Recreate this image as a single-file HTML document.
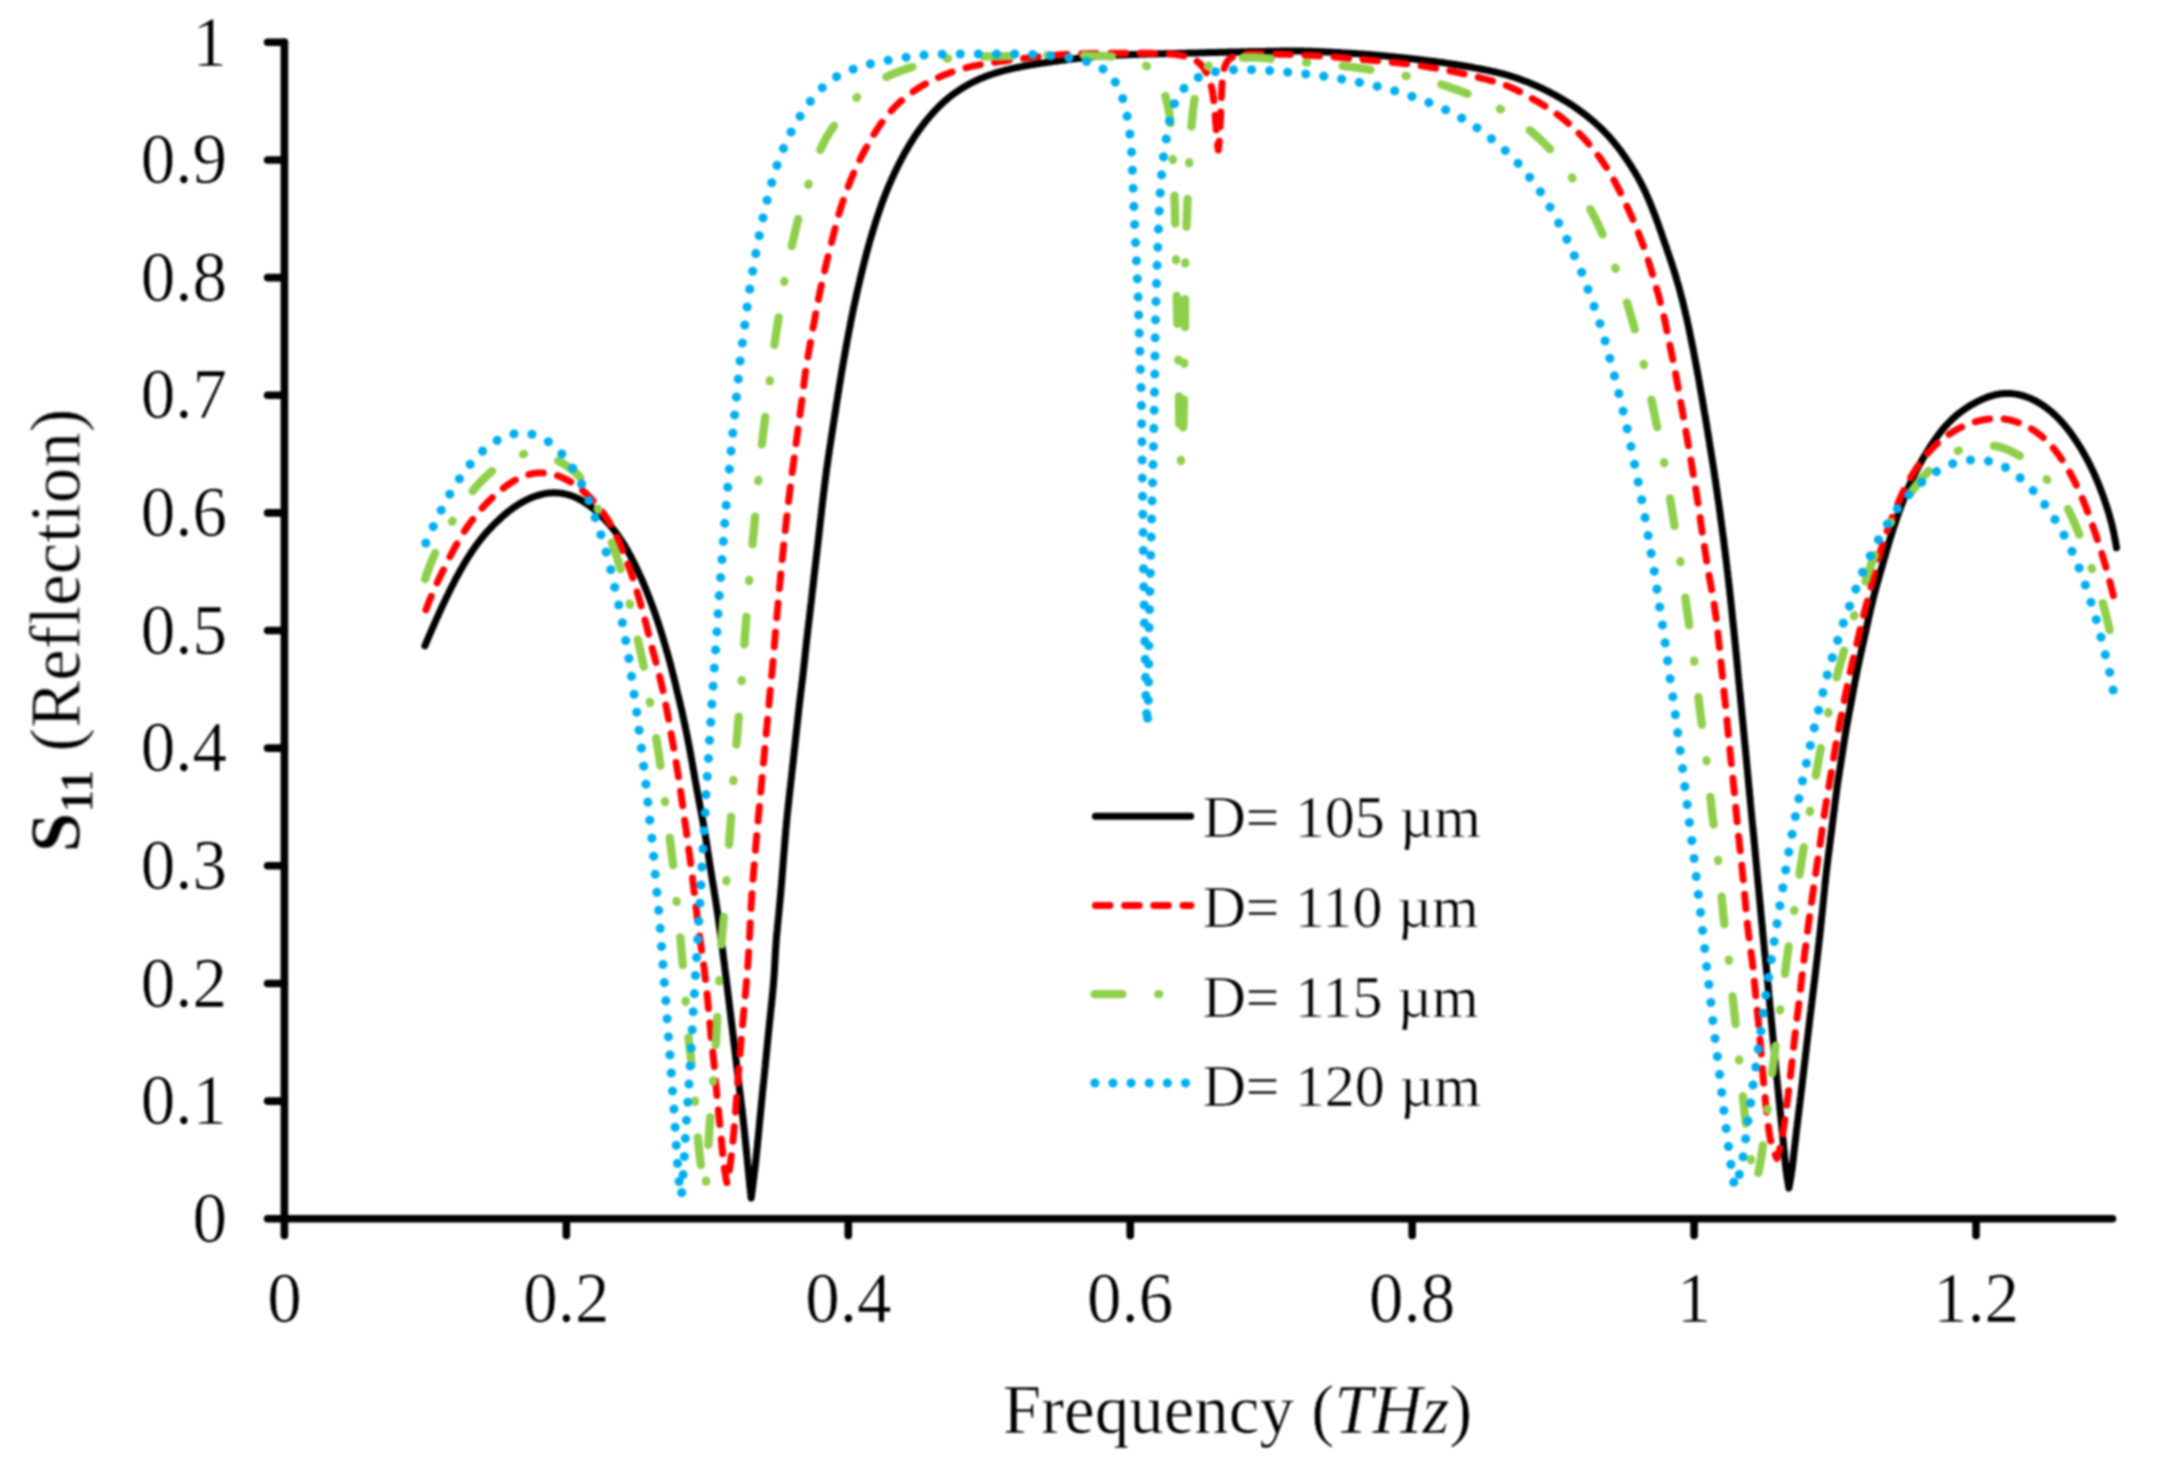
<!DOCTYPE html>
<html><head><meta charset="utf-8"><title>S11 Reflection vs Frequency</title>
<style>
html,body{margin:0;padding:0;background:#fff;}
svg{display:block}
text{font-family:"Liberation Serif","Times New Roman",serif;fill:#000;stroke:#fff;stroke-width:0.6px}
.t{font-size:69px}
.l{font-size:60px}
</style></head><body>
<svg width="2171" height="1477" viewBox="0 0 2171 1477">
<defs><filter id="soft" filterUnits="userSpaceOnUse" x="0" y="0" width="2171" height="1477"><feGaussianBlur stdDeviation="1.3" color-interpolation-filters="sRGB"/></filter></defs>
<rect width="2171" height="1477" fill="#fff"/>
<g filter="url(#soft)">

<g fill="none" stroke-linecap="round" stroke-linejoin="round">
<path d="M424.9,645.8 L425.5,644.4 L426.1,643.0 L426.7,641.6 L427.2,640.3 L427.8,638.9 L428.4,637.5 L429.0,636.1 L429.6,634.7 L430.2,633.4 L430.8,632.0 L431.4,630.6 L432.0,629.2 L432.6,627.8 L433.2,626.5 L433.8,625.1 L434.4,623.7 L435.0,622.3 L435.6,621.0 L436.2,619.6 L436.8,618.2 L437.5,616.8 L438.1,615.5 L438.7,614.1 L439.3,612.7 L439.9,611.4 L440.6,610.0 L441.2,608.6 L441.8,607.3 L442.4,605.9 L443.1,604.5 L443.7,603.2 L444.4,601.8 L445.0,600.5 L445.6,599.1 L446.3,597.8 L446.9,596.4 L447.6,595.1 L448.3,593.7 L448.9,592.4 L449.6,591.0 L450.3,589.7 L450.9,588.3 L451.6,587.0 L452.3,585.6 L453.0,584.3 L453.7,583.0 L454.3,581.6 L455.0,580.3 L455.7,579.0 L456.4,577.6 L457.1,576.3 L457.9,575.0 L458.6,573.7 L459.3,572.3 L460.0,571.0 L460.8,569.7 L461.5,568.4 L462.2,567.1 L463.0,565.8 L463.7,564.5 L464.5,563.2 L465.3,561.9 L466.1,560.6 L466.8,559.3 L467.6,558.1 L468.4,556.8 L469.2,555.5 L470.1,554.3 L470.9,553.0 L471.7,551.8 L472.5,550.5 L473.4,549.3 L474.3,548.0 L475.1,546.8 L476.0,545.6 L476.9,544.4 L477.8,543.2 L478.7,542.0 L479.6,540.8 L480.5,539.6 L481.5,538.4 L482.4,537.3 L483.4,536.1 L484.3,535.0 L485.3,533.8 L486.3,532.7 L487.3,531.6 L488.3,530.5 L489.3,529.4 L490.4,528.3 L491.4,527.2 L492.4,526.1 L493.5,525.0 L494.5,524.0 L495.6,522.9 L496.7,521.9 L497.8,520.8 L498.9,519.8 L500.0,518.8 L501.1,517.7 L502.2,516.7 L503.3,515.8 L504.5,514.8 L505.6,513.8 L506.8,512.8 L507.9,511.9 L509.1,511.0 L510.3,510.1 L511.5,509.2 L512.7,508.3 L513.9,507.4 L515.2,506.6 L516.4,505.7 L517.7,504.9 L519.0,504.1 L520.2,503.4 L521.5,502.6 L522.8,501.9 L524.2,501.2 L525.5,500.5 L526.8,499.8 L528.2,499.2 L529.5,498.5 L530.9,497.9 L532.3,497.4 L533.7,496.8 L535.1,496.3 L536.5,495.8 L537.9,495.4 L539.4,495.0 L540.8,494.6 L542.2,494.2 L543.7,493.9 L545.2,493.6 L546.6,493.3 L548.1,493.1 L549.5,493.0 L551.0,492.9 L552.5,492.8 L554.0,492.8 L555.4,492.8 L556.9,492.9 L558.4,493.0 L559.9,493.1 L561.3,493.3 L562.8,493.5 L564.2,493.8 L565.7,494.1 L567.1,494.5 L568.5,494.9 L570.0,495.3 L571.4,495.8 L572.7,496.3 L574.1,496.8 L575.5,497.4 L576.8,498.0 L578.2,498.7 L579.5,499.4 L580.8,500.1 L582.1,500.8 L583.4,501.6 L584.6,502.4 L585.9,503.2 L587.1,504.1 L588.3,504.9 L589.6,505.8 L590.8,506.7 L591.9,507.7 L593.1,508.6 L594.3,509.6 L595.4,510.5 L596.5,511.5 L597.6,512.5 L598.8,513.5 L599.9,514.6 L600.9,515.6 L602.0,516.7 L603.1,517.7 L604.1,518.8 L605.2,519.9 L606.2,521.0 L607.2,522.1 L608.2,523.2 L609.2,524.3 L610.2,525.5 L611.1,526.6 L612.1,527.8 L613.0,528.9 L614.0,530.1 L614.9,531.3 L615.8,532.5 L616.7,533.7 L617.6,534.9 L618.4,536.1 L619.3,537.4 L620.1,538.6 L621.0,539.9 L621.8,541.1 L622.6,542.4 L623.4,543.6 L624.2,544.9 L625.0,546.2 L625.7,547.5 L626.5,548.8 L627.2,550.1 L628.0,551.4 L628.7,552.7 L629.4,554.0 L630.2,555.3 L630.9,556.7 L631.6,558.0 L632.3,559.3 L632.9,560.7 L633.6,562.0 L634.3,563.3 L635.0,564.7 L635.6,566.0 L636.3,567.4 L636.9,568.8 L637.6,570.1 L638.2,571.5 L638.8,572.8 L639.4,574.2 L640.1,575.6 L640.7,577.0 L641.3,578.3 L641.9,579.7 L642.5,581.1 L643.1,582.5 L643.7,583.8 L644.2,585.2 L644.8,586.6 L645.4,588.0 L645.9,589.4 L646.5,590.8 L647.1,592.2 L647.6,593.6 L648.2,595.0 L648.7,596.4 L649.3,597.8 L649.8,599.2 L650.3,600.6 L650.9,602.0 L651.4,603.4 L651.9,604.8 L652.4,606.2 L652.9,607.6 L653.5,609.1 L654.0,610.5 L654.5,611.9 L655.0,613.3 L655.5,614.7 L655.9,616.1 L656.4,617.6 L656.9,619.0 L657.4,620.4 L657.9,621.8 L658.3,623.3 L658.8,624.7 L659.3,626.1 L659.7,627.6 L660.2,629.0 L660.6,630.4 L661.1,631.9 L661.5,633.3 L662.0,634.7 L662.4,636.2 L662.8,637.6 L663.3,639.0 L663.7,640.5 L664.1,641.9 L664.5,643.4 L665.0,644.8 L665.4,646.2 L665.8,647.7 L666.2,649.1 L666.6,650.6 L667.1,652.0 L667.5,653.5 L667.9,654.9 L668.3,656.4 L668.7,657.8 L669.1,659.3 L669.5,660.7 L669.9,662.2 L670.3,663.6 L670.6,665.1 L671.0,666.5 L671.4,668.0 L671.8,669.4 L672.2,670.9 L672.5,672.3 L672.9,673.8 L673.3,675.2 L673.6,676.7 L674.0,678.2 L674.4,679.6 L674.7,681.1 L675.1,682.5 L675.4,684.0 L675.8,685.5 L676.1,686.9 L676.5,688.4 L676.8,689.8 L677.2,691.3 L677.5,692.8 L677.9,694.2 L678.2,695.7 L678.6,697.1 L678.9,698.6 L679.3,700.1 L679.6,701.5 L680.0,703.0 L680.3,704.5 L680.6,705.9 L681.0,707.4 L681.3,708.9 L681.7,710.3 L682.0,711.8 L682.3,713.3 L682.6,714.7 L683.0,716.2 L683.3,717.7 L683.6,719.1 L683.9,720.6 L684.2,722.1 L684.6,723.5 L684.9,725.0 L685.2,726.5 L685.5,727.9 L685.8,729.4 L686.1,730.9 L686.4,732.4 L686.7,733.8 L687.0,735.3 L687.3,736.8 L687.6,738.2 L687.9,739.7 L688.2,741.2 L688.4,742.7 L688.7,744.1 L689.0,745.6 L689.3,747.1 L689.6,748.6 L689.8,750.1 L690.1,751.5 L690.4,753.0 L690.7,754.5 L690.9,756.0 L691.2,757.4 L691.5,758.9 L691.7,760.4 L692.0,761.9 L692.3,763.4 L692.5,764.8 L692.8,766.3 L693.0,767.8 L693.3,769.3 L693.6,770.8 L693.8,772.2 L694.1,773.7 L694.4,775.2 L694.6,776.7 L694.9,778.2 L695.1,779.6 L695.4,781.1 L695.7,782.6 L695.9,784.1 L696.2,785.6 L696.5,787.0 L696.7,788.5 L697.0,790.0 L697.3,791.5 L697.5,792.9 L697.8,794.4 L698.1,795.9 L698.3,797.4 L698.6,798.9 L698.9,800.3 L699.2,801.8 L699.5,803.3 L699.7,804.8 L700.0,806.2 L700.3,807.7 L700.6,809.2 L700.9,810.7 L701.1,812.1 L701.4,813.6 L701.7,815.1 L702.0,816.6 L702.2,818.1 L702.5,819.5 L702.8,821.0 L703.1,822.5 L703.3,824.0 L703.6,825.4 L703.8,826.9 L704.1,828.4 L704.4,829.9 L704.6,831.4 L704.9,832.8 L705.1,834.3 L705.4,835.8 L705.6,837.3 L705.9,838.8 L706.1,840.3 L706.3,841.7 L706.6,843.2 L706.8,844.7 L707.0,846.2 L707.3,847.7 L707.5,849.2 L707.7,850.6 L708.0,852.1 L708.2,853.6 L708.4,855.1 L708.6,856.6 L708.9,858.1 L709.1,859.6 L709.3,861.0 L709.5,862.5 L709.8,864.0 L710.0,865.5 L710.2,867.0 L710.5,868.5 L710.7,870.0 L710.9,871.4 L711.2,872.9 L711.4,874.4 L711.7,875.9 L711.9,877.4 L712.2,878.9 L712.4,880.3 L712.6,881.8 L712.9,883.3 L713.1,884.8 L713.4,886.3 L713.6,887.8 L713.9,889.2 L714.1,890.7 L714.3,892.2 L714.6,893.7 L714.8,895.2 L715.1,896.7 L715.3,898.1 L715.5,899.6 L715.8,901.1 L716.0,902.6 L716.2,904.1 L716.4,905.6 L716.7,907.0 L716.9,908.5 L717.1,910.0 L717.3,911.5 L717.6,913.0 L717.8,914.5 L718.0,916.0 L718.2,917.5 L718.4,918.9 L718.6,920.4 L718.8,921.9 L719.0,923.4 L719.2,924.9 L719.4,926.4 L719.6,927.9 L719.8,929.4 L720.0,930.8 L720.2,932.3 L720.4,933.8 L720.6,935.3 L720.8,936.8 L721.0,938.3 L721.2,939.8 L721.4,941.3 L721.6,942.8 L721.8,944.3 L722.0,945.7 L722.2,947.2 L722.4,948.7 L722.6,950.2 L722.8,951.7 L723.0,953.2 L723.1,954.7 L723.3,956.2 L723.5,957.7 L723.7,959.2 L723.9,960.7 L724.1,962.1 L724.3,963.6 L724.5,965.1 L724.7,966.6 L724.8,968.1 L725.0,969.6 L725.2,971.1 L725.4,972.6 L725.6,974.1 L725.8,975.6 L726.0,977.1 L726.2,978.5 L726.3,980.0 L726.5,981.5 L726.7,983.0 L726.9,984.5 L727.1,986.0 L727.3,987.5 L727.5,989.0 L727.6,990.5 L727.8,992.0 L728.0,993.5 L728.2,994.9 L728.4,996.4 L728.6,997.9 L728.7,999.4 L728.9,1000.9 L729.1,1002.4 L729.3,1003.9 L729.5,1005.4 L729.6,1006.9 L729.8,1008.4 L730.0,1009.9 L730.2,1011.4 L730.4,1012.8 L730.6,1014.3 L730.7,1015.8 L730.9,1017.3 L731.1,1018.8 L731.3,1020.3 L731.5,1021.8 L731.6,1023.3 L731.8,1024.8 L732.0,1026.3 L732.2,1027.8 L732.4,1029.3 L732.5,1030.7 L732.7,1032.2 L732.9,1033.7 L733.1,1035.2 L733.3,1036.7 L733.4,1038.2 L733.6,1039.7 L733.8,1041.2 L734.0,1042.7 L734.1,1044.2 L734.3,1045.7 L734.5,1047.2 L734.7,1048.7 L734.9,1050.1 L735.0,1051.6 L735.2,1053.1 L735.4,1054.6 L735.6,1056.1 L735.7,1057.6 L735.9,1059.1 L736.1,1060.6 L736.3,1062.1 L736.5,1063.6 L736.6,1065.1 L736.8,1066.6 L737.0,1068.1 L737.2,1069.5 L737.3,1071.0 L737.5,1072.5 L737.7,1074.0 L737.9,1075.5 L738.1,1077.0 L738.2,1078.5 L738.4,1080.0 L738.6,1081.5 L738.8,1083.0 L739.0,1084.5 L739.1,1086.0 L739.3,1087.4 L739.5,1088.9 L739.7,1090.4 L739.9,1091.9 L740.1,1093.4 L740.2,1094.9 L740.4,1096.4 L740.6,1097.9 L740.8,1099.4 L741.0,1100.9 L741.1,1102.4 L741.3,1103.9 L741.5,1105.3 L741.7,1106.8 L741.9,1108.3 L742.0,1109.8 L742.2,1111.3 L742.4,1112.8 L742.6,1114.3 L742.7,1115.8 L742.9,1117.3 L743.1,1118.8 L743.2,1120.3 L743.4,1121.8 L743.6,1123.3 L743.7,1124.8 L743.9,1126.2 L744.0,1127.7 L744.2,1129.2 L744.4,1130.7 L744.5,1132.2 L744.7,1133.7 L744.8,1135.2 L745.0,1136.7 L745.1,1138.2 L745.3,1139.7 L745.4,1141.2 L745.6,1142.7 L745.7,1144.2 L745.9,1145.7 L746.0,1147.2 L746.2,1148.7 L746.3,1150.2 L746.5,1151.7 L746.6,1153.2 L746.8,1154.6 L746.9,1156.1 L747.1,1157.6 L747.2,1159.1 L747.4,1160.6 L747.5,1162.1 L747.6,1163.6 L747.8,1165.1 L747.9,1166.6 L748.1,1168.1 L748.2,1169.6 L748.4,1171.1 L748.5,1172.6 L748.7,1174.1 L748.8,1175.6 L749.0,1177.1 L749.1,1178.6 L749.2,1180.1 L749.4,1181.6 L749.6,1183.1 L749.7,1184.6 L749.9,1186.1 L750.0,1187.5 L750.2,1189.0 L750.4,1190.5 L750.5,1192.0 L750.7,1193.5 L750.9,1195.0 L751.0,1196.5 L751.2,1198.0 L751.4,1196.5 L751.6,1195.0 L751.8,1193.5 L752.0,1192.0 L752.2,1190.6 L752.4,1189.1 L752.6,1187.6 L752.8,1186.1 L753.0,1184.6 L753.1,1183.1 L753.3,1181.6 L753.5,1180.1 L753.7,1178.6 L753.9,1177.2 L754.1,1175.7 L754.2,1174.2 L754.4,1172.7 L754.6,1171.2 L754.8,1169.7 L755.0,1168.2 L755.1,1166.7 L755.3,1165.2 L755.5,1163.7 L755.6,1162.2 L755.8,1160.8 L756.0,1159.3 L756.1,1157.8 L756.3,1156.3 L756.4,1154.8 L756.6,1153.3 L756.7,1151.8 L756.9,1150.3 L757.1,1148.8 L757.2,1147.3 L757.4,1145.8 L757.5,1144.3 L757.6,1142.8 L757.8,1141.3 L757.9,1139.8 L758.1,1138.4 L758.2,1136.9 L758.4,1135.4 L758.5,1133.9 L758.7,1132.4 L758.8,1130.9 L758.9,1129.4 L759.1,1127.9 L759.2,1126.4 L759.4,1124.9 L759.5,1123.4 L759.6,1121.9 L759.8,1120.4 L759.9,1118.9 L760.1,1117.4 L760.2,1115.9 L760.4,1114.4 L760.5,1112.9 L760.7,1111.5 L760.8,1110.0 L761.0,1108.5 L761.1,1107.0 L761.2,1105.5 L761.4,1104.0 L761.5,1102.5 L761.7,1101.0 L761.8,1099.5 L762.0,1098.0 L762.1,1096.5 L762.3,1095.0 L762.4,1093.5 L762.6,1092.0 L762.7,1090.5 L762.9,1089.0 L763.0,1087.5 L763.2,1086.1 L763.3,1084.6 L763.5,1083.1 L763.6,1081.6 L763.8,1080.1 L763.9,1078.6 L764.1,1077.1 L764.2,1075.6 L764.4,1074.1 L764.5,1072.6 L764.7,1071.1 L764.8,1069.6 L765.0,1068.1 L765.1,1066.6 L765.3,1065.1 L765.4,1063.6 L765.6,1062.2 L765.7,1060.7 L765.9,1059.2 L766.0,1057.7 L766.2,1056.2 L766.3,1054.7 L766.5,1053.2 L766.6,1051.7 L766.8,1050.2 L766.9,1048.7 L767.1,1047.2 L767.2,1045.7 L767.4,1044.2 L767.5,1042.7 L767.7,1041.2 L767.8,1039.7 L768.0,1038.3 L768.1,1036.8 L768.3,1035.3 L768.4,1033.8 L768.6,1032.3 L768.7,1030.8 L768.9,1029.3 L769.0,1027.8 L769.2,1026.3 L769.3,1024.8 L769.5,1023.3 L769.6,1021.8 L769.8,1020.3 L769.9,1018.8 L770.1,1017.3 L770.3,1015.8 L770.4,1014.4 L770.6,1012.9 L770.7,1011.4 L770.9,1009.9 L771.0,1008.4 L771.2,1006.9 L771.4,1005.4 L771.5,1003.9 L771.7,1002.4 L771.8,1000.9 L772.0,999.4 L772.1,997.9 L772.3,996.4 L772.4,994.9 L772.6,993.4 L772.7,992.0 L772.9,990.5 L773.0,989.0 L773.1,987.5 L773.3,986.0 L773.4,984.5 L773.5,983.0 L773.6,981.5 L773.8,980.0 L773.9,978.5 L774.0,977.0 L774.1,975.5 L774.2,974.0 L774.3,972.5 L774.4,971.0 L774.5,969.5 L774.6,968.0 L774.7,966.5 L774.7,965.0 L774.8,963.5 L774.9,962.0 L775.0,960.5 L775.1,959.0 L775.1,957.5 L775.2,956.0 L775.3,954.5 L775.4,953.0 L775.5,951.5 L775.6,950.0 L775.7,948.5 L775.8,947.0 L775.9,945.5 L776.0,944.0 L776.1,942.5 L776.2,941.0 L776.3,939.5 L776.4,938.0 L776.6,936.6 L776.7,935.1 L776.8,933.6 L777.0,932.1 L777.1,930.6 L777.3,929.1 L777.4,927.6 L777.5,926.1 L777.7,924.6 L777.8,923.1 L778.0,921.6 L778.1,920.1 L778.3,918.6 L778.4,917.1 L778.6,915.6 L778.7,914.1 L778.9,912.6 L779.0,911.2 L779.2,909.7 L779.3,908.2 L779.4,906.7 L779.6,905.2 L779.7,903.7 L779.9,902.2 L780.0,900.7 L780.1,899.2 L780.3,897.7 L780.4,896.2 L780.6,894.7 L780.7,893.2 L780.8,891.7 L780.9,890.2 L781.1,888.7 L781.2,887.2 L781.3,885.7 L781.5,884.2 L781.6,882.7 L781.7,881.2 L781.8,879.8 L782.0,878.3 L782.1,876.8 L782.2,875.3 L782.3,873.8 L782.4,872.3 L782.6,870.8 L782.7,869.3 L782.8,867.8 L782.9,866.3 L783.0,864.8 L783.2,863.3 L783.3,861.8 L783.4,860.3 L783.5,858.8 L783.6,857.3 L783.7,855.8 L783.9,854.3 L784.0,852.8 L784.1,851.3 L784.2,849.8 L784.3,848.3 L784.5,846.8 L784.6,845.3 L784.7,843.8 L784.8,842.3 L784.9,840.8 L785.1,839.3 L785.2,837.8 L785.3,836.4 L785.4,834.9 L785.6,833.4 L785.7,831.9 L785.8,830.4 L785.9,828.9 L786.1,827.4 L786.2,825.9 L786.4,824.4 L786.5,822.9 L786.6,821.4 L786.8,819.9 L786.9,818.4 L787.1,816.9 L787.2,815.4 L787.4,813.9 L787.5,812.4 L787.7,810.9 L787.9,809.5 L788.0,808.0 L788.2,806.5 L788.3,805.0 L788.5,803.5 L788.7,802.0 L788.8,800.5 L789.0,799.0 L789.2,797.5 L789.3,796.0 L789.5,794.5 L789.6,793.0 L789.8,791.5 L790.0,790.1 L790.1,788.6 L790.3,787.1 L790.5,785.6 L790.6,784.1 L790.8,782.6 L791.0,781.1 L791.1,779.6 L791.3,778.1 L791.5,776.6 L791.6,775.1 L791.8,773.6 L792.0,772.1 L792.1,770.7 L792.3,769.2 L792.5,767.7 L792.6,766.2 L792.8,764.7 L793.0,763.2 L793.1,761.7 L793.3,760.2 L793.5,758.7 L793.6,757.2 L793.8,755.7 L793.9,754.2 L794.1,752.7 L794.3,751.3 L794.4,749.8 L794.6,748.3 L794.8,746.8 L794.9,745.3 L795.1,743.8 L795.3,742.3 L795.4,740.8 L795.6,739.3 L795.7,737.8 L795.9,736.3 L796.1,734.8 L796.2,733.3 L796.4,731.9 L796.5,730.4 L796.7,728.9 L796.9,727.4 L797.0,725.9 L797.2,724.4 L797.4,722.9 L797.5,721.4 L797.7,719.9 L797.9,718.4 L798.0,716.9 L798.2,715.4 L798.3,713.9 L798.5,712.5 L798.7,711.0 L798.8,709.5 L799.0,708.0 L799.2,706.5 L799.3,705.0 L799.5,703.5 L799.7,702.0 L799.9,700.5 L800.0,699.0 L800.2,697.5 L800.4,696.0 L800.6,694.6 L800.7,693.1 L800.9,691.6 L801.1,690.1 L801.3,688.6 L801.5,687.1 L801.6,685.6 L801.8,684.1 L802.0,682.6 L802.2,681.1 L802.4,679.7 L802.6,678.2 L802.7,676.7 L802.9,675.2 L803.1,673.7 L803.3,672.2 L803.4,670.7 L803.6,669.2 L803.8,667.7 L803.9,666.2 L804.1,664.7 L804.2,663.2 L804.4,661.8 L804.6,660.3 L804.7,658.8 L804.9,657.3 L805.0,655.8 L805.2,654.3 L805.3,652.8 L805.5,651.3 L805.7,649.8 L805.8,648.3 L806.0,646.8 L806.1,645.3 L806.3,643.8 L806.5,642.4 L806.6,640.9 L806.8,639.4 L807.0,637.9 L807.2,636.4 L807.3,634.9 L807.5,633.4 L807.7,631.9 L807.8,630.4 L808.0,628.9 L808.2,627.4 L808.4,625.9 L808.6,624.5 L808.7,623.0 L808.9,621.5 L809.1,620.0 L809.3,618.5 L809.4,617.0 L809.6,615.5 L809.8,614.0 L810.0,612.5 L810.1,611.0 L810.3,609.5 L810.5,608.1 L810.6,606.6 L810.8,605.1 L811.0,603.6 L811.2,602.1 L811.3,600.6 L811.5,599.1 L811.7,597.6 L811.8,596.1 L812.0,594.6 L812.2,593.1 L812.3,591.6 L812.5,590.2 L812.7,588.7 L812.9,587.2 L813.0,585.7 L813.2,584.2 L813.4,582.7 L813.5,581.2 L813.7,579.7 L813.9,578.2 L814.0,576.7 L814.2,575.2 L814.4,573.7 L814.6,572.3 L814.7,570.8 L814.9,569.3 L815.1,567.8 L815.3,566.3 L815.4,564.8 L815.6,563.3 L815.8,561.8 L816.0,560.3 L816.1,558.8 L816.3,557.3 L816.5,555.9 L816.7,554.4 L816.8,552.9 L817.0,551.4 L817.2,549.9 L817.3,548.4 L817.5,546.9 L817.7,545.4 L817.9,543.9 L818.0,542.4 L818.2,540.9 L818.4,539.5 L818.5,538.0 L818.7,536.5 L818.9,535.0 L819.0,533.5 L819.2,532.0 L819.4,530.5 L819.5,529.0 L819.7,527.5 L819.9,526.0 L820.0,524.5 L820.2,523.0 L820.4,521.5 L820.5,520.1 L820.7,518.6 L820.9,517.1 L821.0,515.6 L821.2,514.1 L821.4,512.6 L821.5,511.1 L821.7,509.6 L821.9,508.1 L822.0,506.6 L822.2,505.1 L822.4,503.6 L822.6,502.2 L822.7,500.7 L822.9,499.2 L823.1,497.7 L823.3,496.2 L823.4,494.7 L823.6,493.2 L823.8,491.7 L824.0,490.2 L824.2,488.7 L824.3,487.2 L824.5,485.8 L824.7,484.3 L824.9,482.8 L825.1,481.3 L825.3,479.8 L825.5,478.3 L825.7,476.8 L825.9,475.3 L826.1,473.8 L826.2,472.4 L826.4,470.9 L826.6,469.4 L826.8,467.9 L827.1,466.4 L827.3,464.9 L827.5,463.4 L827.7,461.9 L827.9,460.5 L828.1,459.0 L828.3,457.5 L828.5,456.0 L828.8,454.5 L829.0,453.0 L829.2,451.5 L829.4,450.1 L829.6,448.6 L829.9,447.1 L830.1,445.6 L830.3,444.1 L830.6,442.6 L830.8,441.2 L831.0,439.7 L831.2,438.2 L831.5,436.7 L831.7,435.2 L831.9,433.7 L832.2,432.3 L832.4,430.8 L832.6,429.3 L832.8,427.8 L833.1,426.3 L833.3,424.8 L833.5,423.4 L833.8,421.9 L834.0,420.4 L834.2,418.9 L834.4,417.4 L834.7,415.9 L834.9,414.5 L835.1,413.0 L835.4,411.5 L835.6,410.0 L835.8,408.5 L836.0,407.0 L836.3,405.5 L836.5,404.1 L836.7,402.6 L837.0,401.1 L837.2,399.6 L837.4,398.1 L837.7,396.7 L837.9,395.2 L838.1,393.7 L838.4,392.2 L838.6,390.7 L838.9,389.2 L839.1,387.8 L839.3,386.3 L839.6,384.8 L839.8,383.3 L840.1,381.8 L840.3,380.3 L840.5,378.9 L840.8,377.4 L841.0,375.9 L841.3,374.4 L841.5,372.9 L841.8,371.5 L842.0,370.0 L842.3,368.5 L842.5,367.0 L842.8,365.5 L843.0,364.1 L843.3,362.6 L843.5,361.1 L843.8,359.6 L844.1,358.1 L844.3,356.7 L844.6,355.2 L844.8,353.7 L845.1,352.2 L845.4,350.8 L845.6,349.3 L845.9,347.8 L846.2,346.3 L846.4,344.8 L846.7,343.4 L847.0,341.9 L847.2,340.4 L847.5,338.9 L847.8,337.5 L848.1,336.0 L848.3,334.5 L848.6,333.0 L848.9,331.6 L849.2,330.1 L849.5,328.6 L849.8,327.1 L850.1,325.7 L850.3,324.2 L850.6,322.7 L850.9,321.2 L851.2,319.8 L851.5,318.3 L851.8,316.8 L852.1,315.4 L852.4,313.9 L852.7,312.4 L853.0,311.0 L853.3,309.5 L853.6,308.0 L853.9,306.5 L854.3,305.1 L854.6,303.6 L854.9,302.1 L855.2,300.7 L855.5,299.2 L855.8,297.7 L856.2,296.3 L856.5,294.8 L856.8,293.3 L857.2,291.9 L857.5,290.4 L857.8,288.9 L858.2,287.5 L858.5,286.0 L858.8,284.6 L859.2,283.1 L859.5,281.6 L859.9,280.2 L860.2,278.7 L860.5,277.3 L860.9,275.8 L861.2,274.3 L861.6,272.9 L862.0,271.4 L862.3,270.0 L862.7,268.5 L863.0,267.0 L863.4,265.6 L863.8,264.1 L864.1,262.7 L864.5,261.2 L864.9,259.8 L865.2,258.3 L865.6,256.9 L866.0,255.4 L866.4,254.0 L866.7,252.5 L867.1,251.0 L867.5,249.6 L867.9,248.2 L868.3,246.7 L868.7,245.3 L869.1,243.8 L869.5,242.4 L869.9,240.9 L870.3,239.5 L870.8,238.0 L871.2,236.6 L871.6,235.2 L872.0,233.7 L872.5,232.3 L872.9,230.8 L873.3,229.4 L873.8,228.0 L874.2,226.5 L874.7,225.1 L875.1,223.7 L875.6,222.2 L876.0,220.8 L876.5,219.4 L876.9,218.0 L877.4,216.5 L877.9,215.1 L878.4,213.7 L878.8,212.3 L879.3,210.8 L879.8,209.4 L880.3,208.0 L880.8,206.6 L881.3,205.2 L881.8,203.7 L882.3,202.3 L882.8,200.9 L883.3,199.5 L883.9,198.1 L884.4,196.7 L885.0,195.3 L885.5,193.9 L886.1,192.5 L886.6,191.1 L887.2,189.7 L887.7,188.4 L888.3,187.0 L888.9,185.6 L889.5,184.2 L890.1,182.8 L890.7,181.5 L891.3,180.1 L891.9,178.7 L892.5,177.3 L893.2,176.0 L893.8,174.6 L894.4,173.3 L895.1,171.9 L895.7,170.5 L896.4,169.2 L897.0,167.8 L897.7,166.5 L898.3,165.1 L899.0,163.8 L899.7,162.5 L900.4,161.1 L901.1,159.8 L901.8,158.5 L902.5,157.2 L903.2,155.8 L903.9,154.5 L904.6,153.2 L905.4,151.9 L906.1,150.6 L906.9,149.3 L907.6,148.0 L908.4,146.7 L909.1,145.4 L909.9,144.1 L910.7,142.8 L911.5,141.5 L912.3,140.3 L913.1,139.0 L913.9,137.7 L914.7,136.5 L915.5,135.2 L916.4,134.0 L917.2,132.8 L918.1,131.5 L918.9,130.3 L919.8,129.1 L920.7,127.9 L921.6,126.7 L922.5,125.5 L923.4,124.3 L924.3,123.1 L925.2,121.9 L926.2,120.7 L927.1,119.6 L928.1,118.4 L929.1,117.3 L930.0,116.1 L931.0,115.0 L932.0,113.9 L933.0,112.8 L934.0,111.7 L935.0,110.6 L936.1,109.5 L937.1,108.4 L938.2,107.3 L939.2,106.3 L940.3,105.2 L941.4,104.2 L942.5,103.2 L943.6,102.2 L944.7,101.2 L945.8,100.2 L947.0,99.2 L948.1,98.2 L949.3,97.3 L950.4,96.4 L951.6,95.4 L952.8,94.5 L954.0,93.7 L955.2,92.8 L956.5,91.9 L957.7,91.1 L958.9,90.2 L960.2,89.4 L961.5,88.6 L962.7,87.8 L964.0,87.0 L965.3,86.3 L966.6,85.5 L967.9,84.8 L969.2,84.1 L970.5,83.4 L971.9,82.7 L973.2,82.0 L974.5,81.3 L975.9,80.7 L977.3,80.1 L978.6,79.4 L980.0,78.8 L981.4,78.2 L982.7,77.7 L984.1,77.1 L985.5,76.6 L986.9,76.0 L988.3,75.5 L989.7,75.0 L991.2,74.5 L992.6,74.0 L994.0,73.5 L995.4,73.1 L996.9,72.6 L998.3,72.2 L999.7,71.8 L1001.2,71.4 L1002.6,71.0 L1004.1,70.6 L1005.5,70.2 L1007.0,69.8 L1008.4,69.5 L1009.9,69.1 L1011.4,68.8 L1012.8,68.4 L1014.3,68.1 L1015.7,67.8 L1017.2,67.5 L1018.7,67.2 L1020.2,66.9 L1021.6,66.6 L1023.1,66.3 L1024.6,66.0 L1026.0,65.7 L1027.5,65.5 L1029.0,65.2 L1030.5,64.9 L1032.0,64.7 L1033.4,64.5 L1034.9,64.2 L1036.4,64.0 L1037.9,63.8 L1039.4,63.5 L1040.9,63.3 L1042.3,63.1 L1043.8,62.9 L1045.3,62.7 L1046.8,62.4 L1048.3,62.2 L1049.8,62.0 L1051.3,61.8 L1052.8,61.6 L1054.2,61.4 L1055.7,61.2 L1057.2,61.0 L1058.7,60.8 L1060.2,60.6 L1061.7,60.4 L1063.2,60.2 L1064.7,60.0 L1066.1,59.8 L1067.6,59.6 L1069.1,59.4 L1070.6,59.2 L1072.1,59.1 L1073.6,58.9 L1075.1,58.7 L1076.6,58.5 L1078.1,58.3 L1079.6,58.2 L1081.0,58.0 L1082.5,57.8 L1084.0,57.7 L1085.5,57.5 L1087.0,57.4 L1088.5,57.2 L1090.0,57.1 L1091.5,56.9 L1093.0,56.8 L1094.5,56.7 L1096.0,56.5 L1097.5,56.4 L1099.0,56.3 L1100.5,56.2 L1102.0,56.1 L1103.5,56.0 L1105.0,55.9 L1106.5,55.8 L1108.0,55.7 L1109.5,55.6 L1111.0,55.5 L1112.5,55.4 L1114.0,55.3 L1115.5,55.3 L1117.0,55.2 L1118.5,55.1 L1120.0,55.1 L1121.5,55.0 L1123.0,54.9 L1124.5,54.9 L1126.0,54.8 L1127.5,54.7 L1129.0,54.7 L1130.5,54.6 L1132.0,54.6 L1133.5,54.5 L1135.0,54.5 L1136.5,54.4 L1138.0,54.4 L1139.5,54.3 L1141.0,54.3 L1142.5,54.2 L1144.0,54.2 L1145.5,54.2 L1147.0,54.1 L1148.5,54.1 L1150.0,54.0 L1151.5,54.0 L1153.0,54.0 L1154.5,53.9 L1156.0,53.9 L1157.5,53.8 L1159.0,53.8 L1160.5,53.8 L1162.0,53.7 L1163.5,53.7 L1165.0,53.7 L1166.5,53.6 L1168.0,53.6 L1169.5,53.6 L1171.0,53.5 L1172.5,53.5 L1174.0,53.5 L1175.5,53.4 L1177.0,53.4 L1178.5,53.3 L1180.0,53.3 L1181.5,53.3 L1183.0,53.2 L1184.5,53.2 L1186.0,53.2 L1187.5,53.1 L1189.0,53.1 L1190.5,53.1 L1192.0,53.0 L1193.5,53.0 L1195.0,52.9 L1196.5,52.9 L1198.0,52.9 L1199.5,52.8 L1201.0,52.8 L1202.5,52.8 L1204.0,52.7 L1205.5,52.7 L1207.0,52.6 L1208.5,52.6 L1210.0,52.6 L1211.5,52.5 L1213.0,52.5 L1214.5,52.5 L1216.0,52.4 L1217.5,52.4 L1219.0,52.3 L1220.5,52.3 L1222.0,52.3 L1223.5,52.2 L1225.0,52.2 L1226.5,52.2 L1228.0,52.1 L1229.5,52.1 L1231.0,52.0 L1232.5,52.0 L1234.0,52.0 L1235.5,51.9 L1237.0,51.9 L1238.5,51.9 L1240.0,51.8 L1241.5,51.8 L1243.0,51.8 L1244.5,51.7 L1246.0,51.7 L1247.5,51.7 L1249.0,51.6 L1250.5,51.6 L1252.0,51.6 L1253.5,51.6 L1255.0,51.5 L1256.5,51.5 L1258.0,51.5 L1259.5,51.4 L1261.0,51.4 L1262.5,51.4 L1264.0,51.4 L1265.5,51.4 L1267.0,51.3 L1268.5,51.3 L1270.0,51.3 L1271.5,51.3 L1273.0,51.2 L1274.5,51.2 L1276.0,51.2 L1277.5,51.2 L1279.0,51.2 L1280.5,51.1 L1282.0,51.1 L1283.5,51.1 L1285.0,51.1 L1286.5,51.1 L1288.0,51.1 L1289.5,51.1 L1291.0,51.1 L1292.5,51.1 L1294.0,51.1 L1295.6,51.1 L1297.1,51.1 L1298.6,51.1 L1300.1,51.1 L1301.6,51.1 L1303.1,51.1 L1304.6,51.2 L1306.1,51.2 L1307.6,51.2 L1309.1,51.3 L1310.6,51.3 L1312.1,51.3 L1313.6,51.4 L1315.1,51.5 L1316.6,51.5 L1318.1,51.6 L1319.6,51.6 L1321.1,51.7 L1322.6,51.8 L1324.1,51.8 L1325.6,51.9 L1327.1,52.0 L1328.6,52.1 L1330.1,52.1 L1331.6,52.2 L1333.1,52.3 L1334.6,52.4 L1336.1,52.5 L1337.6,52.6 L1339.1,52.6 L1340.6,52.7 L1342.0,52.8 L1343.5,52.9 L1345.0,53.0 L1346.5,53.1 L1348.0,53.2 L1349.5,53.2 L1351.0,53.3 L1352.5,53.4 L1354.0,53.5 L1355.5,53.6 L1357.0,53.7 L1358.5,53.8 L1360.0,53.9 L1361.5,54.0 L1363.0,54.1 L1364.5,54.2 L1366.0,54.4 L1367.5,54.5 L1369.0,54.6 L1370.5,54.7 L1372.0,54.8 L1373.5,54.9 L1375.0,55.1 L1376.5,55.2 L1378.0,55.3 L1379.5,55.4 L1381.0,55.6 L1382.5,55.7 L1384.0,55.9 L1385.5,56.0 L1387.0,56.1 L1388.5,56.3 L1389.9,56.4 L1391.4,56.6 L1392.9,56.7 L1394.4,56.9 L1395.9,57.0 L1397.4,57.2 L1398.9,57.4 L1400.4,57.5 L1401.9,57.7 L1403.4,57.8 L1404.9,58.0 L1406.4,58.2 L1407.9,58.3 L1409.4,58.5 L1410.8,58.7 L1412.3,58.8 L1413.8,59.0 L1415.3,59.2 L1416.8,59.3 L1418.3,59.5 L1419.8,59.7 L1421.3,59.9 L1422.8,60.0 L1424.3,60.2 L1425.8,60.4 L1427.3,60.6 L1428.7,60.8 L1430.2,60.9 L1431.7,61.1 L1433.2,61.3 L1434.7,61.5 L1436.2,61.7 L1437.7,61.9 L1439.2,62.1 L1440.7,62.3 L1442.1,62.5 L1443.6,62.7 L1445.1,62.9 L1446.6,63.2 L1448.1,63.4 L1449.6,63.6 L1451.0,63.8 L1452.5,64.1 L1454.0,64.3 L1455.5,64.5 L1457.0,64.8 L1458.5,65.0 L1459.9,65.2 L1461.4,65.5 L1462.9,65.7 L1464.4,66.0 L1465.9,66.3 L1467.3,66.5 L1468.8,66.8 L1470.3,67.0 L1471.8,67.3 L1473.3,67.6 L1474.7,67.9 L1476.2,68.1 L1477.7,68.4 L1479.2,68.7 L1480.6,69.0 L1482.1,69.3 L1483.6,69.5 L1485.0,69.8 L1486.5,70.1 L1488.0,70.4 L1489.5,70.7 L1490.9,71.1 L1492.4,71.4 L1493.9,71.7 L1495.3,72.0 L1496.8,72.4 L1498.2,72.7 L1499.7,73.1 L1501.2,73.4 L1502.6,73.8 L1504.1,74.2 L1505.5,74.6 L1506.9,75.0 L1508.4,75.4 L1509.8,75.9 L1511.3,76.3 L1512.7,76.7 L1514.1,77.2 L1515.5,77.7 L1517.0,78.2 L1518.4,78.6 L1519.8,79.1 L1521.2,79.7 L1522.6,80.2 L1524.0,80.7 L1525.4,81.2 L1526.8,81.8 L1528.2,82.3 L1529.6,82.9 L1531.0,83.5 L1532.4,84.1 L1533.7,84.7 L1535.1,85.3 L1536.5,85.9 L1537.9,86.5 L1539.2,87.1 L1540.6,87.7 L1541.9,88.4 L1543.3,89.0 L1544.6,89.7 L1546.0,90.4 L1547.3,91.0 L1548.7,91.7 L1550.0,92.4 L1551.3,93.1 L1552.7,93.8 L1554.0,94.5 L1555.3,95.2 L1556.6,95.9 L1557.9,96.7 L1559.2,97.4 L1560.5,98.2 L1561.8,98.9 L1563.1,99.7 L1564.4,100.5 L1565.7,101.2 L1567.0,102.0 L1568.2,102.8 L1569.5,103.6 L1570.8,104.4 L1572.0,105.3 L1573.3,106.1 L1574.5,106.9 L1575.7,107.8 L1577.0,108.6 L1578.2,109.5 L1579.4,110.4 L1580.6,111.3 L1581.8,112.1 L1583.0,113.0 L1584.2,113.9 L1585.4,114.9 L1586.6,115.8 L1587.8,116.7 L1588.9,117.7 L1590.1,118.6 L1591.3,119.6 L1592.4,120.5 L1593.5,121.5 L1594.7,122.5 L1595.8,123.5 L1596.9,124.5 L1598.0,125.5 L1599.1,126.5 L1600.2,127.6 L1601.3,128.6 L1602.3,129.7 L1603.4,130.7 L1604.5,131.8 L1605.5,132.9 L1606.5,134.0 L1607.6,135.1 L1608.6,136.2 L1609.6,137.3 L1610.6,138.4 L1611.6,139.5 L1612.5,140.7 L1613.5,141.8 L1614.5,143.0 L1615.4,144.1 L1616.3,145.3 L1617.3,146.5 L1618.2,147.6 L1619.1,148.8 L1620.0,150.0 L1620.9,151.2 L1621.8,152.4 L1622.7,153.7 L1623.5,154.9 L1624.4,156.1 L1625.3,157.3 L1626.1,158.6 L1627.0,159.8 L1627.8,161.1 L1628.6,162.3 L1629.4,163.6 L1630.2,164.8 L1631.1,166.1 L1631.9,167.4 L1632.6,168.7 L1633.4,169.9 L1634.2,171.2 L1635.0,172.5 L1635.8,173.8 L1636.5,175.1 L1637.3,176.4 L1638.0,177.7 L1638.7,179.0 L1639.5,180.3 L1640.2,181.6 L1640.9,183.0 L1641.6,184.3 L1642.2,185.6 L1642.9,187.0 L1643.6,188.3 L1644.2,189.7 L1644.9,191.0 L1645.5,192.4 L1646.1,193.7 L1646.7,195.1 L1647.3,196.5 L1647.9,197.9 L1648.5,199.2 L1649.1,200.6 L1649.7,202.0 L1650.3,203.4 L1650.8,204.8 L1651.4,206.2 L1651.9,207.6 L1652.5,209.0 L1653.0,210.4 L1653.6,211.8 L1654.1,213.2 L1654.7,214.6 L1655.2,216.0 L1655.7,217.4 L1656.2,218.8 L1656.7,220.2 L1657.3,221.6 L1657.8,223.0 L1658.3,224.4 L1658.8,225.8 L1659.3,227.3 L1659.8,228.7 L1660.3,230.1 L1660.8,231.5 L1661.3,232.9 L1661.8,234.3 L1662.3,235.8 L1662.7,237.2 L1663.2,238.6 L1663.7,240.0 L1664.2,241.4 L1664.7,242.9 L1665.2,244.3 L1665.7,245.7 L1666.2,247.1 L1666.7,248.5 L1667.1,250.0 L1667.6,251.4 L1668.1,252.8 L1668.6,254.2 L1669.1,255.6 L1669.6,257.1 L1670.0,258.5 L1670.5,259.9 L1671.0,261.3 L1671.5,262.8 L1671.9,264.2 L1672.4,265.6 L1672.9,267.0 L1673.3,268.5 L1673.8,269.9 L1674.2,271.3 L1674.6,272.8 L1675.1,274.2 L1675.5,275.6 L1676.0,277.1 L1676.4,278.5 L1676.8,280.0 L1677.2,281.4 L1677.6,282.8 L1678.0,284.3 L1678.5,285.7 L1678.9,287.2 L1679.3,288.6 L1679.7,290.1 L1680.1,291.5 L1680.4,293.0 L1680.8,294.4 L1681.2,295.9 L1681.6,297.3 L1682.0,298.8 L1682.3,300.2 L1682.7,301.7 L1683.1,303.1 L1683.4,304.6 L1683.8,306.1 L1684.2,307.5 L1684.5,309.0 L1684.9,310.4 L1685.2,311.9 L1685.5,313.4 L1685.9,314.8 L1686.2,316.3 L1686.6,317.7 L1686.9,319.2 L1687.2,320.7 L1687.5,322.1 L1687.9,323.6 L1688.2,325.1 L1688.5,326.5 L1688.8,328.0 L1689.1,329.5 L1689.4,330.9 L1689.7,332.4 L1690.0,333.9 L1690.3,335.4 L1690.6,336.8 L1690.9,338.3 L1691.2,339.8 L1691.5,341.2 L1691.8,342.7 L1692.1,344.2 L1692.4,345.7 L1692.7,347.1 L1693.0,348.6 L1693.3,350.1 L1693.6,351.6 L1693.8,353.0 L1694.1,354.5 L1694.4,356.0 L1694.7,357.4 L1695.0,358.9 L1695.3,360.4 L1695.5,361.9 L1695.8,363.3 L1696.1,364.8 L1696.4,366.3 L1696.6,367.8 L1696.9,369.3 L1697.2,370.7 L1697.5,372.2 L1697.7,373.7 L1698.0,375.2 L1698.3,376.6 L1698.5,378.1 L1698.8,379.6 L1699.1,381.1 L1699.3,382.5 L1699.6,384.0 L1699.8,385.5 L1700.1,387.0 L1700.4,388.5 L1700.6,389.9 L1700.9,391.4 L1701.1,392.9 L1701.4,394.4 L1701.7,395.9 L1701.9,397.3 L1702.2,398.8 L1702.4,400.3 L1702.7,401.8 L1702.9,403.3 L1703.2,404.7 L1703.4,406.2 L1703.7,407.7 L1703.9,409.2 L1704.2,410.7 L1704.4,412.1 L1704.7,413.6 L1704.9,415.1 L1705.2,416.6 L1705.4,418.1 L1705.7,419.5 L1705.9,421.0 L1706.2,422.5 L1706.4,424.0 L1706.7,425.5 L1706.9,426.9 L1707.1,428.4 L1707.4,429.9 L1707.6,431.4 L1707.9,432.9 L1708.1,434.3 L1708.4,435.8 L1708.6,437.3 L1708.8,438.8 L1709.1,440.3 L1709.3,441.8 L1709.6,443.2 L1709.8,444.7 L1710.0,446.2 L1710.3,447.7 L1710.5,449.2 L1710.8,450.6 L1711.0,452.1 L1711.2,453.6 L1711.5,455.1 L1711.7,456.6 L1711.9,458.1 L1712.2,459.5 L1712.4,461.0 L1712.6,462.5 L1712.9,464.0 L1713.1,465.5 L1713.3,467.0 L1713.6,468.4 L1713.8,469.9 L1714.0,471.4 L1714.2,472.9 L1714.5,474.4 L1714.7,475.9 L1714.9,477.3 L1715.1,478.8 L1715.4,480.3 L1715.6,481.8 L1715.8,483.3 L1716.0,484.8 L1716.2,486.3 L1716.4,487.7 L1716.7,489.2 L1716.9,490.7 L1717.1,492.2 L1717.3,493.7 L1717.5,495.2 L1717.7,496.7 L1717.9,498.1 L1718.1,499.6 L1718.4,501.1 L1718.6,502.6 L1718.8,504.1 L1719.0,505.6 L1719.2,507.1 L1719.4,508.6 L1719.6,510.0 L1719.8,511.5 L1720.0,513.0 L1720.2,514.5 L1720.4,516.0 L1720.6,517.5 L1720.8,519.0 L1721.0,520.5 L1721.2,521.9 L1721.4,523.4 L1721.6,524.9 L1721.8,526.4 L1722.0,527.9 L1722.2,529.4 L1722.4,530.9 L1722.6,532.4 L1722.8,533.8 L1723.0,535.3 L1723.2,536.8 L1723.4,538.3 L1723.6,539.8 L1723.8,541.3 L1723.9,542.8 L1724.1,544.3 L1724.3,545.8 L1724.5,547.3 L1724.7,548.7 L1724.9,550.2 L1725.1,551.7 L1725.3,553.2 L1725.4,554.7 L1725.6,556.2 L1725.8,557.7 L1726.0,559.2 L1726.2,560.7 L1726.3,562.2 L1726.5,563.6 L1726.7,565.1 L1726.9,566.6 L1727.1,568.1 L1727.2,569.6 L1727.4,571.1 L1727.6,572.6 L1727.8,574.1 L1727.9,575.6 L1728.1,577.1 L1728.3,578.6 L1728.4,580.0 L1728.6,581.5 L1728.8,583.0 L1729.0,584.5 L1729.1,586.0 L1729.3,587.5 L1729.5,589.0 L1729.6,590.5 L1729.8,592.0 L1729.9,593.5 L1730.1,595.0 L1730.3,596.5 L1730.4,597.9 L1730.6,599.4 L1730.8,600.9 L1730.9,602.4 L1731.1,603.9 L1731.2,605.4 L1731.4,606.9 L1731.5,608.4 L1731.7,609.9 L1731.9,611.4 L1732.0,612.9 L1732.2,614.4 L1732.3,615.9 L1732.5,617.4 L1732.6,618.9 L1732.8,620.3 L1732.9,621.8 L1733.1,623.3 L1733.2,624.8 L1733.4,626.3 L1733.6,627.8 L1733.7,629.3 L1733.9,630.8 L1734.0,632.3 L1734.2,633.8 L1734.3,635.3 L1734.5,636.8 L1734.6,638.3 L1734.8,639.8 L1734.9,641.3 L1735.1,642.7 L1735.2,644.2 L1735.4,645.7 L1735.5,647.2 L1735.7,648.7 L1735.8,650.2 L1736.0,651.7 L1736.1,653.2 L1736.3,654.7 L1736.4,656.2 L1736.6,657.7 L1736.7,659.2 L1736.9,660.7 L1737.0,662.2 L1737.1,663.7 L1737.3,665.2 L1737.4,666.7 L1737.6,668.1 L1737.7,669.6 L1737.9,671.1 L1738.0,672.6 L1738.2,674.1 L1738.3,675.6 L1738.4,677.1 L1738.6,678.6 L1738.7,680.1 L1738.9,681.6 L1739.0,683.1 L1739.2,684.6 L1739.3,686.1 L1739.4,687.6 L1739.6,689.1 L1739.7,690.6 L1739.9,692.1 L1740.0,693.5 L1740.2,695.0 L1740.3,696.5 L1740.5,698.0 L1740.6,699.5 L1740.7,701.0 L1740.9,702.5 L1741.0,704.0 L1741.2,705.5 L1741.3,707.0 L1741.5,708.5 L1741.6,710.0 L1741.8,711.5 L1741.9,713.0 L1742.0,714.5 L1742.2,716.0 L1742.3,717.5 L1742.5,719.0 L1742.6,720.4 L1742.8,721.9 L1742.9,723.4 L1743.1,724.9 L1743.2,726.4 L1743.3,727.9 L1743.5,729.4 L1743.6,730.9 L1743.8,732.4 L1743.9,733.9 L1744.1,735.4 L1744.2,736.9 L1744.4,738.4 L1744.5,739.9 L1744.6,741.4 L1744.8,742.9 L1744.9,744.4 L1745.1,745.8 L1745.2,747.3 L1745.4,748.8 L1745.5,750.3 L1745.6,751.8 L1745.8,753.3 L1745.9,754.8 L1746.1,756.3 L1746.2,757.8 L1746.3,759.3 L1746.5,760.8 L1746.6,762.3 L1746.8,763.8 L1746.9,765.3 L1747.0,766.8 L1747.2,768.3 L1747.3,769.8 L1747.5,771.3 L1747.6,772.8 L1747.7,774.2 L1747.9,775.7 L1748.0,777.2 L1748.2,778.7 L1748.3,780.2 L1748.4,781.7 L1748.6,783.2 L1748.7,784.7 L1748.9,786.2 L1749.0,787.7 L1749.2,789.2 L1749.3,790.7 L1749.4,792.2 L1749.6,793.7 L1749.7,795.2 L1749.9,796.7 L1750.0,798.2 L1750.2,799.7 L1750.3,801.1 L1750.4,802.6 L1750.6,804.1 L1750.7,805.6 L1750.9,807.1 L1751.0,808.6 L1751.2,810.1 L1751.3,811.6 L1751.5,813.1 L1751.6,814.6 L1751.7,816.1 L1751.9,817.6 L1752.0,819.1 L1752.2,820.6 L1752.3,822.1 L1752.5,823.6 L1752.6,825.1 L1752.8,826.6 L1752.9,828.0 L1753.0,829.5 L1753.2,831.0 L1753.3,832.5 L1753.5,834.0 L1753.6,835.5 L1753.8,837.0 L1753.9,838.5 L1754.0,840.0 L1754.2,841.5 L1754.3,843.0 L1754.5,844.5 L1754.6,846.0 L1754.8,847.5 L1754.9,849.0 L1755.0,850.5 L1755.2,852.0 L1755.3,853.5 L1755.4,854.9 L1755.6,856.4 L1755.7,857.9 L1755.9,859.4 L1756.0,860.9 L1756.1,862.4 L1756.3,863.9 L1756.4,865.4 L1756.6,866.9 L1756.7,868.4 L1756.8,869.9 L1757.0,871.4 L1757.1,872.9 L1757.3,874.4 L1757.4,875.9 L1757.5,877.4 L1757.7,878.9 L1757.8,880.4 L1758.0,881.9 L1758.1,883.3 L1758.2,884.8 L1758.4,886.3 L1758.5,887.8 L1758.7,889.3 L1758.8,890.8 L1758.9,892.3 L1759.1,893.8 L1759.2,895.3 L1759.4,896.8 L1759.5,898.3 L1759.6,899.8 L1759.8,901.3 L1759.9,902.8 L1760.1,904.3 L1760.2,905.8 L1760.4,907.3 L1760.5,908.8 L1760.6,910.3 L1760.8,911.7 L1760.9,913.2 L1761.1,914.7 L1761.2,916.2 L1761.3,917.7 L1761.5,919.2 L1761.6,920.7 L1761.8,922.2 L1761.9,923.7 L1762.1,925.2 L1762.2,926.7 L1762.4,928.2 L1762.5,929.7 L1762.6,931.2 L1762.8,932.7 L1762.9,934.2 L1763.1,935.7 L1763.2,937.1 L1763.4,938.6 L1763.5,940.1 L1763.7,941.6 L1763.8,943.1 L1764.0,944.6 L1764.1,946.1 L1764.3,947.6 L1764.4,949.1 L1764.6,950.6 L1764.7,952.1 L1764.9,953.6 L1765.0,955.1 L1765.2,956.6 L1765.3,958.1 L1765.5,959.6 L1765.6,961.1 L1765.8,962.5 L1765.9,964.0 L1766.1,965.5 L1766.2,967.0 L1766.4,968.5 L1766.5,970.0 L1766.7,971.5 L1766.8,973.0 L1767.0,974.5 L1767.1,976.0 L1767.3,977.5 L1767.4,979.0 L1767.5,980.5 L1767.7,982.0 L1767.8,983.5 L1768.0,985.0 L1768.1,986.4 L1768.3,987.9 L1768.4,989.4 L1768.6,990.9 L1768.7,992.4 L1768.8,993.9 L1769.0,995.4 L1769.1,996.9 L1769.3,998.4 L1769.4,999.9 L1769.6,1001.4 L1769.7,1002.9 L1769.8,1004.4 L1770.0,1005.9 L1770.1,1007.4 L1770.3,1008.9 L1770.4,1010.4 L1770.6,1011.9 L1770.7,1013.3 L1770.8,1014.8 L1771.0,1016.3 L1771.1,1017.8 L1771.3,1019.3 L1771.4,1020.8 L1771.5,1022.3 L1771.7,1023.8 L1771.8,1025.3 L1772.0,1026.8 L1772.1,1028.3 L1772.3,1029.8 L1772.4,1031.3 L1772.5,1032.8 L1772.7,1034.3 L1772.8,1035.8 L1773.0,1037.3 L1773.1,1038.8 L1773.2,1040.3 L1773.4,1041.7 L1773.5,1043.2 L1773.7,1044.7 L1773.8,1046.2 L1774.0,1047.7 L1774.1,1049.2 L1774.2,1050.7 L1774.4,1052.2 L1774.5,1053.7 L1774.7,1055.2 L1774.8,1056.7 L1775.0,1058.2 L1775.1,1059.7 L1775.2,1061.2 L1775.4,1062.7 L1775.5,1064.2 L1775.7,1065.7 L1775.8,1067.1 L1776.0,1068.6 L1776.1,1070.1 L1776.3,1071.6 L1776.4,1073.1 L1776.6,1074.6 L1776.7,1076.1 L1776.9,1077.6 L1777.0,1079.1 L1777.2,1080.6 L1777.3,1082.1 L1777.5,1083.6 L1777.6,1085.1 L1777.8,1086.6 L1777.9,1088.1 L1778.1,1089.6 L1778.2,1091.1 L1778.3,1092.5 L1778.5,1094.0 L1778.6,1095.5 L1778.8,1097.0 L1778.9,1098.5 L1779.1,1100.0 L1779.2,1101.5 L1779.4,1103.0 L1779.5,1104.5 L1779.7,1106.0 L1779.8,1107.5 L1780.0,1109.0 L1780.1,1110.5 L1780.3,1112.0 L1780.4,1113.5 L1780.6,1115.0 L1780.7,1116.4 L1780.9,1117.9 L1781.0,1119.4 L1781.2,1120.9 L1781.3,1122.4 L1781.5,1123.9 L1781.6,1125.4 L1781.8,1126.9 L1781.9,1128.4 L1782.0,1129.9 L1782.2,1131.4 L1782.3,1132.9 L1782.5,1134.4 L1782.6,1135.9 L1782.8,1137.4 L1782.9,1138.9 L1783.1,1140.4 L1783.2,1141.8 L1783.4,1143.3 L1783.5,1144.8 L1783.6,1146.3 L1783.8,1147.8 L1783.9,1149.3 L1784.1,1150.8 L1784.2,1152.3 L1784.4,1153.8 L1784.5,1155.3 L1784.7,1156.8 L1784.8,1158.3 L1785.0,1159.8 L1785.1,1161.3 L1785.3,1162.8 L1785.4,1164.3 L1785.6,1165.8 L1785.8,1167.2 L1785.9,1168.7 L1786.1,1170.2 L1786.3,1171.7 L1786.5,1173.2 L1786.7,1174.7 L1786.9,1176.2 L1787.2,1177.7 L1787.4,1179.1 L1787.6,1180.6 L1787.9,1182.1 L1788.1,1183.6 L1788.4,1185.0 L1788.6,1186.5 L1788.9,1188.0 L1789.2,1186.5 L1789.4,1185.0 L1789.7,1183.6 L1790.0,1182.1 L1790.2,1180.6 L1790.5,1179.1 L1790.7,1177.7 L1791.0,1176.2 L1791.2,1174.7 L1791.4,1173.2 L1791.6,1171.7 L1791.9,1170.2 L1792.1,1168.7 L1792.3,1167.3 L1792.5,1165.8 L1792.6,1164.3 L1792.8,1162.8 L1793.0,1161.3 L1793.2,1159.8 L1793.4,1158.3 L1793.5,1156.8 L1793.7,1155.3 L1793.9,1153.8 L1794.0,1152.3 L1794.2,1150.8 L1794.4,1149.3 L1794.5,1147.9 L1794.7,1146.4 L1794.9,1144.9 L1795.1,1143.4 L1795.2,1141.9 L1795.4,1140.4 L1795.6,1138.9 L1795.7,1137.4 L1795.9,1135.9 L1796.1,1134.4 L1796.3,1132.9 L1796.4,1131.4 L1796.6,1129.9 L1796.8,1128.4 L1797.0,1127.0 L1797.2,1125.5 L1797.3,1124.0 L1797.5,1122.5 L1797.7,1121.0 L1797.9,1119.5 L1798.1,1118.0 L1798.2,1116.5 L1798.4,1115.0 L1798.6,1113.5 L1798.8,1112.0 L1799.0,1110.5 L1799.1,1109.1 L1799.3,1107.6 L1799.5,1106.1 L1799.7,1104.6 L1799.9,1103.1 L1800.0,1101.6 L1800.2,1100.1 L1800.4,1098.6 L1800.6,1097.1 L1800.8,1095.6 L1800.9,1094.1 L1801.1,1092.6 L1801.3,1091.2 L1801.5,1089.7 L1801.7,1088.2 L1801.8,1086.7 L1802.0,1085.2 L1802.2,1083.7 L1802.4,1082.2 L1802.5,1080.7 L1802.7,1079.2 L1802.9,1077.7 L1803.1,1076.2 L1803.2,1074.7 L1803.4,1073.2 L1803.6,1071.8 L1803.8,1070.3 L1803.9,1068.8 L1804.1,1067.3 L1804.3,1065.8 L1804.5,1064.3 L1804.7,1062.8 L1804.8,1061.3 L1805.0,1059.8 L1805.2,1058.3 L1805.4,1056.8 L1805.5,1055.3 L1805.7,1053.8 L1805.9,1052.4 L1806.1,1050.9 L1806.2,1049.4 L1806.4,1047.9 L1806.6,1046.4 L1806.8,1044.9 L1806.9,1043.4 L1807.1,1041.9 L1807.3,1040.4 L1807.5,1038.9 L1807.6,1037.4 L1807.8,1035.9 L1808.0,1034.4 L1808.2,1033.0 L1808.4,1031.5 L1808.5,1030.0 L1808.7,1028.5 L1808.9,1027.0 L1809.1,1025.5 L1809.2,1024.0 L1809.4,1022.5 L1809.6,1021.0 L1809.8,1019.5 L1810.0,1018.0 L1810.1,1016.5 L1810.3,1015.1 L1810.5,1013.6 L1810.7,1012.1 L1810.9,1010.6 L1811.0,1009.1 L1811.2,1007.6 L1811.4,1006.1 L1811.6,1004.6 L1811.8,1003.1 L1811.9,1001.6 L1812.1,1000.1 L1812.3,998.6 L1812.5,997.2 L1812.7,995.7 L1812.8,994.2 L1813.0,992.7 L1813.2,991.2 L1813.4,989.7 L1813.6,988.2 L1813.8,986.7 L1813.9,985.2 L1814.1,983.7 L1814.3,982.2 L1814.5,980.7 L1814.7,979.3 L1814.8,977.8 L1815.0,976.3 L1815.2,974.8 L1815.4,973.3 L1815.5,971.8 L1815.7,970.3 L1815.9,968.8 L1816.1,967.3 L1816.3,965.8 L1816.4,964.3 L1816.6,962.8 L1816.8,961.4 L1817.0,959.9 L1817.2,958.4 L1817.3,956.9 L1817.5,955.4 L1817.7,953.9 L1817.9,952.4 L1818.0,950.9 L1818.2,949.4 L1818.4,947.9 L1818.5,946.4 L1818.7,944.9 L1818.9,943.4 L1819.1,941.9 L1819.2,940.5 L1819.4,939.0 L1819.6,937.5 L1819.7,936.0 L1819.9,934.5 L1820.0,933.0 L1820.2,931.5 L1820.4,930.0 L1820.5,928.5 L1820.7,927.0 L1820.8,925.5 L1821.0,924.0 L1821.1,922.5 L1821.3,921.0 L1821.4,919.5 L1821.6,918.0 L1821.8,916.5 L1821.9,915.1 L1822.1,913.6 L1822.2,912.1 L1822.4,910.6 L1822.5,909.1 L1822.7,907.6 L1822.8,906.1 L1823.0,904.6 L1823.1,903.1 L1823.3,901.6 L1823.4,900.1 L1823.6,898.6 L1823.7,897.1 L1823.9,895.6 L1824.0,894.1 L1824.2,892.6 L1824.3,891.1 L1824.5,889.6 L1824.6,888.1 L1824.8,886.6 L1824.9,885.2 L1825.1,883.7 L1825.3,882.2 L1825.4,880.7 L1825.6,879.2 L1825.7,877.7 L1825.9,876.2 L1826.1,874.7 L1826.2,873.2 L1826.4,871.7 L1826.6,870.2 L1826.8,868.7 L1826.9,867.2 L1827.1,865.7 L1827.3,864.3 L1827.5,862.8 L1827.7,861.3 L1827.8,859.8 L1828.0,858.3 L1828.2,856.8 L1828.4,855.3 L1828.6,853.8 L1828.8,852.3 L1829.0,850.8 L1829.2,849.3 L1829.4,847.9 L1829.6,846.4 L1829.8,844.9 L1830.0,843.4 L1830.2,841.9 L1830.3,840.4 L1830.5,838.9 L1830.7,837.4 L1830.9,835.9 L1831.1,834.4 L1831.3,833.0 L1831.5,831.5 L1831.7,830.0 L1831.9,828.5 L1832.0,827.0 L1832.2,825.5 L1832.4,824.0 L1832.6,822.5 L1832.8,821.0 L1833.0,819.5 L1833.1,818.0 L1833.3,816.6 L1833.5,815.1 L1833.7,813.6 L1833.9,812.1 L1834.1,810.6 L1834.3,809.1 L1834.4,807.6 L1834.6,806.1 L1834.8,804.6 L1835.0,803.1 L1835.2,801.6 L1835.4,800.1 L1835.6,798.7 L1835.8,797.2 L1836.0,795.7 L1836.2,794.2 L1836.4,792.7 L1836.6,791.2 L1836.8,789.7 L1837.0,788.2 L1837.2,786.8 L1837.4,785.3 L1837.6,783.8 L1837.8,782.3 L1838.1,780.8 L1838.3,779.3 L1838.5,777.8 L1838.7,776.3 L1839.0,774.9 L1839.2,773.4 L1839.4,771.9 L1839.7,770.4 L1839.9,768.9 L1840.1,767.4 L1840.4,766.0 L1840.6,764.5 L1840.8,763.0 L1841.1,761.5 L1841.3,760.0 L1841.5,758.5 L1841.8,757.0 L1842.0,755.6 L1842.2,754.1 L1842.5,752.6 L1842.7,751.1 L1842.9,749.6 L1843.1,748.1 L1843.4,746.7 L1843.6,745.2 L1843.8,743.7 L1844.1,742.2 L1844.3,740.7 L1844.5,739.2 L1844.8,737.8 L1845.0,736.3 L1845.3,734.8 L1845.5,733.3 L1845.8,731.8 L1846.0,730.3 L1846.3,728.9 L1846.5,727.4 L1846.8,725.9 L1847.1,724.4 L1847.3,722.9 L1847.6,721.5 L1847.9,720.0 L1848.1,718.5 L1848.4,717.0 L1848.7,715.6 L1848.9,714.1 L1849.2,712.6 L1849.5,711.1 L1849.8,709.6 L1850.1,708.2 L1850.3,706.7 L1850.6,705.2 L1850.9,703.7 L1851.2,702.3 L1851.4,700.8 L1851.7,699.3 L1852.0,697.8 L1852.3,696.4 L1852.5,694.9 L1852.8,693.4 L1853.1,691.9 L1853.4,690.4 L1853.6,689.0 L1853.9,687.5 L1854.2,686.0 L1854.5,684.5 L1854.7,683.1 L1855.0,681.6 L1855.3,680.1 L1855.6,678.6 L1855.9,677.2 L1856.2,675.7 L1856.5,674.2 L1856.8,672.7 L1857.0,671.3 L1857.3,669.8 L1857.7,668.3 L1858.0,666.8 L1858.3,665.4 L1858.6,663.9 L1858.9,662.4 L1859.2,661.0 L1859.5,659.5 L1859.8,658.0 L1860.2,656.6 L1860.5,655.1 L1860.8,653.6 L1861.1,652.2 L1861.5,650.7 L1861.8,649.2 L1862.1,647.8 L1862.4,646.3 L1862.8,644.8 L1863.1,643.4 L1863.4,641.9 L1863.7,640.4 L1864.1,639.0 L1864.4,637.5 L1864.7,636.0 L1865.0,634.6 L1865.4,633.1 L1865.7,631.6 L1866.0,630.2 L1866.3,628.7 L1866.6,627.2 L1867.0,625.8 L1867.3,624.3 L1867.6,622.8 L1867.9,621.4 L1868.3,619.9 L1868.6,618.4 L1868.9,617.0 L1869.3,615.5 L1869.6,614.0 L1869.9,612.6 L1870.3,611.1 L1870.6,609.6 L1870.9,608.2 L1871.3,606.7 L1871.6,605.2 L1872.0,603.8 L1872.3,602.3 L1872.7,600.9 L1873.0,599.4 L1873.4,597.9 L1873.8,596.5 L1874.1,595.0 L1874.5,593.6 L1874.9,592.1 L1875.3,590.7 L1875.7,589.2 L1876.0,587.8 L1876.4,586.3 L1876.8,584.9 L1877.2,583.4 L1877.6,582.0 L1878.1,580.5 L1878.5,579.1 L1878.9,577.6 L1879.3,576.2 L1879.7,574.7 L1880.1,573.3 L1880.5,571.9 L1881.0,570.4 L1881.4,569.0 L1881.8,567.5 L1882.2,566.1 L1882.6,564.6 L1883.0,563.2 L1883.4,561.7 L1883.8,560.3 L1884.2,558.9 L1884.7,557.4 L1885.1,556.0 L1885.5,554.5 L1885.9,553.1 L1886.3,551.6 L1886.7,550.2 L1887.1,548.7 L1887.6,547.3 L1888.0,545.9 L1888.4,544.4 L1888.8,543.0 L1889.3,541.5 L1889.7,540.1 L1890.1,538.7 L1890.6,537.2 L1891.0,535.8 L1891.5,534.4 L1891.9,532.9 L1892.4,531.5 L1892.8,530.1 L1893.3,528.6 L1893.8,527.2 L1894.2,525.8 L1894.7,524.3 L1895.2,522.9 L1895.7,521.5 L1896.2,520.1 L1896.6,518.7 L1897.1,517.2 L1897.6,515.8 L1898.1,514.4 L1898.6,513.0 L1899.1,511.6 L1899.7,510.2 L1900.2,508.7 L1900.7,507.3 L1901.2,505.9 L1901.7,504.5 L1902.3,503.1 L1902.8,501.7 L1903.3,500.3 L1903.9,498.9 L1904.4,497.5 L1905.0,496.1 L1905.5,494.7 L1906.1,493.3 L1906.7,491.9 L1907.3,490.5 L1907.8,489.2 L1908.4,487.8 L1909.0,486.4 L1909.6,485.0 L1910.2,483.6 L1910.8,482.3 L1911.5,480.9 L1912.1,479.5 L1912.7,478.2 L1913.4,476.8 L1914.0,475.5 L1914.7,474.1 L1915.3,472.8 L1916.0,471.4 L1916.7,470.1 L1917.4,468.8 L1918.1,467.4 L1918.8,466.1 L1919.5,464.8 L1920.2,463.5 L1920.9,462.1 L1921.7,460.8 L1922.4,459.5 L1923.2,458.2 L1923.9,456.9 L1924.7,455.6 L1925.5,454.4 L1926.2,453.1 L1927.0,451.8 L1927.8,450.5 L1928.6,449.2 L1929.4,448.0 L1930.2,446.7 L1931.0,445.4 L1931.9,444.2 L1932.7,442.9 L1933.5,441.7 L1934.4,440.4 L1935.2,439.2 L1936.1,438.0 L1937.0,436.8 L1937.9,435.5 L1938.8,434.3 L1939.7,433.1 L1940.6,432.0 L1941.5,430.8 L1942.5,429.6 L1943.4,428.5 L1944.4,427.3 L1945.4,426.2 L1946.4,425.1 L1947.4,424.0 L1948.5,422.9 L1949.5,421.9 L1950.6,420.8 L1951.6,419.8 L1952.7,418.7 L1953.8,417.7 L1955.0,416.7 L1956.1,415.7 L1957.2,414.8 L1958.4,413.8 L1959.6,412.9 L1960.8,412.0 L1961.9,411.1 L1963.2,410.2 L1964.4,409.3 L1965.6,408.5 L1966.9,407.7 L1968.1,406.9 L1969.4,406.1 L1970.7,405.3 L1972.0,404.5 L1973.3,403.8 L1974.6,403.1 L1975.9,402.4 L1977.3,401.7 L1978.6,401.0 L1979.9,400.4 L1981.3,399.7 L1982.7,399.1 L1984.0,398.6 L1985.4,398.0 L1986.8,397.4 L1988.2,396.9 L1989.6,396.4 L1991.1,396.0 L1992.5,395.6 L1993.9,395.2 L1995.3,394.8 L1996.8,394.5 L1998.2,394.2 L1999.7,394.0 L2001.2,393.8 L2002.6,393.6 L2004.1,393.5 L2005.6,393.4 L2007.1,393.4 L2008.5,393.4 L2010.0,393.5 L2011.5,393.6 L2013.0,393.7 L2014.4,393.9 L2015.9,394.1 L2017.3,394.4 L2018.8,394.7 L2020.2,395.0 L2021.7,395.4 L2023.1,395.8 L2024.5,396.2 L2025.9,396.7 L2027.3,397.2 L2028.7,397.8 L2030.1,398.3 L2031.5,398.9 L2032.8,399.6 L2034.2,400.2 L2035.5,400.9 L2036.8,401.6 L2038.1,402.4 L2039.4,403.1 L2040.7,403.9 L2041.9,404.7 L2043.2,405.5 L2044.4,406.4 L2045.6,407.3 L2046.8,408.2 L2048.0,409.1 L2049.2,410.0 L2050.3,410.9 L2051.5,411.9 L2052.6,412.9 L2053.7,413.9 L2054.8,414.9 L2055.9,415.9 L2057.0,417.0 L2058.1,418.0 L2059.1,419.1 L2060.1,420.2 L2061.1,421.3 L2062.1,422.4 L2063.1,423.5 L2064.1,424.7 L2065.1,425.8 L2066.0,427.0 L2067.0,428.2 L2067.9,429.3 L2068.8,430.5 L2069.7,431.7 L2070.6,432.9 L2071.5,434.1 L2072.4,435.4 L2073.2,436.6 L2074.1,437.8 L2074.9,439.1 L2075.8,440.3 L2076.6,441.6 L2077.4,442.8 L2078.2,444.1 L2079.0,445.4 L2079.8,446.6 L2080.6,447.9 L2081.4,449.2 L2082.1,450.5 L2082.9,451.8 L2083.6,453.1 L2084.4,454.4 L2085.1,455.7 L2085.8,457.0 L2086.6,458.4 L2087.3,459.7 L2088.0,461.0 L2088.7,462.4 L2089.3,463.7 L2090.0,465.0 L2090.7,466.4 L2091.3,467.7 L2092.0,469.1 L2092.6,470.4 L2093.3,471.8 L2093.9,473.2 L2094.5,474.5 L2095.1,475.9 L2095.7,477.3 L2096.3,478.7 L2096.9,480.0 L2097.5,481.4 L2098.0,482.8 L2098.6,484.2 L2099.2,485.6 L2099.7,487.0 L2100.2,488.4 L2100.8,489.8 L2101.3,491.2 L2101.8,492.6 L2102.4,494.0 L2102.9,495.5 L2103.4,496.9 L2103.9,498.3 L2104.4,499.7 L2104.9,501.1 L2105.3,502.6 L2105.8,504.0 L2106.3,505.4 L2106.8,506.8 L2107.2,508.3 L2107.7,509.7 L2108.1,511.1 L2108.6,512.6 L2109.0,514.0 L2109.4,515.4 L2109.8,516.9 L2110.2,518.3 L2110.6,519.8 L2111.0,521.2 L2111.4,522.7 L2111.8,524.1 L2112.1,525.6 L2112.5,527.1 L2112.8,528.5 L2113.1,530.0 L2113.4,531.4 L2113.8,532.9 L2114.1,534.4 L2114.3,535.9 L2114.6,537.3 L2114.9,538.8 L2115.2,540.3 L2115.5,541.8 L2115.7,543.3 L2116.0,544.7 L2116.2,546.2 L2116.5,547.7" stroke="#000" stroke-width="7.0"/>
<path d="M425.8,609.9 L426.4,608.5 L426.9,607.1 L427.5,605.7 L428.0,604.3 L428.6,602.9 L429.1,601.5 L429.7,600.1 L430.3,598.7 L430.8,597.3 L431.4,595.9 L432.0,594.5 L432.6,593.2 L433.2,591.8 L433.8,590.4 L434.4,589.0 L435.0,587.6 L435.6,586.3 L436.2,584.9 L436.8,583.5 L437.4,582.2 L438.1,580.8 L438.7,579.4 L439.3,578.1 L440.0,576.7 L440.6,575.4 L441.3,574.0 L442.0,572.7 L442.6,571.3 L443.3,570.0 L444.0,568.6 L444.7,567.3 L445.3,565.9 L446.0,564.6 L446.7,563.2 L447.4,561.9 L448.1,560.6 L448.8,559.2 L449.4,557.9 L450.1,556.5 L450.8,555.2 L451.5,553.9 L452.2,552.5 L452.9,551.2 L453.6,549.9 L454.3,548.5 L455.0,547.2 L455.7,545.9 L456.5,544.6 L457.2,543.2 L457.9,541.9 L458.7,540.6 L459.4,539.3 L460.2,538.0 L460.9,536.7 L461.7,535.4 L462.5,534.2 L463.3,532.9 L464.1,531.6 L464.9,530.4 L465.7,529.1 L466.6,527.9 L467.4,526.6 L468.3,525.4 L469.2,524.2 L470.1,523.0 L471.0,521.8 L471.9,520.6 L472.8,519.4 L473.7,518.2 L474.6,517.0 L475.6,515.8 L476.5,514.7 L477.5,513.5 L478.4,512.3 L479.4,511.2 L480.4,510.1 L481.4,508.9 L482.4,507.8 L483.4,506.7 L484.4,505.6 L485.5,504.5 L486.5,503.4 L487.6,502.3 L488.6,501.3 L489.7,500.2 L490.8,499.2 L491.8,498.1 L492.9,497.1 L494.0,496.1 L495.1,495.0 L496.3,494.0 L497.4,493.0 L498.5,492.1 L499.7,491.1 L500.8,490.1 L502.0,489.2 L503.2,488.3 L504.4,487.3 L505.6,486.4 L506.8,485.6 L508.0,484.7 L509.3,483.8 L510.5,483.0 L511.8,482.2 L513.0,481.4 L514.3,480.6 L515.6,479.9 L516.9,479.2 L518.3,478.5 L519.6,477.8 L521.0,477.2 L522.3,476.6 L523.7,476.1 L525.1,475.6 L526.5,475.1 L527.9,474.7 L529.3,474.3 L530.8,474.0 L532.2,473.7 L533.7,473.4 L535.1,473.2 L536.6,473.1 L538.1,473.0 L539.5,472.9 L541.0,472.9 L542.5,472.9 L544.0,473.0 L545.4,473.1 L546.9,473.3 L548.4,473.5 L549.8,473.7 L551.3,474.0 L552.7,474.4 L554.2,474.7 L555.6,475.1 L557.0,475.6 L558.4,476.1 L559.8,476.6 L561.2,477.2 L562.5,477.7 L563.9,478.4 L565.2,479.0 L566.6,479.7 L567.9,480.4 L569.2,481.1 L570.5,481.9 L571.8,482.7 L573.0,483.5 L574.3,484.3 L575.5,485.1 L576.8,486.0 L578.0,486.9 L579.2,487.8 L580.3,488.7 L581.5,489.6 L582.7,490.6 L583.8,491.6 L584.9,492.6 L586.0,493.6 L587.1,494.6 L588.2,495.7 L589.2,496.7 L590.3,497.8 L591.3,498.9 L592.3,500.0 L593.4,501.1 L594.4,502.2 L595.3,503.4 L596.3,504.5 L597.3,505.6 L598.3,506.8 L599.2,508.0 L600.1,509.1 L601.1,510.3 L602.0,511.5 L602.9,512.7 L603.8,513.9 L604.6,515.2 L605.5,516.4 L606.3,517.6 L607.1,518.9 L607.9,520.1 L608.7,521.4 L609.5,522.7 L610.3,524.0 L611.0,525.3 L611.8,526.6 L612.5,527.9 L613.2,529.3 L613.9,530.6 L614.5,531.9 L615.2,533.3 L615.9,534.6 L616.5,536.0 L617.1,537.3 L617.8,538.7 L618.4,540.1 L619.0,541.5 L619.6,542.8 L620.2,544.2 L620.7,545.6 L621.3,547.0 L621.9,548.4 L622.4,549.8 L623.0,551.2 L623.6,552.6 L624.1,554.0 L624.7,555.4 L625.2,556.8 L625.7,558.2 L626.3,559.6 L626.8,561.0 L627.3,562.4 L627.8,563.8 L628.4,565.3 L628.9,566.7 L629.4,568.1 L629.9,569.5 L630.4,570.9 L630.9,572.3 L631.4,573.8 L631.9,575.2 L632.3,576.6 L632.8,578.0 L633.3,579.5 L633.7,580.9 L634.2,582.3 L634.6,583.8 L635.1,585.2 L635.5,586.6 L636.0,588.1 L636.4,589.5 L636.9,591.0 L637.3,592.4 L637.7,593.9 L638.1,595.3 L638.6,596.7 L639.0,598.2 L639.4,599.6 L639.8,601.1 L640.2,602.5 L640.6,604.0 L641.0,605.4 L641.4,606.9 L641.8,608.3 L642.2,609.8 L642.6,611.2 L643.0,612.7 L643.4,614.1 L643.8,615.6 L644.2,617.0 L644.6,618.5 L645.0,619.9 L645.3,621.4 L645.7,622.9 L646.1,624.3 L646.5,625.8 L646.8,627.2 L647.2,628.7 L647.6,630.1 L648.0,631.6 L648.3,633.1 L648.7,634.5 L649.1,636.0 L649.4,637.4 L649.8,638.9 L650.2,640.4 L650.5,641.8 L650.9,643.3 L651.3,644.7 L651.7,646.2 L652.1,647.6 L652.4,649.1 L652.8,650.5 L653.2,652.0 L653.6,653.5 L654.0,654.9 L654.4,656.4 L654.8,657.8 L655.1,659.3 L655.5,660.7 L655.9,662.2 L656.3,663.6 L656.7,665.1 L657.1,666.5 L657.4,668.0 L657.8,669.5 L658.2,670.9 L658.6,672.4 L658.9,673.8 L659.3,675.3 L659.7,676.7 L660.0,678.2 L660.4,679.7 L660.7,681.1 L661.1,682.6 L661.4,684.1 L661.8,685.5 L662.1,687.0 L662.4,688.5 L662.8,689.9 L663.1,691.4 L663.4,692.9 L663.7,694.3 L664.0,695.8 L664.3,697.3 L664.6,698.8 L664.9,700.2 L665.2,701.7 L665.5,703.2 L665.8,704.7 L666.1,706.1 L666.4,707.6 L666.7,709.1 L666.9,710.6 L667.2,712.0 L667.5,713.5 L667.8,715.0 L668.0,716.5 L668.3,718.0 L668.6,719.4 L668.8,720.9 L669.1,722.4 L669.4,723.9 L669.6,725.4 L669.9,726.9 L670.2,728.3 L670.4,729.8 L670.7,731.3 L670.9,732.8 L671.2,734.3 L671.5,735.7 L671.7,737.2 L672.0,738.7 L672.3,740.2 L672.5,741.7 L672.8,743.1 L673.1,744.6 L673.3,746.1 L673.6,747.6 L673.8,749.1 L674.1,750.6 L674.4,752.0 L674.6,753.5 L674.9,755.0 L675.1,756.5 L675.4,758.0 L675.6,759.5 L675.9,760.9 L676.1,762.4 L676.4,763.9 L676.6,765.4 L676.9,766.9 L677.1,768.4 L677.3,769.8 L677.6,771.3 L677.8,772.8 L678.0,774.3 L678.3,775.8 L678.5,777.3 L678.7,778.8 L679.0,780.2 L679.2,781.7 L679.4,783.2 L679.6,784.7 L679.9,786.2 L680.1,787.7 L680.3,789.2 L680.5,790.7 L680.7,792.2 L681.0,793.6 L681.2,795.1 L681.4,796.6 L681.6,798.1 L681.8,799.6 L682.0,801.1 L682.2,802.6 L682.5,804.1 L682.7,805.6 L682.9,807.0 L683.1,808.5 L683.3,810.0 L683.5,811.5 L683.7,813.0 L683.9,814.5 L684.1,816.0 L684.3,817.5 L684.5,819.0 L684.7,820.5 L684.9,821.9 L685.2,823.4 L685.4,824.9 L685.6,826.4 L685.8,827.9 L686.0,829.4 L686.2,830.9 L686.4,832.4 L686.6,833.9 L686.8,835.4 L687.0,836.9 L687.2,838.3 L687.4,839.8 L687.6,841.3 L687.8,842.8 L688.0,844.3 L688.2,845.8 L688.4,847.3 L688.6,848.8 L688.8,850.3 L689.0,851.8 L689.3,853.2 L689.5,854.7 L689.7,856.2 L689.9,857.7 L690.1,859.2 L690.3,860.7 L690.5,862.2 L690.6,863.7 L690.8,865.2 L691.0,866.7 L691.2,868.2 L691.4,869.7 L691.6,871.1 L691.8,872.6 L692.0,874.1 L692.2,875.6 L692.4,877.1 L692.6,878.6 L692.7,880.1 L692.9,881.6 L693.1,883.1 L693.3,884.6 L693.5,886.1 L693.7,887.6 L693.8,889.1 L694.0,890.6 L694.2,892.1 L694.4,893.5 L694.5,895.0 L694.7,896.5 L694.9,898.0 L695.1,899.5 L695.2,901.0 L695.4,902.5 L695.6,904.0 L695.8,905.5 L696.0,907.0 L696.1,908.5 L696.3,910.0 L696.5,911.5 L696.7,913.0 L696.9,914.5 L697.1,916.0 L697.2,917.4 L697.4,918.9 L697.6,920.4 L697.8,921.9 L698.0,923.4 L698.2,924.9 L698.4,926.4 L698.6,927.9 L698.8,929.4 L699.0,930.9 L699.2,932.4 L699.4,933.9 L699.6,935.4 L699.8,936.8 L700.0,938.3 L700.2,939.8 L700.4,941.3 L700.6,942.8 L700.8,944.3 L701.0,945.8 L701.2,947.3 L701.4,948.8 L701.6,950.3 L701.9,951.7 L702.1,953.2 L702.3,954.7 L702.5,956.2 L702.7,957.7 L702.9,959.2 L703.1,960.7 L703.3,962.2 L703.5,963.7 L703.7,965.2 L703.9,966.6 L704.1,968.1 L704.3,969.6 L704.5,971.1 L704.7,972.6 L704.8,974.1 L705.0,975.6 L705.2,977.1 L705.4,978.6 L705.6,980.1 L705.7,981.6 L705.9,983.1 L706.1,984.6 L706.2,986.1 L706.4,987.6 L706.5,989.1 L706.7,990.6 L706.9,992.0 L707.0,993.5 L707.2,995.0 L707.3,996.5 L707.5,998.0 L707.6,999.5 L707.8,1001.0 L707.9,1002.5 L708.1,1004.0 L708.2,1005.5 L708.3,1007.0 L708.5,1008.5 L708.6,1010.0 L708.8,1011.5 L708.9,1013.0 L709.0,1014.5 L709.2,1016.0 L709.3,1017.5 L709.4,1019.0 L709.6,1020.5 L709.7,1022.0 L709.8,1023.5 L710.0,1025.0 L710.1,1026.5 L710.3,1028.0 L710.4,1029.5 L710.6,1031.0 L710.7,1032.5 L710.8,1034.0 L711.0,1035.5 L711.2,1037.0 L711.3,1038.5 L711.5,1040.0 L711.6,1041.5 L711.8,1043.0 L711.9,1044.5 L712.1,1046.0 L712.3,1047.5 L712.4,1048.9 L712.6,1050.4 L712.8,1051.9 L712.9,1053.4 L713.1,1054.9 L713.2,1056.4 L713.4,1057.9 L713.5,1059.4 L713.7,1060.9 L713.9,1062.4 L714.0,1063.9 L714.2,1065.4 L714.3,1066.9 L714.4,1068.4 L714.6,1069.9 L714.7,1071.4 L714.9,1072.9 L715.0,1074.4 L715.1,1075.9 L715.3,1077.4 L715.4,1078.9 L715.6,1080.4 L715.7,1081.9 L715.8,1083.4 L716.0,1084.9 L716.1,1086.4 L716.2,1087.9 L716.4,1089.4 L716.5,1090.9 L716.6,1092.4 L716.8,1093.9 L716.9,1095.4 L717.1,1096.9 L717.2,1098.4 L717.4,1099.9 L717.5,1101.4 L717.6,1102.9 L717.8,1104.4 L717.9,1105.9 L718.1,1107.3 L718.2,1108.8 L718.4,1110.3 L718.5,1111.8 L718.7,1113.3 L718.8,1114.8 L719.0,1116.3 L719.1,1117.8 L719.3,1119.3 L719.4,1120.8 L719.6,1122.3 L719.7,1123.8 L719.9,1125.3 L720.0,1126.8 L720.2,1128.3 L720.3,1129.8 L720.5,1131.3 L720.6,1132.8 L720.8,1134.3 L720.9,1135.8 L721.1,1137.3 L721.2,1138.8 L721.4,1140.3 L721.5,1141.8 L721.7,1143.3 L721.8,1144.8 L721.9,1146.3 L722.1,1147.8 L722.2,1149.3 L722.4,1150.8 L722.5,1152.3 L722.7,1153.8 L722.8,1155.3 L723.0,1156.8 L723.1,1158.3 L723.3,1159.8 L723.5,1161.2 L723.6,1162.7 L723.8,1164.2 L724.0,1165.7 L724.2,1167.2 L724.4,1168.7 L724.6,1170.2 L724.9,1171.7 L725.1,1173.2 L725.4,1174.6 L725.6,1176.1 L725.9,1177.6 L726.1,1179.1 L726.4,1180.5 L726.7,1182.0 L727.0,1183.5 L727.3,1182.0 L727.6,1180.6 L727.9,1179.1 L728.1,1177.6 L728.4,1176.1 L728.7,1174.7 L728.9,1173.2 L729.2,1171.7 L729.4,1170.2 L729.6,1168.7 L729.9,1167.2 L730.1,1165.8 L730.3,1164.3 L730.5,1162.8 L730.7,1161.3 L730.8,1159.8 L731.0,1158.3 L731.2,1156.8 L731.4,1155.3 L731.5,1153.8 L731.7,1152.3 L731.9,1150.9 L732.0,1149.4 L732.2,1147.9 L732.4,1146.4 L732.5,1144.9 L732.7,1143.4 L732.8,1141.9 L733.0,1140.4 L733.1,1138.9 L733.3,1137.4 L733.4,1135.9 L733.6,1134.4 L733.7,1132.9 L733.8,1131.4 L734.0,1129.9 L734.1,1128.4 L734.2,1126.9 L734.4,1125.4 L734.5,1123.9 L734.6,1122.4 L734.7,1121.0 L734.9,1119.5 L735.0,1118.0 L735.1,1116.5 L735.2,1115.0 L735.4,1113.5 L735.5,1112.0 L735.6,1110.5 L735.7,1109.0 L735.8,1107.5 L735.9,1106.0 L736.0,1104.5 L736.2,1103.0 L736.3,1101.5 L736.4,1100.0 L736.5,1098.5 L736.6,1097.0 L736.7,1095.5 L736.8,1094.0 L736.9,1092.5 L737.0,1091.0 L737.2,1089.5 L737.3,1088.0 L737.4,1086.5 L737.5,1085.0 L737.6,1083.5 L737.7,1082.0 L737.8,1080.5 L738.0,1079.0 L738.1,1077.5 L738.2,1076.0 L738.3,1074.5 L738.4,1073.0 L738.6,1071.5 L738.7,1070.0 L738.8,1068.5 L738.9,1067.0 L739.0,1065.5 L739.2,1064.0 L739.3,1062.5 L739.4,1061.0 L739.5,1059.6 L739.7,1058.1 L739.8,1056.6 L739.9,1055.1 L740.0,1053.6 L740.2,1052.1 L740.3,1050.6 L740.4,1049.1 L740.5,1047.6 L740.7,1046.1 L740.8,1044.6 L740.9,1043.1 L741.1,1041.6 L741.2,1040.1 L741.3,1038.6 L741.5,1037.1 L741.6,1035.6 L741.7,1034.1 L741.9,1032.6 L742.0,1031.1 L742.1,1029.6 L742.3,1028.1 L742.4,1026.6 L742.5,1025.1 L742.7,1023.6 L742.8,1022.1 L742.9,1020.6 L743.1,1019.2 L743.2,1017.7 L743.4,1016.2 L743.5,1014.7 L743.6,1013.2 L743.8,1011.7 L743.9,1010.2 L744.0,1008.7 L744.2,1007.2 L744.3,1005.7 L744.5,1004.2 L744.6,1002.7 L744.7,1001.2 L744.9,999.7 L745.0,998.2 L745.1,996.7 L745.3,995.2 L745.4,993.7 L745.6,992.2 L745.7,990.7 L745.8,989.2 L746.0,987.7 L746.1,986.2 L746.2,984.7 L746.4,983.3 L746.5,981.8 L746.6,980.3 L746.7,978.8 L746.9,977.3 L747.0,975.8 L747.1,974.3 L747.2,972.8 L747.3,971.3 L747.5,969.8 L747.6,968.3 L747.7,966.8 L747.8,965.3 L747.9,963.8 L748.0,962.3 L748.1,960.8 L748.2,959.3 L748.3,957.8 L748.4,956.3 L748.5,954.8 L748.6,953.3 L748.7,951.8 L748.8,950.3 L748.9,948.8 L749.0,947.3 L749.0,945.8 L749.1,944.3 L749.2,942.8 L749.3,941.3 L749.4,939.8 L749.5,938.3 L749.5,936.8 L749.6,935.3 L749.7,933.8 L749.8,932.3 L749.8,930.8 L749.9,929.3 L750.0,927.8 L750.1,926.3 L750.1,924.8 L750.2,923.3 L750.3,921.8 L750.4,920.3 L750.4,918.8 L750.5,917.3 L750.6,915.8 L750.7,914.3 L750.8,912.8 L750.8,911.3 L750.9,909.8 L751.0,908.3 L751.1,906.8 L751.2,905.3 L751.3,903.8 L751.4,902.3 L751.5,900.8 L751.6,899.3 L751.7,897.8 L751.7,896.3 L751.8,894.8 L752.0,893.3 L752.1,891.8 L752.2,890.3 L752.3,888.8 L752.4,887.3 L752.5,885.8 L752.6,884.3 L752.7,882.8 L752.8,881.3 L752.9,879.8 L753.1,878.3 L753.2,876.8 L753.3,875.3 L753.4,873.8 L753.6,872.3 L753.7,870.8 L753.8,869.3 L753.9,867.8 L754.1,866.4 L754.2,864.9 L754.3,863.4 L754.4,861.9 L754.6,860.4 L754.7,858.9 L754.8,857.4 L755.0,855.9 L755.1,854.4 L755.2,852.9 L755.3,851.4 L755.5,849.9 L755.6,848.4 L755.7,846.9 L755.9,845.4 L756.0,843.9 L756.1,842.4 L756.2,840.9 L756.4,839.4 L756.5,837.9 L756.6,836.4 L756.8,834.9 L756.9,833.4 L757.0,831.9 L757.2,830.4 L757.3,828.9 L757.4,827.4 L757.6,825.9 L757.7,824.5 L757.8,823.0 L758.0,821.5 L758.1,820.0 L758.3,818.5 L758.4,817.0 L758.5,815.5 L758.7,814.0 L758.8,812.5 L759.0,811.0 L759.1,809.5 L759.2,808.0 L759.4,806.5 L759.5,805.0 L759.7,803.5 L759.8,802.0 L759.9,800.5 L760.1,799.0 L760.2,797.5 L760.3,796.0 L760.5,794.5 L760.6,793.0 L760.8,791.5 L760.9,790.1 L761.0,788.6 L761.2,787.1 L761.3,785.6 L761.4,784.1 L761.6,782.6 L761.7,781.1 L761.9,779.6 L762.0,778.1 L762.1,776.6 L762.3,775.1 L762.4,773.6 L762.6,772.1 L762.7,770.6 L762.8,769.1 L763.0,767.6 L763.1,766.1 L763.3,764.6 L763.4,763.1 L763.5,761.6 L763.7,760.1 L763.8,758.6 L764.0,757.1 L764.1,755.7 L764.3,754.2 L764.4,752.7 L764.5,751.2 L764.7,749.7 L764.8,748.2 L765.0,746.7 L765.1,745.2 L765.3,743.7 L765.4,742.2 L765.5,740.7 L765.7,739.2 L765.8,737.7 L766.0,736.2 L766.1,734.7 L766.2,733.2 L766.4,731.7 L766.5,730.2 L766.7,728.7 L766.8,727.2 L767.0,725.7 L767.1,724.3 L767.2,722.8 L767.4,721.3 L767.5,719.8 L767.7,718.3 L767.8,716.8 L767.9,715.3 L768.1,713.8 L768.2,712.3 L768.3,710.8 L768.5,709.3 L768.6,707.8 L768.8,706.3 L768.9,704.8 L769.0,703.3 L769.2,701.8 L769.3,700.3 L769.4,698.8 L769.6,697.3 L769.7,695.8 L769.9,694.3 L770.0,692.8 L770.2,691.3 L770.3,689.9 L770.4,688.4 L770.6,686.9 L770.7,685.4 L770.9,683.9 L771.0,682.4 L771.2,680.9 L771.3,679.4 L771.5,677.9 L771.6,676.4 L771.8,674.9 L771.9,673.4 L772.0,671.9 L772.2,670.4 L772.3,668.9 L772.5,667.4 L772.6,665.9 L772.7,664.4 L772.8,662.9 L773.0,661.4 L773.1,659.9 L773.2,658.4 L773.3,656.9 L773.5,655.5 L773.6,654.0 L773.7,652.5 L773.8,651.0 L774.0,649.5 L774.1,648.0 L774.2,646.5 L774.3,645.0 L774.5,643.5 L774.6,642.0 L774.7,640.5 L774.9,639.0 L775.0,637.5 L775.1,636.0 L775.2,634.5 L775.4,633.0 L775.5,631.5 L775.6,630.0 L775.8,628.5 L775.9,627.0 L776.1,625.5 L776.2,624.0 L776.3,622.5 L776.5,621.0 L776.6,619.5 L776.7,618.0 L776.9,616.5 L777.0,615.0 L777.1,613.6 L777.3,612.1 L777.4,610.6 L777.5,609.1 L777.7,607.6 L777.8,606.1 L778.0,604.6 L778.1,603.1 L778.2,601.6 L778.4,600.1 L778.5,598.6 L778.6,597.1 L778.8,595.6 L778.9,594.1 L779.1,592.6 L779.2,591.1 L779.3,589.6 L779.5,588.1 L779.6,586.6 L779.7,585.1 L779.9,583.6 L780.0,582.1 L780.2,580.6 L780.3,579.2 L780.5,577.7 L780.6,576.2 L780.7,574.7 L780.9,573.2 L781.0,571.7 L781.2,570.2 L781.3,568.7 L781.5,567.2 L781.6,565.7 L781.8,564.2 L781.9,562.7 L782.0,561.2 L782.2,559.7 L782.4,558.2 L782.5,556.7 L782.7,555.2 L782.8,553.7 L783.0,552.2 L783.1,550.8 L783.3,549.3 L783.4,547.8 L783.6,546.3 L783.7,544.8 L783.9,543.3 L784.1,541.8 L784.2,540.3 L784.4,538.8 L784.5,537.3 L784.7,535.8 L784.9,534.3 L785.0,532.8 L785.2,531.3 L785.3,529.8 L785.5,528.3 L785.7,526.9 L785.8,525.4 L786.0,523.9 L786.2,522.4 L786.3,520.9 L786.5,519.4 L786.7,517.9 L786.8,516.4 L787.0,514.9 L787.2,513.4 L787.3,511.9 L787.5,510.4 L787.7,508.9 L787.8,507.4 L788.0,506.0 L788.2,504.5 L788.4,503.0 L788.5,501.5 L788.7,500.0 L788.9,498.5 L789.1,497.0 L789.3,495.5 L789.5,494.0 L789.6,492.5 L789.8,491.0 L790.0,489.6 L790.2,488.1 L790.4,486.6 L790.6,485.1 L790.8,483.6 L791.0,482.1 L791.1,480.6 L791.3,479.1 L791.5,477.6 L791.7,476.1 L791.9,474.7 L792.1,473.2 L792.3,471.7 L792.5,470.2 L792.7,468.7 L792.9,467.2 L793.1,465.7 L793.3,464.2 L793.5,462.7 L793.7,461.3 L793.9,459.8 L794.1,458.3 L794.3,456.8 L794.5,455.3 L794.7,453.8 L794.9,452.3 L795.1,450.8 L795.3,449.3 L795.5,447.9 L795.7,446.4 L795.9,444.9 L796.1,443.4 L796.3,441.9 L796.5,440.4 L796.7,438.9 L796.9,437.4 L797.1,435.9 L797.3,434.5 L797.5,433.0 L797.7,431.5 L797.9,430.0 L798.1,428.5 L798.3,427.0 L798.5,425.5 L798.7,424.0 L798.9,422.5 L799.1,421.1 L799.3,419.6 L799.5,418.1 L799.7,416.6 L799.9,415.1 L800.1,413.6 L800.3,412.1 L800.5,410.6 L800.7,409.1 L800.9,407.7 L801.1,406.2 L801.3,404.7 L801.5,403.2 L801.7,401.7 L801.9,400.2 L802.1,398.7 L802.3,397.2 L802.5,395.7 L802.6,394.3 L802.8,392.8 L803.0,391.3 L803.2,389.8 L803.4,388.3 L803.6,386.8 L803.7,385.3 L803.9,383.8 L804.1,382.3 L804.3,380.8 L804.5,379.4 L804.7,377.9 L804.9,376.4 L805.1,374.9 L805.3,373.4 L805.5,371.9 L805.7,370.4 L806.0,368.9 L806.2,367.5 L806.4,366.0 L806.7,364.5 L806.9,363.0 L807.2,361.5 L807.4,360.0 L807.6,358.6 L807.9,357.1 L808.1,355.6 L808.4,354.1 L808.6,352.6 L808.9,351.2 L809.2,349.7 L809.4,348.2 L809.7,346.7 L809.9,345.2 L810.2,343.8 L810.4,342.3 L810.7,340.8 L811.0,339.3 L811.2,337.8 L811.5,336.4 L811.8,334.9 L812.0,333.4 L812.3,331.9 L812.6,330.5 L812.8,329.0 L813.1,327.5 L813.4,326.0 L813.7,324.5 L813.9,323.1 L814.2,321.6 L814.5,320.1 L814.7,318.6 L815.0,317.2 L815.3,315.7 L815.6,314.2 L815.9,312.7 L816.1,311.3 L816.4,309.8 L816.7,308.3 L817.0,306.8 L817.3,305.4 L817.5,303.9 L817.8,302.4 L818.1,300.9 L818.4,299.5 L818.7,298.0 L819.0,296.5 L819.3,295.0 L819.6,293.6 L819.9,292.1 L820.2,290.6 L820.5,289.2 L820.9,287.7 L821.2,286.2 L821.5,284.8 L821.8,283.3 L822.1,281.8 L822.5,280.4 L822.8,278.9 L823.1,277.4 L823.4,276.0 L823.8,274.5 L824.1,273.0 L824.4,271.6 L824.8,270.1 L825.1,268.6 L825.5,267.2 L825.8,265.7 L826.1,264.3 L826.5,262.8 L826.8,261.3 L827.2,259.9 L827.6,258.4 L827.9,257.0 L828.3,255.5 L828.6,254.0 L829.0,252.6 L829.4,251.1 L829.7,249.7 L830.1,248.2 L830.5,246.8 L830.8,245.3 L831.2,243.8 L831.6,242.4 L831.9,240.9 L832.3,239.5 L832.7,238.0 L833.0,236.6 L833.4,235.1 L833.8,233.6 L834.1,232.2 L834.5,230.7 L834.9,229.3 L835.2,227.8 L835.6,226.4 L836.0,224.9 L836.4,223.5 L836.7,222.0 L837.1,220.6 L837.5,219.1 L837.9,217.7 L838.3,216.2 L838.7,214.8 L839.1,213.3 L839.6,211.9 L840.0,210.4 L840.4,209.0 L840.9,207.6 L841.3,206.1 L841.8,204.7 L842.3,203.3 L842.7,201.9 L843.2,200.4 L843.7,199.0 L844.2,197.6 L844.7,196.2 L845.2,194.8 L845.7,193.4 L846.2,191.9 L846.7,190.5 L847.3,189.1 L847.8,187.7 L848.3,186.3 L848.8,184.9 L849.4,183.5 L849.9,182.1 L850.5,180.7 L851.0,179.3 L851.6,177.9 L852.2,176.5 L852.8,175.2 L853.3,173.8 L853.9,172.4 L854.6,171.0 L855.2,169.7 L855.8,168.3 L856.4,166.9 L857.1,165.6 L857.7,164.2 L858.4,162.9 L859.0,161.5 L859.7,160.2 L860.4,158.8 L861.0,157.5 L861.7,156.2 L862.4,154.8 L863.1,153.5 L863.8,152.2 L864.5,150.8 L865.2,149.5 L865.9,148.2 L866.7,146.9 L867.4,145.6 L868.1,144.2 L868.9,142.9 L869.6,141.6 L870.4,140.3 L871.1,139.0 L871.9,137.7 L872.7,136.5 L873.4,135.2 L874.2,133.9 L875.0,132.6 L875.8,131.3 L876.6,130.1 L877.5,128.8 L878.3,127.6 L879.1,126.3 L880.0,125.1 L880.8,123.8 L881.7,122.6 L882.6,121.4 L883.5,120.2 L884.4,119.0 L885.3,117.8 L886.2,116.6 L887.2,115.5 L888.1,114.3 L889.1,113.2 L890.1,112.1 L891.1,110.9 L892.1,109.8 L893.1,108.7 L894.1,107.7 L895.2,106.6 L896.2,105.5 L897.3,104.5 L898.4,103.5 L899.5,102.4 L900.6,101.4 L901.8,100.4 L902.9,99.5 L904.0,98.5 L905.2,97.5 L906.4,96.6 L907.6,95.7 L908.7,94.8 L909.9,93.9 L911.2,93.0 L912.4,92.1 L913.6,91.2 L914.8,90.4 L916.1,89.6 L917.3,88.8 L918.6,87.9 L919.9,87.2 L921.2,86.4 L922.5,85.6 L923.8,84.9 L925.1,84.1 L926.4,83.4 L927.7,82.7 L929.0,82.0 L930.4,81.3 L931.7,80.6 L933.1,79.9 L934.4,79.3 L935.8,78.6 L937.1,78.0 L938.5,77.4 L939.9,76.8 L941.2,76.2 L942.6,75.6 L944.0,75.0 L945.4,74.5 L946.8,73.9 L948.2,73.4 L949.6,72.9 L951.0,72.3 L952.5,71.8 L953.9,71.4 L955.3,70.9 L956.7,70.4 L958.2,70.0 L959.6,69.5 L961.0,69.1 L962.5,68.7 L963.9,68.3 L965.4,67.9 L966.8,67.6 L968.3,67.2 L969.7,66.9 L971.2,66.5 L972.7,66.2 L974.1,65.9 L975.6,65.6 L977.1,65.3 L978.5,65.0 L980.0,64.8 L981.5,64.5 L983.0,64.2 L984.5,64.0 L985.9,63.7 L987.4,63.5 L988.9,63.2 L990.4,63.0 L991.9,62.7 L993.4,62.5 L994.8,62.3 L996.3,62.0 L997.8,61.8 L999.3,61.6 L1000.8,61.4 L1002.3,61.2 L1003.8,61.0 L1005.3,60.8 L1006.7,60.6 L1008.2,60.3 L1009.7,60.1 L1011.2,60.0 L1012.7,59.8 L1014.2,59.6 L1015.7,59.4 L1017.2,59.2 L1018.7,59.0 L1020.2,58.8 L1021.6,58.6 L1023.1,58.4 L1024.6,58.3 L1026.1,58.1 L1027.6,57.9 L1029.1,57.7 L1030.6,57.6 L1032.1,57.4 L1033.6,57.2 L1035.1,57.1 L1036.6,56.9 L1038.1,56.8 L1039.6,56.6 L1041.1,56.5 L1042.5,56.3 L1044.0,56.2 L1045.5,56.0 L1047.0,55.9 L1048.5,55.8 L1050.0,55.6 L1051.5,55.5 L1053.0,55.4 L1054.5,55.3 L1056.0,55.1 L1057.5,55.0 L1059.0,54.9 L1060.5,54.8 L1062.0,54.7 L1063.5,54.6 L1065.0,54.5 L1066.5,54.4 L1068.0,54.3 L1069.5,54.2 L1071.0,54.2 L1072.5,54.1 L1074.0,54.0 L1075.5,54.0 L1077.0,53.9 L1078.5,53.8 L1080.0,53.8 L1081.5,53.7 L1083.0,53.7 L1084.5,53.6 L1086.0,53.6 L1087.5,53.6 L1089.0,53.5 L1090.5,53.5 L1092.0,53.5 L1093.5,53.5 L1095.0,53.4 L1096.5,53.4 L1098.0,53.4 L1099.5,53.4 L1101.0,53.4 L1102.5,53.3 L1104.0,53.3 L1105.5,53.3 L1107.0,53.3 L1108.5,53.3 L1110.0,53.3 L1111.5,53.3 L1113.0,53.3 L1114.5,53.3 L1116.0,53.3 L1117.5,53.2 L1119.1,53.2 L1120.6,53.2 L1122.1,53.2 L1123.6,53.2 L1125.1,53.2 L1126.6,53.2 L1128.1,53.2 L1129.6,53.2 L1131.1,53.2 L1132.6,53.2 L1134.1,53.2 L1135.6,53.2 L1137.1,53.2 L1138.6,53.2 L1140.1,53.2 L1141.6,53.2 L1143.1,53.3 L1144.6,53.3 L1146.1,53.3 L1147.6,53.3 L1149.1,53.3 L1150.6,53.3 L1152.1,53.3 L1153.6,53.4 L1155.1,53.4 L1156.6,53.4 L1158.1,53.5 L1159.6,53.5 L1161.1,53.6 L1162.6,53.6 L1164.1,53.7 L1165.6,53.8 L1167.1,53.8 L1168.6,53.9 L1170.1,54.0 L1171.6,54.2 L1173.1,54.3 L1174.6,54.4 L1176.1,54.6 L1177.6,54.8 L1179.1,55.0 L1180.6,55.3 L1182.0,55.6 L1183.5,55.9 L1184.9,56.2 L1186.4,56.6 L1187.8,57.0 L1189.2,57.5 L1190.5,58.0 L1191.9,58.6 L1193.2,59.2 L1194.4,59.8 L1195.7,60.6 L1196.9,61.3 L1198.0,62.2 L1199.1,63.0 L1200.2,64.0 L1201.2,65.0 L1202.1,66.0 L1203.0,67.1 L1203.9,68.3 L1204.7,69.5 L1205.4,70.7 L1206.1,72.0 L1206.8,73.3 L1207.4,74.6 L1208.0,75.9 L1208.6,77.3 L1209.1,78.7 L1209.6,80.1 L1210.0,81.6 L1210.5,83.0 L1210.9,84.4 L1211.2,85.9 L1211.6,87.4 L1211.9,88.8 L1212.2,90.3 L1212.5,91.8 L1212.8,93.2 L1213.0,94.7 L1213.2,96.2 L1213.4,97.7 L1213.6,99.2 L1213.8,100.7 L1214.0,102.2 L1214.2,103.7 L1214.3,105.2 L1214.5,106.6 L1214.6,108.1 L1214.7,109.6 L1214.8,111.1 L1215.0,112.6 L1215.1,114.1 L1215.2,115.6 L1215.3,117.1 L1215.4,118.6 L1215.5,120.1 L1215.6,121.6 L1215.7,123.1 L1215.9,124.6 L1216.0,126.1 L1216.1,127.6 L1216.2,129.1 L1216.3,130.6 L1216.4,132.1 L1216.5,133.6 L1216.6,135.1 L1216.8,136.6 L1216.9,138.1 L1217.1,139.6 L1217.2,141.1 L1217.4,142.6 L1217.6,144.1 L1217.7,145.5 L1217.9,147.0 L1218.1,148.5 L1218.3,150.0 L1218.5,148.5 L1218.7,147.0 L1218.8,145.5 L1219.0,144.1 L1219.1,142.6 L1219.3,141.1 L1219.4,139.6 L1219.6,138.1 L1219.7,136.6 L1219.8,135.1 L1219.9,133.6 L1220.0,132.1 L1220.0,130.6 L1220.1,129.1 L1220.2,127.6 L1220.2,126.1 L1220.3,124.6 L1220.4,123.1 L1220.4,121.6 L1220.5,120.1 L1220.5,118.6 L1220.6,117.1 L1220.7,115.6 L1220.7,114.1 L1220.8,112.6 L1220.8,111.1 L1220.9,109.6 L1220.9,108.1 L1221.0,106.6 L1221.1,105.1 L1221.1,103.6 L1221.2,102.1 L1221.2,100.6 L1221.3,99.1 L1221.4,97.6 L1221.4,96.1 L1221.5,94.6 L1221.6,93.1 L1221.6,91.6 L1221.7,90.1 L1221.8,88.6 L1221.9,87.0 L1222.0,85.5 L1222.1,84.0 L1222.2,82.5 L1222.3,81.0 L1222.4,79.5 L1222.6,78.0 L1222.8,76.5 L1223.0,75.0 L1223.2,73.5 L1223.4,72.0 L1223.7,70.6 L1224.1,69.1 L1224.4,67.8 L1224.9,66.4 L1225.4,65.1 L1225.9,63.9 L1226.5,62.7 L1227.2,61.6 L1228.0,60.6 L1228.8,59.7 L1229.7,58.8 L1230.7,58.0 L1231.7,57.3 L1232.8,56.7 L1234.0,56.1 L1235.3,55.7 L1236.6,55.2 L1237.9,54.9 L1239.3,54.6 L1240.7,54.4 L1242.1,54.2 L1243.5,54.1 L1245.0,53.9 L1246.5,53.9 L1248.0,53.8 L1249.4,53.8 L1250.9,53.7 L1252.4,53.7 L1253.9,53.7 L1255.5,53.7 L1257.0,53.8 L1258.5,53.8 L1260.0,53.8 L1261.5,53.8 L1263.0,53.8 L1264.5,53.9 L1266.0,53.9 L1267.5,53.9 L1269.0,54.0 L1270.5,54.0 L1272.1,54.0 L1273.6,54.1 L1275.1,54.1 L1276.6,54.1 L1278.1,54.2 L1279.6,54.2 L1281.1,54.3 L1282.6,54.3 L1284.1,54.4 L1285.6,54.4 L1287.1,54.4 L1288.6,54.5 L1290.1,54.6 L1291.6,54.6 L1293.1,54.7 L1294.6,54.7 L1296.1,54.8 L1297.6,54.8 L1299.1,54.9 L1300.6,55.0 L1302.1,55.0 L1303.6,55.1 L1305.1,55.2 L1306.6,55.2 L1308.1,55.3 L1309.6,55.4 L1311.1,55.5 L1312.6,55.6 L1314.1,55.6 L1315.6,55.7 L1317.1,55.8 L1318.6,55.9 L1320.1,56.0 L1321.6,56.1 L1323.1,56.2 L1324.6,56.3 L1326.1,56.4 L1327.6,56.5 L1329.1,56.6 L1330.6,56.7 L1332.1,56.8 L1333.6,56.9 L1335.1,57.0 L1336.6,57.2 L1338.1,57.3 L1339.6,57.4 L1341.0,57.5 L1342.5,57.7 L1344.0,57.8 L1345.5,57.9 L1347.0,58.1 L1348.5,58.2 L1350.0,58.3 L1351.5,58.5 L1353.0,58.6 L1354.5,58.7 L1356.0,58.9 L1357.5,59.0 L1359.0,59.1 L1360.5,59.3 L1362.0,59.4 L1363.5,59.6 L1365.0,59.7 L1366.5,59.8 L1368.0,60.0 L1369.5,60.1 L1371.0,60.2 L1372.5,60.4 L1374.0,60.5 L1375.4,60.6 L1376.9,60.8 L1378.4,60.9 L1379.9,61.1 L1381.4,61.2 L1382.9,61.3 L1384.4,61.5 L1385.9,61.6 L1387.4,61.8 L1388.9,61.9 L1390.4,62.1 L1391.9,62.2 L1393.4,62.4 L1394.9,62.6 L1396.4,62.7 L1397.9,62.9 L1399.3,63.1 L1400.8,63.2 L1402.3,63.4 L1403.8,63.6 L1405.3,63.8 L1406.8,63.9 L1408.3,64.1 L1409.8,64.3 L1411.3,64.5 L1412.8,64.7 L1414.2,64.9 L1415.7,65.1 L1417.2,65.3 L1418.7,65.5 L1420.2,65.7 L1421.7,65.9 L1423.2,66.2 L1424.7,66.4 L1426.1,66.6 L1427.6,66.8 L1429.1,67.1 L1430.6,67.3 L1432.1,67.6 L1433.5,67.8 L1435.0,68.1 L1436.5,68.3 L1438.0,68.6 L1439.5,68.8 L1440.9,69.1 L1442.4,69.4 L1443.9,69.6 L1445.4,69.9 L1446.8,70.2 L1448.3,70.5 L1449.8,70.8 L1451.3,71.1 L1452.7,71.4 L1454.2,71.7 L1455.7,72.0 L1457.1,72.4 L1458.6,72.7 L1460.1,73.0 L1461.5,73.3 L1463.0,73.7 L1464.5,74.0 L1465.9,74.4 L1467.4,74.7 L1468.8,75.0 L1470.3,75.4 L1471.8,75.8 L1473.2,76.1 L1474.7,76.5 L1476.1,76.8 L1477.6,77.2 L1479.1,77.5 L1480.5,77.9 L1482.0,78.3 L1483.4,78.6 L1484.9,79.0 L1486.4,79.4 L1487.8,79.8 L1489.3,80.1 L1490.7,80.5 L1492.2,80.9 L1493.6,81.3 L1495.1,81.8 L1496.5,82.2 L1497.9,82.6 L1499.3,83.1 L1500.8,83.5 L1502.2,84.0 L1503.6,84.5 L1505.0,85.0 L1506.4,85.6 L1507.8,86.1 L1509.1,86.7 L1510.5,87.3 L1511.9,87.9 L1513.2,88.5 L1514.6,89.1 L1515.9,89.8 L1517.3,90.4 L1518.6,91.1 L1519.9,91.8 L1521.3,92.5 L1522.6,93.2 L1523.9,93.9 L1525.3,94.7 L1526.6,95.4 L1527.9,96.1 L1529.2,96.9 L1530.5,97.6 L1531.8,98.3 L1533.1,99.1 L1534.4,99.8 L1535.7,100.6 L1537.1,101.3 L1538.4,102.1 L1539.6,102.8 L1540.9,103.6 L1542.2,104.4 L1543.5,105.2 L1544.8,106.0 L1546.1,106.7 L1547.3,107.5 L1548.6,108.4 L1549.9,109.2 L1551.1,110.0 L1552.3,110.8 L1553.6,111.7 L1554.8,112.6 L1556.0,113.4 L1557.2,114.3 L1558.4,115.2 L1559.6,116.1 L1560.8,117.0 L1562.0,118.0 L1563.1,118.9 L1564.3,119.9 L1565.5,120.8 L1566.6,121.8 L1567.7,122.8 L1568.9,123.7 L1570.0,124.7 L1571.1,125.8 L1572.2,126.8 L1573.3,127.8 L1574.4,128.8 L1575.5,129.9 L1576.6,130.9 L1577.6,131.9 L1578.7,133.0 L1579.8,134.1 L1580.8,135.1 L1581.9,136.2 L1582.9,137.3 L1583.9,138.4 L1584.9,139.5 L1586.0,140.6 L1587.0,141.7 L1588.0,142.9 L1588.9,144.0 L1589.9,145.1 L1590.9,146.3 L1591.8,147.4 L1592.8,148.6 L1593.7,149.8 L1594.7,150.9 L1595.6,152.1 L1596.5,153.3 L1597.4,154.5 L1598.3,155.7 L1599.2,156.9 L1600.1,158.1 L1600.9,159.4 L1601.8,160.6 L1602.7,161.8 L1603.5,163.1 L1604.3,164.3 L1605.2,165.6 L1606.0,166.8 L1606.8,168.1 L1607.6,169.4 L1608.4,170.6 L1609.2,171.9 L1609.9,173.2 L1610.7,174.5 L1611.5,175.8 L1612.2,177.1 L1612.9,178.4 L1613.7,179.7 L1614.4,181.0 L1615.1,182.3 L1615.8,183.7 L1616.5,185.0 L1617.2,186.3 L1617.9,187.6 L1618.6,189.0 L1619.3,190.3 L1620.0,191.7 L1620.6,193.0 L1621.3,194.3 L1622.0,195.7 L1622.6,197.0 L1623.3,198.4 L1623.9,199.8 L1624.6,201.1 L1625.2,202.5 L1625.8,203.8 L1626.5,205.2 L1627.1,206.6 L1627.7,207.9 L1628.4,209.3 L1629.0,210.7 L1629.6,212.0 L1630.2,213.4 L1630.8,214.8 L1631.4,216.1 L1632.0,217.5 L1632.6,218.9 L1633.2,220.3 L1633.8,221.7 L1634.4,223.0 L1635.0,224.4 L1635.5,225.8 L1636.1,227.2 L1636.7,228.6 L1637.2,230.0 L1637.8,231.4 L1638.4,232.8 L1638.9,234.2 L1639.4,235.6 L1640.0,237.0 L1640.5,238.4 L1641.1,239.8 L1641.6,241.2 L1642.1,242.6 L1642.6,244.0 L1643.1,245.4 L1643.6,246.8 L1644.1,248.2 L1644.6,249.7 L1645.1,251.1 L1645.6,252.5 L1646.1,253.9 L1646.6,255.3 L1647.1,256.8 L1647.5,258.2 L1648.0,259.6 L1648.4,261.0 L1648.9,262.5 L1649.3,263.9 L1649.8,265.3 L1650.2,266.8 L1650.7,268.2 L1651.1,269.6 L1651.5,271.1 L1652.0,272.5 L1652.4,274.0 L1652.8,275.4 L1653.2,276.9 L1653.6,278.3 L1654.1,279.7 L1654.5,281.2 L1654.9,282.6 L1655.3,284.1 L1655.7,285.5 L1656.1,287.0 L1656.5,288.4 L1657.0,289.8 L1657.4,291.3 L1657.8,292.7 L1658.2,294.2 L1658.6,295.6 L1659.0,297.1 L1659.4,298.5 L1659.8,300.0 L1660.2,301.4 L1660.5,302.9 L1660.9,304.3 L1661.3,305.8 L1661.7,307.2 L1662.0,308.7 L1662.4,310.1 L1662.8,311.6 L1663.1,313.1 L1663.5,314.5 L1663.8,316.0 L1664.1,317.4 L1664.4,318.9 L1664.8,320.4 L1665.1,321.8 L1665.4,323.3 L1665.7,324.8 L1666.0,326.3 L1666.3,327.7 L1666.6,329.2 L1666.9,330.7 L1667.2,332.1 L1667.5,333.6 L1667.8,335.1 L1668.1,336.6 L1668.3,338.0 L1668.6,339.5 L1668.9,341.0 L1669.2,342.5 L1669.5,343.9 L1669.9,345.4 L1670.2,346.9 L1670.5,348.3 L1670.8,349.8 L1671.1,351.3 L1671.4,352.7 L1671.7,354.2 L1672.0,355.7 L1672.3,357.1 L1672.6,358.6 L1672.9,360.1 L1673.2,361.6 L1673.5,363.0 L1673.8,364.5 L1674.1,366.0 L1674.4,367.4 L1674.7,368.9 L1675.0,370.4 L1675.3,371.9 L1675.5,373.3 L1675.8,374.8 L1676.1,376.3 L1676.4,377.8 L1676.6,379.2 L1676.9,380.7 L1677.2,382.2 L1677.4,383.7 L1677.7,385.2 L1678.0,386.6 L1678.2,388.1 L1678.5,389.6 L1678.7,391.1 L1679.0,392.6 L1679.3,394.0 L1679.5,395.5 L1679.8,397.0 L1680.1,398.5 L1680.3,399.9 L1680.6,401.4 L1680.8,402.9 L1681.1,404.4 L1681.4,405.9 L1681.6,407.3 L1681.9,408.8 L1682.2,410.3 L1682.4,411.8 L1682.7,413.2 L1683.0,414.7 L1683.2,416.2 L1683.5,417.7 L1683.7,419.2 L1684.0,420.6 L1684.3,422.1 L1684.5,423.6 L1684.8,425.1 L1685.1,426.6 L1685.3,428.0 L1685.6,429.5 L1685.9,431.0 L1686.1,432.5 L1686.4,433.9 L1686.6,435.4 L1686.9,436.9 L1687.2,438.4 L1687.4,439.9 L1687.7,441.3 L1687.9,442.8 L1688.2,444.3 L1688.5,445.8 L1688.7,447.3 L1689.0,448.7 L1689.2,450.2 L1689.5,451.7 L1689.7,453.2 L1690.0,454.7 L1690.2,456.1 L1690.5,457.6 L1690.7,459.1 L1691.0,460.6 L1691.2,462.1 L1691.5,463.5 L1691.7,465.0 L1691.9,466.5 L1692.2,468.0 L1692.4,469.5 L1692.7,470.9 L1692.9,472.4 L1693.2,473.9 L1693.4,475.4 L1693.7,476.9 L1693.9,478.3 L1694.2,479.8 L1694.5,481.3 L1694.7,482.8 L1695.0,484.3 L1695.2,485.7 L1695.5,487.2 L1695.7,488.7 L1696.0,490.2 L1696.2,491.7 L1696.4,493.2 L1696.7,494.6 L1696.9,496.1 L1697.1,497.6 L1697.4,499.1 L1697.6,500.6 L1697.8,502.1 L1698.1,503.5 L1698.3,505.0 L1698.5,506.5 L1698.7,508.0 L1698.9,509.5 L1699.1,511.0 L1699.4,512.5 L1699.6,513.9 L1699.8,515.4 L1700.0,516.9 L1700.2,518.4 L1700.4,519.9 L1700.6,521.4 L1700.8,522.9 L1701.1,524.3 L1701.3,525.8 L1701.5,527.3 L1701.7,528.8 L1701.9,530.3 L1702.1,531.8 L1702.4,533.3 L1702.6,534.7 L1702.8,536.2 L1703.0,537.7 L1703.3,539.2 L1703.5,540.7 L1703.7,542.2 L1704.0,543.6 L1704.2,545.1 L1704.4,546.6 L1704.6,548.1 L1704.9,549.6 L1705.1,551.1 L1705.3,552.6 L1705.6,554.0 L1705.8,555.5 L1706.0,557.0 L1706.2,558.5 L1706.5,560.0 L1706.7,561.5 L1706.9,562.9 L1707.2,564.4 L1707.4,565.9 L1707.7,567.4 L1707.9,568.9 L1708.2,570.3 L1708.4,571.8 L1708.7,573.3 L1708.9,574.8 L1709.2,576.3 L1709.5,577.7 L1709.7,579.2 L1710.0,580.7 L1710.3,582.2 L1710.5,583.6 L1710.8,585.1 L1711.1,586.6 L1711.4,588.1 L1711.6,589.5 L1711.9,591.0 L1712.2,592.5 L1712.4,594.0 L1712.7,595.5 L1712.9,596.9 L1713.2,598.4 L1713.4,599.9 L1713.7,601.4 L1713.9,602.9 L1714.2,604.3 L1714.4,605.8 L1714.6,607.3 L1714.8,608.8 L1715.0,610.3 L1715.2,611.8 L1715.5,613.3 L1715.7,614.7 L1715.9,616.2 L1716.1,617.7 L1716.3,619.2 L1716.4,620.7 L1716.6,622.2 L1716.8,623.7 L1717.0,625.2 L1717.2,626.7 L1717.4,628.2 L1717.5,629.6 L1717.7,631.1 L1717.9,632.6 L1718.0,634.1 L1718.2,635.6 L1718.4,637.1 L1718.5,638.6 L1718.7,640.1 L1718.8,641.6 L1719.0,643.1 L1719.1,644.6 L1719.3,646.1 L1719.5,647.6 L1719.6,649.1 L1719.8,650.5 L1719.9,652.0 L1720.1,653.5 L1720.2,655.0 L1720.4,656.5 L1720.5,658.0 L1720.7,659.5 L1720.8,661.0 L1721.0,662.5 L1721.1,664.0 L1721.3,665.5 L1721.4,667.0 L1721.6,668.5 L1721.7,670.0 L1721.9,671.5 L1722.1,672.9 L1722.2,674.4 L1722.4,675.9 L1722.5,677.4 L1722.7,678.9 L1722.8,680.4 L1723.0,681.9 L1723.2,683.4 L1723.3,684.9 L1723.5,686.4 L1723.6,687.9 L1723.8,689.4 L1723.9,690.9 L1724.1,692.4 L1724.2,693.9 L1724.4,695.3 L1724.5,696.8 L1724.7,698.3 L1724.9,699.8 L1725.0,701.3 L1725.2,702.8 L1725.3,704.3 L1725.5,705.8 L1725.6,707.3 L1725.8,708.8 L1725.9,710.3 L1726.1,711.8 L1726.2,713.3 L1726.4,714.8 L1726.5,716.3 L1726.7,717.8 L1726.8,719.3 L1727.0,720.7 L1727.1,722.2 L1727.3,723.7 L1727.4,725.2 L1727.5,726.7 L1727.7,728.2 L1727.8,729.7 L1728.0,731.2 L1728.1,732.7 L1728.3,734.2 L1728.4,735.7 L1728.6,737.2 L1728.7,738.7 L1728.9,740.2 L1729.0,741.7 L1729.2,743.2 L1729.3,744.7 L1729.5,746.1 L1729.6,747.6 L1729.8,749.1 L1730.0,750.6 L1730.1,752.1 L1730.3,753.6 L1730.4,755.1 L1730.6,756.6 L1730.7,758.1 L1730.9,759.6 L1731.1,761.1 L1731.2,762.6 L1731.4,764.1 L1731.6,765.6 L1731.7,767.0 L1731.9,768.5 L1732.0,770.0 L1732.2,771.5 L1732.3,773.0 L1732.5,774.5 L1732.7,776.0 L1732.8,777.5 L1733.0,779.0 L1733.1,780.5 L1733.3,782.0 L1733.4,783.5 L1733.6,785.0 L1733.7,786.5 L1733.9,788.0 L1734.0,789.5 L1734.2,790.9 L1734.3,792.4 L1734.5,793.9 L1734.6,795.4 L1734.7,796.9 L1734.9,798.4 L1735.0,799.9 L1735.2,801.4 L1735.3,802.9 L1735.5,804.4 L1735.6,805.9 L1735.7,807.4 L1735.9,808.9 L1736.0,810.4 L1736.2,811.9 L1736.3,813.4 L1736.4,814.9 L1736.6,816.4 L1736.7,817.9 L1736.9,819.3 L1737.0,820.8 L1737.2,822.3 L1737.3,823.8 L1737.5,825.3 L1737.6,826.8 L1737.8,828.3 L1737.9,829.8 L1738.1,831.3 L1738.2,832.8 L1738.4,834.3 L1738.5,835.8 L1738.7,837.3 L1738.9,838.8 L1739.0,840.3 L1739.2,841.7 L1739.4,843.2 L1739.5,844.7 L1739.7,846.2 L1739.9,847.7 L1740.0,849.2 L1740.2,850.7 L1740.4,852.2 L1740.5,853.7 L1740.7,855.2 L1740.9,856.7 L1741.0,858.2 L1741.2,859.7 L1741.4,861.1 L1741.5,862.6 L1741.7,864.1 L1741.8,865.6 L1742.0,867.1 L1742.1,868.6 L1742.3,870.1 L1742.4,871.6 L1742.6,873.1 L1742.7,874.6 L1742.9,876.1 L1743.0,877.6 L1743.2,879.1 L1743.3,880.6 L1743.5,882.1 L1743.6,883.6 L1743.7,885.1 L1743.9,886.6 L1744.0,888.0 L1744.1,889.5 L1744.3,891.0 L1744.4,892.5 L1744.6,894.0 L1744.7,895.5 L1744.8,897.0 L1745.0,898.5 L1745.1,900.0 L1745.2,901.5 L1745.4,903.0 L1745.5,904.5 L1745.6,906.0 L1745.8,907.5 L1745.9,909.0 L1746.1,910.5 L1746.2,912.0 L1746.4,913.5 L1746.5,915.0 L1746.7,916.5 L1746.8,918.0 L1747.0,919.4 L1747.1,920.9 L1747.3,922.4 L1747.4,923.9 L1747.6,925.4 L1747.7,926.9 L1747.9,928.4 L1748.1,929.9 L1748.3,931.4 L1748.4,932.9 L1748.6,934.4 L1748.8,935.9 L1749.0,937.3 L1749.2,938.8 L1749.4,940.3 L1749.6,941.8 L1749.8,943.3 L1750.0,944.8 L1750.2,946.3 L1750.4,947.8 L1750.6,949.2 L1750.8,950.7 L1751.0,952.2 L1751.2,953.7 L1751.4,955.2 L1751.6,956.7 L1751.8,958.2 L1752.0,959.7 L1752.2,961.1 L1752.4,962.6 L1752.5,964.1 L1752.7,965.6 L1752.9,967.1 L1753.0,968.6 L1753.2,970.1 L1753.3,971.6 L1753.5,973.1 L1753.6,974.6 L1753.8,976.1 L1753.9,977.6 L1754.1,979.1 L1754.2,980.5 L1754.4,982.0 L1754.5,983.5 L1754.7,985.0 L1754.8,986.5 L1755.0,988.0 L1755.1,989.5 L1755.3,991.0 L1755.4,992.5 L1755.6,994.0 L1755.7,995.5 L1755.9,997.0 L1756.0,998.5 L1756.2,1000.0 L1756.3,1001.5 L1756.5,1003.0 L1756.6,1004.5 L1756.8,1006.0 L1756.9,1007.4 L1757.1,1008.9 L1757.2,1010.4 L1757.4,1011.9 L1757.5,1013.4 L1757.7,1014.9 L1757.8,1016.4 L1758.0,1017.9 L1758.1,1019.4 L1758.3,1020.9 L1758.4,1022.4 L1758.6,1023.9 L1758.7,1025.4 L1758.9,1026.9 L1759.0,1028.4 L1759.1,1029.9 L1759.3,1031.4 L1759.4,1032.8 L1759.5,1034.3 L1759.7,1035.8 L1759.8,1037.3 L1759.9,1038.8 L1760.1,1040.3 L1760.2,1041.8 L1760.3,1043.3 L1760.4,1044.8 L1760.6,1046.3 L1760.7,1047.8 L1760.8,1049.3 L1760.9,1050.8 L1761.1,1052.3 L1761.2,1053.8 L1761.3,1055.3 L1761.4,1056.8 L1761.5,1058.3 L1761.7,1059.8 L1761.8,1061.3 L1761.9,1062.8 L1762.0,1064.3 L1762.2,1065.8 L1762.3,1067.3 L1762.4,1068.8 L1762.5,1070.3 L1762.7,1071.7 L1762.8,1073.2 L1762.9,1074.7 L1763.1,1076.2 L1763.2,1077.7 L1763.3,1079.2 L1763.4,1080.7 L1763.6,1082.2 L1763.7,1083.7 L1763.9,1085.2 L1764.0,1086.7 L1764.1,1088.2 L1764.3,1089.7 L1764.4,1091.2 L1764.6,1092.7 L1764.7,1094.2 L1764.8,1095.7 L1765.0,1097.2 L1765.1,1098.7 L1765.3,1100.2 L1765.5,1101.6 L1765.6,1103.1 L1765.8,1104.6 L1765.9,1106.1 L1766.1,1107.6 L1766.3,1109.1 L1766.4,1110.6 L1766.6,1112.1 L1766.8,1113.6 L1766.9,1115.1 L1767.1,1116.6 L1767.3,1118.1 L1767.5,1119.6 L1767.6,1121.1 L1767.8,1122.5 L1768.0,1124.0 L1768.2,1125.5 L1768.4,1127.0 L1768.6,1128.5 L1768.8,1130.0 L1769.0,1131.5 L1769.3,1133.0 L1769.5,1134.4 L1769.8,1135.9 L1770.0,1137.4 L1770.3,1138.8 L1770.6,1140.3 L1771.0,1141.8 L1771.3,1143.2 L1771.7,1144.6 L1772.1,1146.1 L1772.5,1147.5 L1773.0,1148.9 L1773.5,1150.3 L1774.0,1151.7 L1774.6,1153.0 L1775.1,1154.4 L1775.7,1155.8 L1776.3,1157.1 L1776.9,1158.5 L1777.4,1157.1 L1777.8,1155.7 L1778.2,1154.2 L1778.7,1152.8 L1779.1,1151.4 L1779.5,1149.9 L1779.9,1148.5 L1780.2,1147.0 L1780.6,1145.6 L1780.9,1144.1 L1781.2,1142.7 L1781.5,1141.2 L1781.8,1139.7 L1782.0,1138.2 L1782.3,1136.8 L1782.5,1135.3 L1782.8,1133.8 L1783.0,1132.3 L1783.2,1130.8 L1783.4,1129.4 L1783.7,1127.9 L1783.9,1126.4 L1784.1,1124.9 L1784.3,1123.4 L1784.5,1121.9 L1784.7,1120.4 L1784.9,1118.9 L1785.1,1117.4 L1785.3,1116.0 L1785.5,1114.5 L1785.7,1113.0 L1785.9,1111.5 L1786.1,1110.0 L1786.3,1108.5 L1786.5,1107.0 L1786.7,1105.5 L1786.9,1104.0 L1787.1,1102.5 L1787.3,1101.1 L1787.5,1099.6 L1787.7,1098.1 L1787.9,1096.6 L1788.1,1095.1 L1788.2,1093.6 L1788.4,1092.1 L1788.6,1090.6 L1788.8,1089.1 L1789.0,1087.6 L1789.2,1086.1 L1789.3,1084.6 L1789.5,1083.2 L1789.7,1081.7 L1789.9,1080.2 L1790.0,1078.7 L1790.2,1077.2 L1790.4,1075.7 L1790.6,1074.2 L1790.7,1072.7 L1790.9,1071.2 L1791.1,1069.7 L1791.3,1068.2 L1791.4,1066.7 L1791.6,1065.2 L1791.8,1063.7 L1791.9,1062.2 L1792.1,1060.8 L1792.3,1059.3 L1792.4,1057.8 L1792.6,1056.3 L1792.8,1054.8 L1792.9,1053.3 L1793.1,1051.8 L1793.3,1050.3 L1793.4,1048.8 L1793.6,1047.3 L1793.8,1045.8 L1793.9,1044.3 L1794.1,1042.8 L1794.3,1041.3 L1794.4,1039.8 L1794.6,1038.3 L1794.8,1036.9 L1795.0,1035.4 L1795.1,1033.9 L1795.3,1032.4 L1795.5,1030.9 L1795.7,1029.4 L1795.8,1027.9 L1796.0,1026.4 L1796.2,1024.9 L1796.4,1023.4 L1796.6,1021.9 L1796.8,1020.4 L1797.0,1018.9 L1797.1,1017.5 L1797.3,1016.0 L1797.5,1014.5 L1797.7,1013.0 L1797.9,1011.5 L1798.1,1010.0 L1798.2,1008.5 L1798.4,1007.0 L1798.6,1005.5 L1798.8,1004.0 L1799.0,1002.5 L1799.1,1001.0 L1799.3,999.6 L1799.5,998.1 L1799.7,996.6 L1799.8,995.1 L1800.0,993.6 L1800.2,992.1 L1800.3,990.6 L1800.5,989.1 L1800.7,987.6 L1800.8,986.1 L1801.0,984.6 L1801.2,983.1 L1801.3,981.6 L1801.5,980.1 L1801.7,978.6 L1801.8,977.1 L1802.0,975.7 L1802.2,974.2 L1802.4,972.7 L1802.5,971.2 L1802.7,969.7 L1802.9,968.2 L1803.1,966.7 L1803.2,965.2 L1803.4,963.7 L1803.6,962.2 L1803.8,960.7 L1804.0,959.2 L1804.2,957.7 L1804.3,956.3 L1804.5,954.8 L1804.7,953.3 L1804.9,951.8 L1805.1,950.3 L1805.3,948.8 L1805.5,947.3 L1805.7,945.8 L1805.9,944.3 L1806.0,942.8 L1806.2,941.3 L1806.4,939.9 L1806.6,938.4 L1806.8,936.9 L1807.0,935.4 L1807.2,933.9 L1807.4,932.4 L1807.6,930.9 L1807.8,929.4 L1808.0,927.9 L1808.2,926.4 L1808.4,925.0 L1808.6,923.5 L1808.8,922.0 L1809.0,920.5 L1809.2,919.0 L1809.4,917.5 L1809.6,916.0 L1809.8,914.5 L1810.0,913.0 L1810.3,911.6 L1810.5,910.1 L1810.7,908.6 L1810.9,907.1 L1811.1,905.6 L1811.3,904.1 L1811.5,902.6 L1811.7,901.1 L1811.9,899.6 L1812.1,898.2 L1812.3,896.7 L1812.5,895.2 L1812.8,893.7 L1813.0,892.2 L1813.2,890.7 L1813.4,889.2 L1813.6,887.7 L1813.8,886.2 L1814.0,884.8 L1814.3,883.3 L1814.5,881.8 L1814.7,880.3 L1814.9,878.8 L1815.1,877.3 L1815.4,875.8 L1815.6,874.3 L1815.8,872.9 L1816.0,871.4 L1816.2,869.9 L1816.5,868.4 L1816.7,866.9 L1816.9,865.4 L1817.1,863.9 L1817.4,862.5 L1817.6,861.0 L1817.8,859.5 L1818.0,858.0 L1818.3,856.5 L1818.5,855.0 L1818.7,853.5 L1819.0,852.1 L1819.2,850.6 L1819.4,849.1 L1819.6,847.6 L1819.8,846.1 L1820.1,844.6 L1820.3,843.1 L1820.5,841.7 L1820.7,840.2 L1820.9,838.7 L1821.1,837.2 L1821.3,835.7 L1821.5,834.2 L1821.7,832.7 L1821.9,831.2 L1822.1,829.7 L1822.3,828.3 L1822.5,826.8 L1822.8,825.3 L1823.0,823.8 L1823.2,822.3 L1823.4,820.8 L1823.6,819.3 L1823.8,817.8 L1824.0,816.3 L1824.3,814.9 L1824.5,813.4 L1824.7,811.9 L1824.9,810.4 L1825.2,808.9 L1825.4,807.4 L1825.7,806.0 L1825.9,804.5 L1826.1,803.0 L1826.4,801.5 L1826.6,800.0 L1826.9,798.5 L1827.1,797.1 L1827.4,795.6 L1827.6,794.1 L1827.9,792.6 L1828.1,791.1 L1828.4,789.6 L1828.6,788.2 L1828.9,786.7 L1829.1,785.2 L1829.4,783.7 L1829.6,782.2 L1829.9,780.7 L1830.1,779.3 L1830.4,777.8 L1830.6,776.3 L1830.9,774.8 L1831.1,773.3 L1831.3,771.9 L1831.6,770.4 L1831.8,768.9 L1832.1,767.4 L1832.3,765.9 L1832.6,764.4 L1832.8,763.0 L1833.1,761.5 L1833.3,760.0 L1833.6,758.5 L1833.8,757.0 L1834.0,755.5 L1834.3,754.1 L1834.5,752.6 L1834.8,751.1 L1835.0,749.6 L1835.3,748.1 L1835.5,746.6 L1835.8,745.2 L1836.0,743.7 L1836.3,742.2 L1836.5,740.7 L1836.8,739.2 L1837.1,737.8 L1837.3,736.3 L1837.6,734.8 L1837.9,733.3 L1838.1,731.8 L1838.4,730.4 L1838.7,728.9 L1839.0,727.4 L1839.2,725.9 L1839.5,724.5 L1839.8,723.0 L1840.1,721.5 L1840.4,720.0 L1840.7,718.6 L1841.0,717.1 L1841.3,715.6 L1841.6,714.1 L1841.9,712.7 L1842.2,711.2 L1842.5,709.7 L1842.7,708.2 L1843.0,706.8 L1843.3,705.3 L1843.6,703.8 L1843.9,702.3 L1844.2,700.9 L1844.5,699.4 L1844.8,697.9 L1845.1,696.4 L1845.4,695.0 L1845.7,693.5 L1846.0,692.0 L1846.3,690.5 L1846.6,689.1 L1846.9,687.6 L1847.2,686.1 L1847.5,684.7 L1847.8,683.2 L1848.1,681.7 L1848.4,680.2 L1848.7,678.8 L1849.0,677.3 L1849.4,675.8 L1849.7,674.4 L1850.0,672.9 L1850.3,671.4 L1850.7,670.0 L1851.0,668.5 L1851.4,667.0 L1851.7,665.6 L1852.0,664.1 L1852.4,662.7 L1852.7,661.2 L1853.1,659.7 L1853.4,658.3 L1853.8,656.8 L1854.1,655.3 L1854.4,653.9 L1854.8,652.4 L1855.1,650.9 L1855.5,649.5 L1855.8,648.0 L1856.1,646.6 L1856.5,645.1 L1856.8,643.6 L1857.2,642.2 L1857.5,640.7 L1857.8,639.2 L1858.2,637.8 L1858.5,636.3 L1858.9,634.8 L1859.2,633.4 L1859.5,631.9 L1859.9,630.5 L1860.2,629.0 L1860.6,627.5 L1860.9,626.1 L1861.3,624.6 L1861.6,623.1 L1862.0,621.7 L1862.4,620.2 L1862.7,618.8 L1863.1,617.3 L1863.5,615.8 L1863.8,614.4 L1864.2,612.9 L1864.6,611.5 L1864.9,610.0 L1865.3,608.6 L1865.7,607.1 L1866.1,605.7 L1866.5,604.2 L1866.8,602.8 L1867.2,601.3 L1867.6,599.8 L1868.0,598.4 L1868.4,596.9 L1868.7,595.5 L1869.1,594.0 L1869.5,592.6 L1869.9,591.1 L1870.2,589.7 L1870.6,588.2 L1871.0,586.7 L1871.3,585.3 L1871.7,583.8 L1872.1,582.4 L1872.4,580.9 L1872.8,579.5 L1873.2,578.0 L1873.5,576.5 L1873.9,575.1 L1874.3,573.6 L1874.6,572.2 L1875.0,570.7 L1875.4,569.3 L1875.8,567.8 L1876.2,566.4 L1876.6,564.9 L1877.0,563.5 L1877.4,562.0 L1877.8,560.6 L1878.2,559.1 L1878.6,557.7 L1879.0,556.2 L1879.5,554.8 L1879.9,553.4 L1880.3,551.9 L1880.8,550.5 L1881.2,549.1 L1881.7,547.6 L1882.1,546.2 L1882.6,544.8 L1883.1,543.3 L1883.5,541.9 L1884.0,540.5 L1884.5,539.0 L1885.0,537.6 L1885.5,536.2 L1885.9,534.8 L1886.4,533.4 L1886.9,531.9 L1887.4,530.5 L1887.9,529.1 L1888.4,527.7 L1889.0,526.3 L1889.5,524.9 L1890.0,523.5 L1890.5,522.0 L1891.0,520.6 L1891.6,519.2 L1892.1,517.8 L1892.6,516.4 L1893.2,515.0 L1893.7,513.6 L1894.3,512.2 L1894.8,510.8 L1895.4,509.4 L1896.0,508.0 L1896.5,506.6 L1897.1,505.3 L1897.7,503.9 L1898.3,502.5 L1898.9,501.1 L1899.5,499.7 L1900.1,498.4 L1900.7,497.0 L1901.3,495.6 L1902.0,494.3 L1902.6,492.9 L1903.3,491.5 L1903.9,490.2 L1904.6,488.9 L1905.3,487.5 L1906.0,486.2 L1906.6,484.8 L1907.4,483.5 L1908.1,482.2 L1908.8,480.9 L1909.5,479.6 L1910.3,478.3 L1911.0,477.0 L1911.8,475.7 L1912.6,474.4 L1913.4,473.1 L1914.1,471.8 L1914.9,470.6 L1915.8,469.3 L1916.6,468.0 L1917.4,466.8 L1918.3,465.5 L1919.1,464.3 L1920.0,463.1 L1920.9,461.9 L1921.8,460.7 L1922.7,459.5 L1923.6,458.3 L1924.5,457.1 L1925.5,455.9 L1926.4,454.8 L1927.4,453.7 L1928.4,452.5 L1929.4,451.4 L1930.4,450.3 L1931.4,449.2 L1932.5,448.1 L1933.5,447.1 L1934.6,446.0 L1935.7,445.0 L1936.8,444.0 L1937.9,443.0 L1939.0,442.0 L1940.2,441.0 L1941.3,440.0 L1942.5,439.1 L1943.7,438.2 L1944.8,437.3 L1946.0,436.4 L1947.3,435.5 L1948.5,434.6 L1949.7,433.8 L1951.0,433.0 L1952.3,432.2 L1953.5,431.4 L1954.8,430.7 L1956.1,429.9 L1957.4,429.2 L1958.8,428.5 L1960.1,427.8 L1961.4,427.2 L1962.8,426.5 L1964.2,425.9 L1965.5,425.3 L1966.9,424.8 L1968.3,424.2 L1969.7,423.7 L1971.1,423.2 L1972.6,422.7 L1974.0,422.2 L1975.4,421.8 L1976.8,421.4 L1978.3,421.0 L1979.7,420.6 L1981.2,420.3 L1982.7,420.0 L1984.1,419.7 L1985.6,419.5 L1987.1,419.2 L1988.5,419.1 L1990.0,418.9 L1991.5,418.8 L1993.0,418.7 L1994.5,418.6 L1996.0,418.6 L1997.5,418.6 L1998.9,418.6 L2000.4,418.7 L2001.9,418.8 L2003.4,418.9 L2004.9,419.1 L2006.3,419.3 L2007.8,419.6 L2009.3,419.9 L2010.7,420.2 L2012.2,420.6 L2013.6,421.0 L2015.0,421.4 L2016.4,421.9 L2017.8,422.4 L2019.2,422.9 L2020.6,423.4 L2022.0,424.0 L2023.4,424.6 L2024.7,425.3 L2026.1,425.9 L2027.4,426.6 L2028.7,427.3 L2030.0,428.1 L2031.3,428.8 L2032.6,429.6 L2033.8,430.4 L2035.1,431.3 L2036.3,432.1 L2037.5,433.0 L2038.7,433.9 L2039.9,434.8 L2041.0,435.8 L2042.2,436.7 L2043.3,437.7 L2044.4,438.7 L2045.5,439.8 L2046.6,440.8 L2047.6,441.8 L2048.7,442.9 L2049.7,444.0 L2050.7,445.1 L2051.7,446.3 L2052.7,447.4 L2053.7,448.5 L2054.6,449.7 L2055.6,450.9 L2056.5,452.1 L2057.4,453.3 L2058.3,454.5 L2059.2,455.7 L2060.0,456.9 L2060.9,458.2 L2061.8,459.4 L2062.6,460.7 L2063.4,461.9 L2064.2,463.2 L2065.0,464.5 L2065.8,465.7 L2066.6,467.0 L2067.4,468.3 L2068.2,469.6 L2068.9,470.9 L2069.7,472.2 L2070.4,473.5 L2071.1,474.8 L2071.8,476.2 L2072.5,477.5 L2073.2,478.8 L2073.9,480.2 L2074.6,481.5 L2075.3,482.9 L2075.9,484.2 L2076.6,485.6 L2077.2,486.9 L2077.9,488.3 L2078.5,489.6 L2079.1,491.0 L2079.8,492.4 L2080.4,493.8 L2081.0,495.1 L2081.6,496.5 L2082.1,497.9 L2082.7,499.3 L2083.3,500.7 L2083.9,502.1 L2084.4,503.5 L2085.0,504.8 L2085.5,506.2 L2086.1,507.6 L2086.6,509.1 L2087.1,510.5 L2087.7,511.9 L2088.2,513.3 L2088.7,514.7 L2089.2,516.1 L2089.7,517.5 L2090.2,518.9 L2090.8,520.4 L2091.3,521.8 L2091.8,523.2 L2092.2,524.6 L2092.7,526.0 L2093.2,527.5 L2093.7,528.9 L2094.2,530.3 L2094.7,531.7 L2095.2,533.2 L2095.7,534.6 L2096.1,536.0 L2096.6,537.4 L2097.1,538.9 L2097.6,540.3 L2098.0,541.7 L2098.5,543.1 L2099.0,544.6 L2099.4,546.0 L2099.9,547.4 L2100.4,548.9 L2100.8,550.3 L2101.3,551.7 L2101.7,553.2 L2102.2,554.6 L2102.6,556.0 L2103.0,557.5 L2103.5,558.9 L2103.9,560.4 L2104.3,561.8 L2104.8,563.2 L2105.2,564.7 L2105.6,566.1 L2106.0,567.6 L2106.4,569.0 L2106.8,570.5 L2107.2,571.9 L2107.6,573.4 L2108.0,574.8 L2108.4,576.3 L2108.8,577.7 L2109.2,579.2 L2109.6,580.6 L2110.0,582.1 L2110.4,583.5 L2110.7,585.0 L2111.1,586.4 L2111.5,587.9 L2111.8,589.3 L2112.2,590.8 L2112.5,592.3 L2112.9,593.7 L2113.3,595.2 L2113.6,596.6 L2114.0,598.1 L2114.3,599.6 L2114.7,601.0 L2115.0,602.5" stroke="#FF0000" stroke-width="6.9" stroke-dasharray="14.7 14.5"/>
<path d="M425.0,579.0 L425.5,577.6 L426.0,576.2 L426.5,574.7 L427.0,573.3 L427.5,571.9 L428.0,570.5 L428.6,569.1 L429.1,567.7 L429.6,566.3 L430.2,564.9 L430.7,563.5 L431.3,562.1 L431.8,560.7 L432.4,559.3 L433.0,557.9 L433.6,556.5 L434.2,555.2 L434.8,553.8 L435.4,552.4 L436.1,551.1 L436.7,549.7 L437.3,548.4 L438.0,547.0 L438.7,545.7 L439.3,544.3 L440.0,543.0 L440.7,541.7 L441.4,540.4 L442.1,539.0 L442.9,537.7 L443.6,536.4 L444.3,535.1 L445.0,533.8 L445.8,532.4 L446.5,531.1 L447.3,529.8 L448.0,528.5 L448.8,527.2 L449.5,525.9 L450.3,524.6 L451.1,523.3 L451.8,522.0 L452.6,520.7 L453.4,519.5 L454.2,518.2 L455.0,516.9 L455.8,515.6 L456.5,514.3 L457.3,513.0 L458.1,511.8 L458.9,510.5 L459.8,509.2 L460.6,508.0 L461.4,506.7 L462.2,505.4 L463.1,504.2 L463.9,502.9 L464.7,501.7 L465.6,500.5 L466.5,499.2 L467.3,498.0 L468.2,496.8 L469.1,495.6 L470.0,494.4 L470.9,493.2 L471.9,492.0 L472.8,490.9 L473.7,489.7 L474.7,488.6 L475.7,487.4 L476.6,486.3 L477.6,485.2 L478.6,484.0 L479.7,482.9 L480.7,481.9 L481.7,480.8 L482.8,479.7 L483.8,478.6 L484.9,477.6 L486.0,476.5 L487.1,475.5 L488.2,474.5 L489.3,473.5 L490.5,472.5 L491.6,471.5 L492.7,470.5 L493.9,469.6 L495.1,468.6 L496.2,467.7 L497.4,466.8 L498.6,465.9 L499.9,465.0 L501.1,464.2 L502.3,463.3 L503.6,462.5 L504.8,461.7 L506.1,461.0 L507.4,460.2 L508.7,459.5 L510.1,458.9 L511.4,458.2 L512.8,457.6 L514.1,457.0 L515.5,456.5 L516.9,456.0 L518.3,455.5 L519.7,455.1 L521.1,454.7 L522.6,454.3 L524.0,454.0 L525.4,453.7 L526.9,453.5 L528.4,453.3 L529.8,453.2 L531.3,453.1 L532.7,453.0 L534.2,453.1 L535.6,453.2 L537.1,453.3 L538.5,453.5 L540.0,453.7 L541.4,454.0 L542.8,454.4 L544.2,454.8 L545.7,455.2 L547.0,455.7 L548.4,456.2 L549.8,456.8 L551.2,457.4 L552.6,458.0 L553.9,458.6 L555.3,459.3 L556.6,460.0 L557.9,460.7 L559.3,461.4 L560.6,462.2 L561.9,462.9 L563.2,463.7 L564.5,464.5 L565.7,465.3 L567.0,466.2 L568.2,467.0 L569.5,467.9 L570.7,468.8 L571.8,469.7 L573.0,470.6 L574.1,471.5 L575.2,472.5 L576.3,473.5 L577.3,474.5 L578.3,475.5 L579.3,476.6 L580.3,477.7 L581.2,478.8 L582.1,479.9 L583.0,481.1 L583.8,482.2 L584.7,483.5 L585.5,484.7 L586.3,485.9 L587.0,487.2 L587.8,488.5 L588.5,489.8 L589.2,491.1 L589.9,492.5 L590.6,493.8 L591.3,495.2 L592.0,496.6 L592.7,497.9 L593.3,499.3 L594.0,500.7 L594.7,502.1 L595.3,503.5 L595.9,504.9 L596.6,506.2 L597.2,507.6 L597.8,509.0 L598.5,510.4 L599.1,511.8 L599.7,513.2 L600.3,514.5 L600.9,515.9 L601.5,517.3 L602.1,518.7 L602.7,520.1 L603.3,521.5 L603.9,522.8 L604.5,524.2 L605.1,525.6 L605.7,527.0 L606.2,528.4 L606.8,529.8 L607.4,531.2 L607.9,532.6 L608.5,534.0 L609.0,535.4 L609.6,536.8 L610.1,538.2 L610.6,539.6 L611.2,541.0 L611.7,542.4 L612.2,543.8 L612.7,545.2 L613.2,546.6 L613.7,548.1 L614.2,549.5 L614.7,550.9 L615.2,552.3 L615.7,553.7 L616.2,555.2 L616.7,556.6 L617.1,558.0 L617.6,559.4 L618.1,560.9 L618.5,562.3 L619.0,563.7 L619.4,565.2 L619.9,566.6 L620.3,568.0 L620.7,569.5 L621.2,570.9 L621.6,572.4 L622.0,573.8 L622.4,575.2 L622.8,576.7 L623.2,578.1 L623.6,579.6 L624.0,581.0 L624.4,582.5 L624.8,583.9 L625.2,585.4 L625.6,586.8 L625.9,588.3 L626.3,589.8 L626.7,591.2 L627.1,592.7 L627.4,594.1 L627.8,595.6 L628.1,597.0 L628.5,598.5 L628.9,600.0 L629.2,601.4 L629.6,602.9 L629.9,604.4 L630.2,605.8 L630.6,607.3 L630.9,608.7 L631.3,610.2 L631.6,611.7 L631.9,613.1 L632.3,614.6 L632.6,616.1 L632.9,617.5 L633.2,619.0 L633.6,620.5 L633.9,621.9 L634.2,623.4 L634.5,624.9 L634.9,626.3 L635.2,627.8 L635.5,629.3 L635.8,630.7 L636.2,632.2 L636.5,633.7 L636.8,635.1 L637.1,636.6 L637.5,638.1 L637.8,639.5 L638.1,641.0 L638.4,642.5 L638.8,643.9 L639.1,645.4 L639.4,646.9 L639.8,648.3 L640.1,649.8 L640.4,651.3 L640.8,652.7 L641.1,654.2 L641.4,655.7 L641.7,657.1 L642.0,658.6 L642.4,660.1 L642.7,661.6 L643.0,663.0 L643.3,664.5 L643.6,666.0 L643.9,667.4 L644.2,668.9 L644.5,670.4 L644.7,671.9 L645.0,673.3 L645.3,674.8 L645.6,676.3 L645.8,677.8 L646.1,679.3 L646.3,680.7 L646.6,682.2 L646.9,683.7 L647.1,685.2 L647.4,686.7 L647.6,688.1 L647.9,689.6 L648.1,691.1 L648.3,692.6 L648.6,694.1 L648.8,695.5 L649.1,697.0 L649.3,698.5 L649.6,700.0 L649.8,701.5 L650.1,703.0 L650.3,704.4 L650.6,705.9 L650.9,707.4 L651.1,708.9 L651.4,710.4 L651.6,711.8 L651.9,713.3 L652.1,714.8 L652.4,716.3 L652.7,717.8 L652.9,719.2 L653.2,720.7 L653.4,722.2 L653.7,723.7 L654.0,725.2 L654.2,726.6 L654.5,728.1 L654.7,729.6 L655.0,731.1 L655.2,732.6 L655.5,734.1 L655.7,735.5 L656.0,737.0 L656.2,738.5 L656.5,740.0 L656.7,741.5 L657.0,742.9 L657.2,744.4 L657.4,745.9 L657.7,747.4 L657.9,748.9 L658.2,750.4 L658.4,751.9 L658.6,753.3 L658.8,754.8 L659.1,756.3 L659.3,757.8 L659.5,759.3 L659.7,760.8 L660.0,762.3 L660.2,763.7 L660.4,765.2 L660.6,766.7 L660.8,768.2 L661.0,769.7 L661.2,771.2 L661.4,772.7 L661.6,774.2 L661.8,775.7 L662.0,777.1 L662.1,778.6 L662.3,780.1 L662.5,781.6 L662.7,783.1 L662.9,784.6 L663.0,786.1 L663.2,787.6 L663.4,789.1 L663.6,790.6 L663.8,792.1 L663.9,793.6 L664.1,795.0 L664.3,796.5 L664.5,798.0 L664.7,799.5 L664.9,801.0 L665.0,802.5 L665.2,804.0 L665.4,805.5 L665.6,807.0 L665.8,808.5 L666.0,810.0 L666.2,811.4 L666.4,812.9 L666.6,814.4 L666.8,815.9 L667.0,817.4 L667.2,818.9 L667.4,820.4 L667.6,821.9 L667.8,823.4 L668.0,824.8 L668.2,826.3 L668.4,827.8 L668.6,829.3 L668.8,830.8 L669.0,832.3 L669.2,833.8 L669.4,835.3 L669.6,836.8 L669.8,838.3 L670.0,839.7 L670.2,841.2 L670.4,842.7 L670.6,844.2 L670.8,845.7 L671.0,847.2 L671.1,848.7 L671.3,850.2 L671.5,851.7 L671.7,853.2 L671.9,854.6 L672.1,856.1 L672.2,857.6 L672.4,859.1 L672.6,860.6 L672.8,862.1 L672.9,863.6 L673.1,865.1 L673.3,866.6 L673.4,868.1 L673.6,869.6 L673.7,871.1 L673.9,872.6 L674.0,874.1 L674.2,875.6 L674.3,877.1 L674.4,878.5 L674.6,880.0 L674.7,881.5 L674.9,883.0 L675.0,884.5 L675.1,886.0 L675.3,887.5 L675.4,889.0 L675.5,890.5 L675.7,892.0 L675.8,893.5 L676.0,895.0 L676.1,896.5 L676.2,898.0 L676.4,899.5 L676.5,901.0 L676.7,902.5 L676.8,904.0 L677.0,905.5 L677.1,907.0 L677.3,908.5 L677.4,910.0 L677.6,911.5 L677.7,913.0 L677.9,914.4 L678.1,915.9 L678.2,917.4 L678.4,918.9 L678.5,920.4 L678.7,921.9 L678.8,923.4 L679.0,924.9 L679.2,926.4 L679.3,927.9 L679.5,929.4 L679.6,930.9 L679.8,932.4 L679.9,933.9 L680.1,935.4 L680.2,936.9 L680.4,938.4 L680.5,939.9 L680.7,941.4 L680.8,942.9 L680.9,944.3 L681.1,945.8 L681.2,947.3 L681.4,948.8 L681.5,950.3 L681.6,951.8 L681.8,953.3 L681.9,954.8 L682.0,956.3 L682.2,957.8 L682.3,959.3 L682.4,960.8 L682.6,962.3 L682.7,963.8 L682.8,965.3 L683.0,966.8 L683.1,968.3 L683.2,969.8 L683.3,971.3 L683.5,972.8 L683.6,974.3 L683.7,975.8 L683.8,977.3 L684.0,978.8 L684.1,980.3 L684.2,981.8 L684.3,983.3 L684.4,984.8 L684.6,986.3 L684.7,987.8 L684.8,989.3 L684.9,990.8 L685.0,992.3 L685.1,993.8 L685.3,995.3 L685.4,996.8 L685.5,998.3 L685.6,999.8 L685.7,1001.3 L685.8,1002.8 L685.9,1004.2 L686.0,1005.7 L686.1,1007.2 L686.2,1008.7 L686.4,1010.2 L686.5,1011.7 L686.6,1013.2 L686.7,1014.7 L686.8,1016.2 L686.9,1017.7 L687.0,1019.2 L687.1,1020.7 L687.2,1022.2 L687.3,1023.7 L687.4,1025.2 L687.6,1026.7 L687.7,1028.2 L687.8,1029.7 L687.9,1031.2 L688.1,1032.7 L688.2,1034.2 L688.3,1035.7 L688.5,1037.2 L688.6,1038.7 L688.8,1040.2 L689.0,1041.7 L689.1,1043.2 L689.3,1044.7 L689.5,1046.2 L689.7,1047.7 L689.8,1049.1 L690.0,1050.6 L690.2,1052.1 L690.4,1053.6 L690.6,1055.1 L690.8,1056.6 L690.9,1058.1 L691.1,1059.6 L691.3,1061.1 L691.5,1062.6 L691.6,1064.1 L691.8,1065.6 L692.0,1067.1 L692.1,1068.5 L692.3,1070.0 L692.4,1071.5 L692.6,1073.0 L692.7,1074.5 L692.9,1076.0 L693.0,1077.5 L693.1,1079.0 L693.2,1080.5 L693.4,1082.0 L693.5,1083.5 L693.6,1085.0 L693.7,1086.5 L693.9,1088.0 L694.0,1089.5 L694.1,1091.0 L694.2,1092.5 L694.3,1094.0 L694.5,1095.5 L694.6,1097.0 L694.7,1098.5 L694.8,1100.0 L694.9,1101.5 L695.0,1103.0 L695.1,1104.5 L695.3,1106.0 L695.4,1107.5 L695.5,1109.0 L695.6,1110.5 L695.7,1112.0 L695.8,1113.5 L695.9,1115.0 L696.1,1116.5 L696.2,1118.0 L696.3,1119.5 L696.4,1121.0 L696.5,1122.5 L696.6,1124.0 L696.8,1125.5 L696.9,1127.0 L697.0,1128.5 L697.1,1130.0 L697.3,1131.4 L697.4,1132.9 L697.5,1134.4 L697.7,1135.9 L697.8,1137.4 L698.0,1138.9 L698.1,1140.4 L698.3,1141.9 L698.4,1143.4 L698.6,1144.9 L698.7,1146.4 L698.9,1147.9 L699.0,1149.4 L699.2,1150.9 L699.4,1152.4 L699.6,1153.9 L699.7,1155.4 L699.9,1156.9 L700.1,1158.3 L700.3,1159.8 L700.4,1161.3 L700.6,1162.8 L700.8,1164.3 L701.0,1165.8 L701.2,1167.3 L701.4,1168.8 L701.6,1170.3 L701.8,1171.8 L702.0,1173.3 L702.2,1174.7 L702.4,1176.2 L702.6,1177.7 L702.9,1179.2 L703.1,1180.7 L703.3,1182.2 L703.6,1183.6 L703.9,1185.1 L704.2,1186.6 L704.4,1188.1 L704.7,1189.5 L705.0,1191.0 L705.2,1189.5 L705.3,1188.0 L705.5,1186.5 L705.7,1185.0 L705.8,1183.5 L706.0,1182.1 L706.1,1180.6 L706.3,1179.1 L706.4,1177.6 L706.5,1176.1 L706.6,1174.6 L706.7,1173.1 L706.8,1171.6 L706.9,1170.1 L707.0,1168.6 L707.1,1167.1 L707.2,1165.6 L707.3,1164.1 L707.3,1162.6 L707.4,1161.1 L707.5,1159.6 L707.6,1158.1 L707.7,1156.6 L707.8,1155.1 L707.9,1153.6 L708.0,1152.1 L708.1,1150.6 L708.1,1149.1 L708.2,1147.6 L708.3,1146.1 L708.4,1144.6 L708.5,1143.1 L708.6,1141.6 L708.7,1140.1 L708.8,1138.6 L708.9,1137.1 L709.0,1135.6 L709.1,1134.1 L709.2,1132.6 L709.3,1131.1 L709.4,1129.6 L709.5,1128.1 L709.6,1126.6 L709.7,1125.1 L709.8,1123.6 L709.9,1122.1 L710.0,1120.6 L710.1,1119.1 L710.2,1117.6 L710.3,1116.1 L710.4,1114.6 L710.5,1113.1 L710.7,1111.6 L710.8,1110.1 L710.9,1108.6 L711.0,1107.1 L711.1,1105.6 L711.2,1104.1 L711.3,1102.6 L711.4,1101.1 L711.5,1099.6 L711.7,1098.1 L711.8,1096.6 L711.9,1095.1 L712.0,1093.6 L712.1,1092.1 L712.3,1090.6 L712.4,1089.1 L712.5,1087.6 L712.6,1086.2 L712.7,1084.7 L712.8,1083.2 L713.0,1081.7 L713.1,1080.2 L713.2,1078.7 L713.3,1077.2 L713.4,1075.7 L713.6,1074.2 L713.7,1072.7 L713.8,1071.2 L713.9,1069.7 L714.0,1068.2 L714.1,1066.7 L714.3,1065.2 L714.4,1063.7 L714.5,1062.2 L714.6,1060.7 L714.7,1059.2 L714.8,1057.7 L715.0,1056.2 L715.1,1054.7 L715.2,1053.2 L715.3,1051.7 L715.4,1050.2 L715.5,1048.7 L715.6,1047.2 L715.7,1045.7 L715.8,1044.2 L715.9,1042.7 L716.0,1041.2 L716.1,1039.7 L716.2,1038.2 L716.3,1036.7 L716.4,1035.2 L716.4,1033.7 L716.5,1032.2 L716.6,1030.7 L716.7,1029.2 L716.8,1027.7 L716.8,1026.2 L716.9,1024.7 L717.0,1023.2 L717.1,1021.7 L717.1,1020.2 L717.2,1018.7 L717.3,1017.2 L717.4,1015.7 L717.4,1014.2 L717.5,1012.7 L717.6,1011.2 L717.7,1009.7 L717.7,1008.2 L717.8,1006.7 L717.9,1005.2 L718.0,1003.7 L718.0,1002.2 L718.1,1000.7 L718.2,999.2 L718.3,997.7 L718.4,996.2 L718.4,994.7 L718.5,993.2 L718.6,991.7 L718.7,990.2 L718.8,988.7 L718.8,987.2 L718.9,985.7 L719.0,984.2 L719.1,982.7 L719.2,981.2 L719.2,979.7 L719.3,978.2 L719.4,976.7 L719.5,975.2 L719.6,973.7 L719.7,972.2 L719.7,970.7 L719.8,969.2 L719.9,967.7 L720.0,966.2 L720.1,964.7 L720.2,963.2 L720.3,961.7 L720.3,960.2 L720.4,958.7 L720.5,957.2 L720.6,955.7 L720.7,954.2 L720.8,952.7 L720.9,951.2 L721.0,949.7 L721.1,948.2 L721.2,946.7 L721.3,945.2 L721.4,943.7 L721.5,942.2 L721.6,940.7 L721.7,939.2 L721.9,937.7 L722.0,936.2 L722.1,934.7 L722.2,933.2 L722.4,931.7 L722.5,930.2 L722.7,928.7 L722.8,927.2 L722.9,925.7 L723.1,924.3 L723.2,922.8 L723.4,921.3 L723.5,919.8 L723.6,918.3 L723.8,916.8 L723.9,915.3 L724.1,913.8 L724.2,912.3 L724.3,910.8 L724.5,909.3 L724.6,907.8 L724.7,906.3 L724.8,904.8 L724.9,903.3 L725.0,901.8 L725.2,900.3 L725.3,898.8 L725.4,897.3 L725.5,895.8 L725.6,894.3 L725.7,892.8 L725.8,891.3 L725.9,889.8 L726.0,888.3 L726.1,886.8 L726.1,885.3 L726.2,883.8 L726.3,882.3 L726.4,880.8 L726.5,879.3 L726.6,877.8 L726.7,876.3 L726.8,874.8 L726.9,873.3 L727.0,871.8 L727.1,870.3 L727.2,868.8 L727.3,867.3 L727.4,865.8 L727.5,864.3 L727.6,862.8 L727.7,861.3 L727.8,859.8 L728.0,858.3 L728.1,856.8 L728.2,855.3 L728.3,853.8 L728.4,852.3 L728.5,850.8 L728.6,849.3 L728.7,847.8 L728.8,846.4 L729.0,844.9 L729.1,843.4 L729.2,841.9 L729.3,840.4 L729.4,838.9 L729.5,837.4 L729.6,835.9 L729.8,834.4 L729.9,832.9 L730.0,831.4 L730.1,829.9 L730.2,828.4 L730.3,826.9 L730.4,825.4 L730.5,823.9 L730.7,822.4 L730.8,820.9 L730.9,819.4 L731.0,817.9 L731.1,816.4 L731.2,814.9 L731.3,813.4 L731.4,811.9 L731.5,810.4 L731.6,808.9 L731.7,807.4 L731.8,805.9 L731.9,804.4 L732.0,802.9 L732.1,801.4 L732.2,799.9 L732.3,798.4 L732.4,796.9 L732.5,795.4 L732.6,793.9 L732.7,792.4 L732.8,790.9 L732.9,789.4 L733.0,787.9 L733.0,786.4 L733.1,784.9 L733.2,783.4 L733.3,781.9 L733.4,780.4 L733.5,778.9 L733.6,777.4 L733.7,775.9 L733.8,774.4 L733.9,772.9 L734.0,771.4 L734.1,769.9 L734.3,768.4 L734.4,766.9 L734.5,765.4 L734.6,763.9 L734.7,762.4 L734.9,760.9 L735.0,759.4 L735.1,757.9 L735.3,756.4 L735.4,754.9 L735.5,753.5 L735.7,752.0 L735.8,750.5 L735.9,749.0 L736.1,747.5 L736.2,746.0 L736.3,744.5 L736.5,743.0 L736.6,741.5 L736.8,740.0 L736.9,738.5 L737.0,737.0 L737.1,735.5 L737.3,734.0 L737.4,732.5 L737.5,731.0 L737.7,729.5 L737.8,728.0 L737.9,726.5 L738.0,725.0 L738.2,723.5 L738.3,722.0 L738.4,720.5 L738.5,719.0 L738.7,717.5 L738.8,716.0 L738.9,714.5 L739.0,713.0 L739.2,711.5 L739.3,710.0 L739.4,708.5 L739.5,707.1 L739.7,705.6 L739.8,704.1 L739.9,702.6 L740.0,701.1 L740.1,699.6 L740.3,698.1 L740.4,696.6 L740.5,695.1 L740.6,693.6 L740.8,692.1 L740.9,690.6 L741.0,689.1 L741.1,687.6 L741.3,686.1 L741.4,684.6 L741.5,683.1 L741.6,681.6 L741.7,680.1 L741.9,678.6 L742.0,677.1 L742.1,675.6 L742.2,674.1 L742.3,672.6 L742.4,671.1 L742.5,669.6 L742.7,668.1 L742.8,666.6 L742.9,665.1 L743.0,663.6 L743.1,662.1 L743.2,660.6 L743.3,659.1 L743.4,657.6 L743.5,656.1 L743.6,654.6 L743.7,653.1 L743.8,651.6 L743.9,650.1 L744.1,648.6 L744.2,647.1 L744.3,645.6 L744.4,644.1 L744.5,642.6 L744.6,641.1 L744.7,639.6 L744.8,638.1 L744.9,636.6 L745.0,635.1 L745.1,633.7 L745.2,632.2 L745.4,630.7 L745.5,629.2 L745.6,627.7 L745.7,626.2 L745.8,624.7 L745.9,623.2 L746.0,621.7 L746.1,620.2 L746.2,618.7 L746.4,617.2 L746.5,615.7 L746.6,614.2 L746.7,612.7 L746.8,611.2 L746.9,609.7 L747.1,608.2 L747.2,606.7 L747.3,605.2 L747.4,603.7 L747.5,602.2 L747.6,600.7 L747.8,599.2 L747.9,597.7 L748.0,596.2 L748.1,594.7 L748.2,593.2 L748.3,591.7 L748.5,590.2 L748.6,588.7 L748.7,587.2 L748.8,585.7 L749.0,584.2 L749.1,582.7 L749.2,581.2 L749.3,579.7 L749.4,578.2 L749.6,576.7 L749.7,575.2 L749.8,573.7 L750.0,572.2 L750.1,570.7 L750.2,569.3 L750.3,567.8 L750.5,566.3 L750.6,564.8 L750.7,563.3 L750.9,561.8 L751.0,560.3 L751.1,558.8 L751.3,557.3 L751.4,555.8 L751.6,554.3 L751.7,552.8 L751.8,551.3 L752.0,549.8 L752.1,548.3 L752.2,546.8 L752.4,545.3 L752.5,543.8 L752.7,542.3 L752.8,540.8 L752.9,539.3 L753.1,537.8 L753.2,536.3 L753.4,534.8 L753.5,533.3 L753.7,531.9 L753.8,530.4 L753.9,528.9 L754.1,527.4 L754.2,525.9 L754.4,524.4 L754.5,522.9 L754.7,521.4 L754.8,519.9 L754.9,518.4 L755.1,516.9 L755.2,515.4 L755.4,513.9 L755.5,512.4 L755.6,510.9 L755.8,509.4 L755.9,507.9 L756.1,506.4 L756.2,504.9 L756.3,503.4 L756.5,501.9 L756.6,500.4 L756.7,498.9 L756.9,497.4 L757.0,496.0 L757.1,494.5 L757.3,493.0 L757.4,491.5 L757.5,490.0 L757.7,488.5 L757.8,487.0 L757.9,485.5 L758.1,484.0 L758.2,482.5 L758.3,481.0 L758.5,479.5 L758.6,478.0 L758.7,476.5 L758.9,475.0 L759.0,473.5 L759.1,472.0 L759.3,470.5 L759.4,469.0 L759.6,467.5 L759.7,466.0 L759.9,464.5 L760.0,463.0 L760.1,461.5 L760.3,460.0 L760.4,458.5 L760.6,457.1 L760.7,455.6 L760.9,454.1 L761.1,452.6 L761.2,451.1 L761.4,449.6 L761.5,448.1 L761.7,446.6 L761.9,445.1 L762.0,443.6 L762.2,442.1 L762.4,440.6 L762.5,439.1 L762.7,437.6 L762.9,436.1 L763.1,434.7 L763.2,433.2 L763.4,431.7 L763.6,430.2 L763.8,428.7 L764.0,427.2 L764.2,425.7 L764.4,424.2 L764.6,422.7 L764.7,421.2 L764.9,419.8 L765.1,418.3 L765.3,416.8 L765.5,415.3 L765.7,413.8 L765.9,412.3 L766.1,410.8 L766.3,409.3 L766.5,407.8 L766.7,406.3 L766.8,404.8 L767.0,403.4 L767.2,401.9 L767.4,400.4 L767.6,398.9 L767.8,397.4 L767.9,395.9 L768.1,394.4 L768.3,392.9 L768.5,391.4 L768.7,389.9 L768.8,388.4 L769.0,387.0 L769.2,385.5 L769.4,384.0 L769.6,382.5 L769.7,381.0 L769.9,379.5 L770.1,378.0 L770.3,376.5 L770.5,375.0 L770.7,373.5 L770.9,372.0 L771.0,370.6 L771.2,369.1 L771.4,367.6 L771.6,366.1 L771.8,364.6 L772.0,363.1 L772.2,361.6 L772.4,360.1 L772.6,358.6 L772.8,357.1 L773.0,355.7 L773.2,354.2 L773.4,352.7 L773.6,351.2 L773.8,349.7 L774.0,348.2 L774.2,346.7 L774.4,345.2 L774.6,343.7 L774.8,342.3 L775.0,340.8 L775.3,339.3 L775.5,337.8 L775.7,336.3 L775.9,334.8 L776.1,333.3 L776.4,331.9 L776.6,330.4 L776.8,328.9 L777.1,327.4 L777.3,325.9 L777.5,324.4 L777.8,323.0 L778.0,321.5 L778.2,320.0 L778.5,318.5 L778.7,317.0 L779.0,315.5 L779.2,314.1 L779.4,312.6 L779.7,311.1 L779.9,309.6 L780.1,308.1 L780.4,306.6 L780.6,305.1 L780.8,303.7 L781.1,302.2 L781.3,300.7 L781.5,299.2 L781.8,297.7 L782.0,296.2 L782.2,294.8 L782.4,293.3 L782.7,291.8 L782.9,290.3 L783.1,288.8 L783.4,287.3 L783.6,285.8 L783.8,284.4 L784.1,282.9 L784.3,281.4 L784.6,279.9 L784.8,278.4 L785.1,277.0 L785.4,275.5 L785.6,274.0 L785.9,272.5 L786.2,271.1 L786.5,269.6 L786.8,268.1 L787.1,266.6 L787.4,265.2 L787.7,263.7 L788.0,262.2 L788.3,260.8 L788.7,259.3 L789.0,257.8 L789.3,256.4 L789.7,254.9 L790.0,253.4 L790.3,252.0 L790.7,250.5 L791.0,249.0 L791.4,247.6 L791.7,246.1 L792.0,244.7 L792.4,243.2 L792.7,241.7 L793.1,240.3 L793.4,238.8 L793.8,237.3 L794.1,235.9 L794.5,234.4 L794.8,233.0 L795.2,231.5 L795.5,230.0 L795.9,228.6 L796.2,227.1 L796.6,225.6 L796.9,224.2 L797.3,222.7 L797.6,221.3 L798.0,219.8 L798.4,218.4 L798.7,216.9 L799.1,215.5 L799.5,214.0 L799.9,212.5 L800.3,211.1 L800.7,209.7 L801.1,208.2 L801.5,206.8 L801.9,205.3 L802.3,203.9 L802.7,202.4 L803.2,201.0 L803.6,199.6 L804.0,198.1 L804.5,196.7 L804.9,195.3 L805.4,193.8 L805.8,192.4 L806.3,191.0 L806.8,189.5 L807.2,188.1 L807.7,186.7 L808.2,185.2 L808.6,183.8 L809.1,182.4 L809.6,181.0 L810.0,179.5 L810.5,178.1 L811.0,176.7 L811.5,175.2 L811.9,173.8 L812.4,172.4 L812.9,170.9 L813.3,169.5 L813.8,168.1 L814.3,166.6 L814.7,165.2 L815.2,163.8 L815.7,162.3 L816.2,160.9 L816.7,159.5 L817.2,158.1 L817.7,156.7 L818.2,155.3 L818.7,153.9 L819.3,152.5 L819.8,151.1 L820.4,149.7 L821.0,148.4 L821.6,147.0 L822.2,145.7 L822.9,144.3 L823.5,143.0 L824.2,141.7 L824.9,140.3 L825.6,139.0 L826.4,137.7 L827.1,136.4 L827.9,135.2 L828.7,133.9 L829.5,132.6 L830.3,131.3 L831.1,130.1 L832.0,128.8 L832.8,127.6 L833.7,126.3 L834.5,125.1 L835.4,123.9 L836.3,122.7 L837.2,121.4 L838.1,120.2 L839.0,119.0 L839.9,117.8 L840.8,116.6 L841.7,115.4 L842.6,114.2 L843.6,113.0 L844.5,111.8 L845.4,110.6 L846.4,109.4 L847.3,108.2 L848.3,107.0 L849.2,105.9 L850.2,104.7 L851.2,103.6 L852.2,102.4 L853.2,101.3 L854.2,100.2 L855.2,99.1 L856.3,98.0 L857.3,97.0 L858.4,95.9 L859.4,94.9 L860.5,93.9 L861.6,92.9 L862.8,91.9 L863.9,91.0 L865.0,90.1 L866.2,89.1 L867.4,88.2 L868.6,87.4 L869.8,86.5 L871.0,85.7 L872.3,84.8 L873.5,84.0 L874.8,83.2 L876.1,82.4 L877.4,81.7 L878.7,80.9 L880.0,80.2 L881.3,79.5 L882.7,78.8 L884.0,78.1 L885.3,77.4 L886.7,76.8 L888.1,76.1 L889.4,75.5 L890.8,74.9 L892.2,74.3 L893.6,73.7 L894.9,73.1 L896.3,72.6 L897.7,72.0 L899.1,71.5 L900.5,71.0 L901.9,70.5 L903.4,69.9 L904.8,69.5 L906.2,69.0 L907.6,68.5 L909.1,68.0 L910.5,67.6 L911.9,67.1 L913.4,66.7 L914.8,66.2 L916.2,65.8 L917.7,65.3 L919.1,64.9 L920.6,64.5 L922.0,64.1 L923.5,63.7 L924.9,63.3 L926.4,62.9 L927.8,62.5 L929.3,62.2 L930.8,61.8 L932.2,61.5 L933.7,61.1 L935.1,60.8 L936.6,60.5 L938.1,60.1 L939.5,59.8 L941.0,59.6 L942.5,59.3 L944.0,59.0 L945.5,58.8 L946.9,58.6 L948.4,58.3 L949.9,58.1 L951.4,57.9 L952.9,57.8 L954.4,57.6 L955.9,57.5 L957.3,57.4 L958.8,57.2 L960.3,57.1 L961.8,57.1 L963.3,57.0 L964.8,56.9 L966.3,56.8 L967.8,56.8 L969.3,56.7 L970.8,56.7 L972.3,56.7 L973.8,56.6 L975.3,56.6 L976.8,56.6 L978.3,56.5 L979.8,56.5 L981.3,56.5 L982.8,56.5 L984.3,56.5 L985.8,56.4 L987.3,56.4 L988.8,56.4 L990.3,56.4 L991.8,56.4 L993.3,56.3 L994.9,56.3 L996.4,56.3 L997.9,56.3 L999.4,56.3 L1000.9,56.3 L1002.4,56.2 L1003.9,56.2 L1005.4,56.2 L1006.9,56.2 L1008.4,56.1 L1009.9,56.1 L1011.4,56.1 L1012.9,56.1 L1014.4,56.0 L1015.9,56.0 L1017.4,56.0 L1018.9,55.9 L1020.4,55.9 L1021.9,55.8 L1023.4,55.8 L1024.9,55.7 L1026.4,55.7 L1027.9,55.7 L1029.4,55.6 L1030.9,55.6 L1032.4,55.5 L1033.9,55.5 L1035.4,55.4 L1036.9,55.4 L1038.4,55.3 L1039.9,55.3 L1041.4,55.3 L1042.9,55.2 L1044.4,55.2 L1045.9,55.2 L1047.5,55.1 L1049.0,55.1 L1050.5,55.1 L1052.0,55.1 L1053.5,55.1 L1055.0,55.1 L1056.5,55.1 L1058.0,55.1 L1059.5,55.1 L1061.0,55.1 L1062.5,55.1 L1064.0,55.2 L1065.5,55.2 L1067.0,55.2 L1068.5,55.2 L1070.0,55.2 L1071.5,55.3 L1073.0,55.3 L1074.5,55.3 L1076.0,55.3 L1077.5,55.4 L1079.0,55.4 L1080.5,55.4 L1082.0,55.5 L1083.5,55.5 L1085.0,55.5 L1086.5,55.6 L1088.0,55.6 L1089.5,55.6 L1091.0,55.7 L1092.5,55.7 L1094.0,55.7 L1095.5,55.8 L1097.0,55.8 L1098.5,55.9 L1100.0,55.9 L1101.5,56.0 L1103.0,56.0 L1104.5,56.1 L1106.0,56.1 L1107.5,56.2 L1109.0,56.3 L1110.5,56.4 L1112.0,56.5 L1113.5,56.6 L1115.0,56.8 L1116.5,56.9 L1118.0,57.1 L1119.5,57.3 L1121.0,57.5 L1122.4,57.7 L1123.9,57.9 L1125.4,58.2 L1126.9,58.5 L1128.3,58.8 L1129.8,59.1 L1131.2,59.5 L1132.7,59.9 L1134.1,60.3 L1135.5,60.8 L1136.9,61.3 L1138.3,61.8 L1139.7,62.3 L1141.0,62.9 L1142.4,63.5 L1143.7,64.2 L1144.9,64.9 L1146.2,65.7 L1147.4,66.5 L1148.5,67.3 L1149.6,68.2 L1150.7,69.2 L1151.8,70.2 L1152.8,71.2 L1153.8,72.3 L1154.7,73.4 L1155.6,74.6 L1156.4,75.8 L1157.2,77.0 L1158.0,78.3 L1158.8,79.6 L1159.5,80.9 L1160.2,82.2 L1160.8,83.5 L1161.4,84.9 L1162.0,86.3 L1162.6,87.7 L1163.1,89.1 L1163.6,90.5 L1164.1,91.9 L1164.5,93.3 L1165.0,94.8 L1165.4,96.2 L1165.8,97.6 L1166.2,99.1 L1166.6,100.6 L1167.0,102.0 L1167.3,103.5 L1167.6,104.9 L1168.0,106.4 L1168.3,107.9 L1168.6,109.4 L1168.8,110.8 L1169.1,112.3 L1169.4,113.8 L1169.6,115.3 L1169.8,116.8 L1170.0,118.2 L1170.2,119.7 L1170.4,121.2 L1170.6,122.7 L1170.7,124.2 L1170.9,125.7 L1171.0,127.2 L1171.1,128.7 L1171.2,130.2 L1171.3,131.7 L1171.4,133.2 L1171.5,134.7 L1171.6,136.1 L1171.7,137.6 L1171.8,139.1 L1171.9,140.7 L1172.0,142.2 L1172.0,143.7 L1172.1,145.2 L1172.2,146.7 L1172.2,148.2 L1172.3,149.7 L1172.4,151.2 L1172.4,152.7 L1172.5,154.2 L1172.6,155.7 L1172.6,157.2 L1172.7,158.7 L1172.8,160.2 L1172.9,161.7 L1172.9,163.2 L1173.0,164.7 L1173.1,166.2 L1173.1,167.7 L1173.2,169.2 L1173.3,170.7 L1173.4,172.2 L1173.4,173.7 L1173.5,175.2 L1173.6,176.7 L1173.7,178.2 L1173.7,179.7 L1173.8,181.2 L1173.9,182.7 L1173.9,184.2 L1174.0,185.7 L1174.1,187.2 L1174.2,188.7 L1174.2,190.2 L1174.3,191.7 L1174.4,193.2 L1174.4,194.7 L1174.5,196.2 L1174.5,197.7 L1174.6,199.2 L1174.6,200.7 L1174.7,202.2 L1174.8,203.7 L1174.8,205.2 L1174.9,206.7 L1174.9,208.2 L1175.0,209.7 L1175.0,211.2 L1175.0,212.7 L1175.1,214.2 L1175.1,215.7 L1175.2,217.2 L1175.2,218.7 L1175.2,220.2 L1175.3,221.7 L1175.3,223.2 L1175.3,224.7 L1175.4,226.2 L1175.4,227.7 L1175.4,229.2 L1175.5,230.7 L1175.5,232.2 L1175.5,233.7 L1175.5,235.2 L1175.6,236.7 L1175.6,238.3 L1175.6,239.8 L1175.7,241.3 L1175.7,242.8 L1175.7,244.3 L1175.7,245.8 L1175.8,247.3 L1175.8,248.8 L1175.8,250.3 L1175.8,251.8 L1175.9,253.3 L1175.9,254.8 L1175.9,256.3 L1176.0,257.8 L1176.0,259.3 L1176.0,260.8 L1176.0,262.3 L1176.1,263.8 L1176.1,265.3 L1176.1,266.8 L1176.2,268.3 L1176.2,269.8 L1176.2,271.3 L1176.2,272.8 L1176.3,274.3 L1176.3,275.8 L1176.3,277.3 L1176.4,278.8 L1176.4,280.3 L1176.4,281.8 L1176.4,283.3 L1176.5,284.8 L1176.5,286.3 L1176.5,287.8 L1176.6,289.3 L1176.6,290.8 L1176.6,292.3 L1176.7,293.8 L1176.7,295.3 L1176.7,296.8 L1176.8,298.3 L1176.8,299.8 L1176.8,301.3 L1176.9,302.8 L1176.9,304.3 L1176.9,305.8 L1177.0,307.3 L1177.0,308.8 L1177.0,310.4 L1177.1,311.9 L1177.1,313.4 L1177.2,314.9 L1177.2,316.4 L1177.2,317.9 L1177.3,319.4 L1177.3,320.9 L1177.4,322.4 L1177.4,323.9 L1177.5,325.4 L1177.5,326.9 L1177.6,328.4 L1177.6,329.9 L1177.7,331.4 L1177.7,332.9 L1177.8,334.4 L1177.8,335.9 L1177.8,337.4 L1177.9,338.9 L1177.9,340.4 L1178.0,341.9 L1178.0,343.4 L1178.1,344.9 L1178.1,346.4 L1178.2,347.9 L1178.2,349.4 L1178.2,350.9 L1178.3,352.4 L1178.3,353.9 L1178.4,355.4 L1178.4,356.9 L1178.4,358.4 L1178.5,359.9 L1178.5,361.4 L1178.5,362.9 L1178.6,364.4 L1178.6,365.9 L1178.6,367.4 L1178.6,368.9 L1178.7,370.4 L1178.7,371.9 L1178.7,373.4 L1178.7,374.9 L1178.8,376.4 L1178.8,377.9 L1178.8,379.4 L1178.8,380.9 L1178.9,382.4 L1178.9,383.9 L1178.9,385.4 L1178.9,386.9 L1178.9,388.4 L1179.0,389.9 L1179.0,391.5 L1179.0,393.0 L1179.0,394.5 L1179.0,396.0 L1179.1,397.5 L1179.1,399.0 L1179.1,400.5 L1179.1,402.0 L1179.1,403.5 L1179.1,405.0 L1179.2,406.5 L1179.2,408.0 L1179.2,409.5 L1179.2,411.0 L1179.2,412.5 L1179.2,414.0 L1179.3,415.5 L1179.3,417.0 L1179.3,418.5 L1179.3,420.0 L1179.3,421.5 L1179.3,423.0 L1179.4,424.5 L1179.4,426.0 L1179.4,427.5 L1179.4,429.0 L1179.5,430.5 L1179.5,432.0 L1179.5,433.5 L1179.6,435.0 L1179.6,436.5 L1179.6,438.0 L1179.7,439.5 L1179.7,441.0 L1179.8,442.5 L1179.8,444.0 L1179.9,445.5 L1180.0,447.0 L1180.0,448.5 L1180.1,450.0 L1180.2,451.5 L1180.3,453.0 L1180.4,454.5 L1180.5,456.0 L1180.6,457.5 L1180.8,459.0 L1180.9,460.5 L1181.0,462.0 L1181.1,460.5 L1181.3,459.0 L1181.4,457.5 L1181.5,456.0 L1181.6,454.5 L1181.8,453.0 L1181.9,451.5 L1182.0,450.0 L1182.1,448.5 L1182.2,447.0 L1182.3,445.5 L1182.4,444.0 L1182.5,442.5 L1182.6,441.0 L1182.6,439.5 L1182.7,438.0 L1182.8,436.5 L1182.9,435.0 L1182.9,433.5 L1183.0,432.0 L1183.1,430.5 L1183.1,429.0 L1183.2,427.5 L1183.3,426.0 L1183.3,424.5 L1183.4,423.0 L1183.4,421.5 L1183.5,420.0 L1183.5,418.5 L1183.6,417.0 L1183.6,415.5 L1183.6,414.0 L1183.7,412.5 L1183.7,411.0 L1183.7,409.5 L1183.7,408.0 L1183.8,406.5 L1183.8,405.0 L1183.8,403.5 L1183.8,402.0 L1183.8,400.5 L1183.8,399.0 L1183.8,397.5 L1183.9,396.0 L1183.9,394.5 L1183.9,393.0 L1183.9,391.5 L1183.9,390.0 L1183.9,388.5 L1183.9,387.0 L1183.9,385.5 L1184.0,384.0 L1184.0,382.5 L1184.0,381.0 L1184.0,379.5 L1184.0,378.0 L1184.1,376.5 L1184.1,375.0 L1184.1,373.5 L1184.1,372.0 L1184.2,370.5 L1184.2,368.9 L1184.2,367.4 L1184.3,365.9 L1184.3,364.4 L1184.3,362.9 L1184.4,361.4 L1184.4,359.9 L1184.4,358.4 L1184.5,356.9 L1184.5,355.4 L1184.6,353.9 L1184.6,352.4 L1184.6,350.9 L1184.7,349.4 L1184.7,347.9 L1184.7,346.4 L1184.8,344.9 L1184.8,343.4 L1184.8,341.9 L1184.8,340.4 L1184.9,338.9 L1184.9,337.4 L1184.9,335.9 L1184.9,334.4 L1184.9,332.9 L1184.9,331.4 L1185.0,329.9 L1185.0,328.4 L1185.0,326.9 L1185.0,325.4 L1185.0,323.9 L1185.0,322.4 L1185.0,320.9 L1185.0,319.4 L1185.0,317.9 L1185.0,316.4 L1185.0,314.9 L1185.0,313.4 L1185.0,311.9 L1185.0,310.4 L1185.0,308.9 L1185.0,307.4 L1185.0,305.9 L1185.0,304.4 L1185.0,302.9 L1185.0,301.4 L1185.0,299.9 L1185.0,298.3 L1185.0,296.8 L1185.0,295.3 L1185.0,293.8 L1185.0,292.3 L1185.0,290.8 L1185.0,289.3 L1185.0,287.8 L1185.0,286.3 L1185.0,284.8 L1185.0,283.3 L1185.0,281.8 L1185.0,280.3 L1185.0,278.8 L1185.0,277.3 L1185.1,275.8 L1185.1,274.3 L1185.1,272.8 L1185.1,271.3 L1185.1,269.8 L1185.2,268.3 L1185.2,266.8 L1185.2,265.3 L1185.2,263.8 L1185.3,262.3 L1185.3,260.8 L1185.4,259.3 L1185.4,257.8 L1185.4,256.3 L1185.5,254.8 L1185.5,253.3 L1185.6,251.8 L1185.6,250.3 L1185.7,248.8 L1185.8,247.3 L1185.8,245.8 L1185.9,244.3 L1185.9,242.8 L1186.0,241.3 L1186.0,239.8 L1186.1,238.3 L1186.1,236.8 L1186.2,235.3 L1186.3,233.8 L1186.3,232.3 L1186.4,230.8 L1186.4,229.3 L1186.5,227.8 L1186.5,226.3 L1186.6,224.8 L1186.6,223.3 L1186.7,221.8 L1186.8,220.3 L1186.8,218.8 L1186.9,217.3 L1186.9,215.8 L1187.0,214.2 L1187.0,212.7 L1187.1,211.2 L1187.2,209.7 L1187.2,208.2 L1187.3,206.7 L1187.3,205.2 L1187.4,203.7 L1187.4,202.2 L1187.5,200.7 L1187.6,199.2 L1187.6,197.7 L1187.7,196.2 L1187.8,194.7 L1187.8,193.2 L1187.9,191.7 L1187.9,190.2 L1188.0,188.7 L1188.1,187.2 L1188.1,185.7 L1188.2,184.2 L1188.3,182.7 L1188.3,181.2 L1188.4,179.7 L1188.5,178.2 L1188.5,176.7 L1188.6,175.2 L1188.7,173.7 L1188.7,172.2 L1188.8,170.7 L1188.9,169.2 L1189.0,167.7 L1189.0,166.2 L1189.1,164.7 L1189.2,163.2 L1189.3,161.7 L1189.3,160.2 L1189.4,158.7 L1189.5,157.2 L1189.6,155.7 L1189.6,154.2 L1189.7,152.7 L1189.8,151.2 L1189.9,149.7 L1190.0,148.2 L1190.0,146.7 L1190.1,145.2 L1190.2,143.7 L1190.3,142.2 L1190.4,140.7 L1190.5,139.2 L1190.6,137.7 L1190.7,136.2 L1190.8,134.7 L1190.9,133.2 L1191.0,131.7 L1191.2,130.2 L1191.3,128.7 L1191.4,127.2 L1191.5,125.7 L1191.7,124.2 L1191.8,122.7 L1191.9,121.1 L1192.1,119.6 L1192.2,118.1 L1192.4,116.6 L1192.5,115.1 L1192.7,113.6 L1192.9,112.0 L1193.0,110.5 L1193.2,109.0 L1193.4,107.5 L1193.6,106.0 L1193.8,104.4 L1194.0,102.9 L1194.2,101.4 L1194.5,99.9 L1194.7,98.4 L1194.9,96.9 L1195.2,95.4 L1195.5,94.0 L1195.8,92.5 L1196.1,91.0 L1196.4,89.6 L1196.7,88.1 L1197.1,86.7 L1197.4,85.3 L1197.8,83.8 L1198.3,82.4 L1198.7,81.0 L1199.2,79.7 L1199.8,78.3 L1200.3,76.9 L1201.0,75.6 L1201.6,74.3 L1202.3,73.1 L1203.1,71.8 L1203.9,70.7 L1204.8,69.5 L1205.7,68.5 L1206.6,67.4 L1207.6,66.5 L1208.7,65.6 L1209.8,64.8 L1211.0,64.0 L1212.2,63.3 L1213.4,62.7 L1214.7,62.1 L1216.0,61.6 L1217.3,61.1 L1218.7,60.7 L1220.1,60.4 L1221.6,60.0 L1223.0,59.7 L1224.5,59.5 L1226.0,59.2 L1227.4,59.0 L1228.9,58.8 L1230.4,58.6 L1231.9,58.5 L1233.4,58.3 L1235.0,58.2 L1236.5,58.1 L1238.0,57.9 L1239.5,57.8 L1241.0,57.7 L1242.5,57.7 L1244.0,57.6 L1245.5,57.5 L1247.0,57.5 L1248.5,57.4 L1250.0,57.4 L1251.5,57.4 L1253.0,57.4 L1254.5,57.5 L1256.0,57.5 L1257.5,57.6 L1259.0,57.7 L1260.4,57.8 L1261.9,57.9 L1263.4,58.0 L1264.9,58.2 L1266.4,58.3 L1267.9,58.5 L1269.4,58.7 L1270.9,58.9 L1272.4,59.1 L1273.9,59.3 L1275.4,59.5 L1276.8,59.6 L1278.3,59.8 L1279.8,60.0 L1281.3,60.2 L1282.8,60.4 L1284.3,60.6 L1285.8,60.7 L1287.3,60.9 L1288.8,61.0 L1290.3,61.2 L1291.8,61.3 L1293.3,61.5 L1294.8,61.6 L1296.3,61.7 L1297.8,61.8 L1299.3,62.0 L1300.8,62.1 L1302.3,62.2 L1303.8,62.3 L1305.3,62.5 L1306.8,62.6 L1308.3,62.7 L1309.8,62.8 L1311.3,62.9 L1312.7,63.0 L1314.2,63.2 L1315.7,63.3 L1317.2,63.4 L1318.7,63.5 L1320.2,63.7 L1321.7,63.8 L1323.2,63.9 L1324.7,64.1 L1326.2,64.2 L1327.7,64.3 L1329.2,64.5 L1330.7,64.6 L1332.2,64.8 L1333.7,64.9 L1335.2,65.1 L1336.7,65.2 L1338.2,65.4 L1339.7,65.6 L1341.2,65.7 L1342.7,65.9 L1344.1,66.1 L1345.6,66.3 L1347.1,66.4 L1348.6,66.6 L1350.1,66.8 L1351.6,67.0 L1353.1,67.2 L1354.6,67.4 L1356.1,67.6 L1357.6,67.8 L1359.0,68.0 L1360.5,68.2 L1362.0,68.4 L1363.5,68.6 L1365.0,68.9 L1366.5,69.1 L1368.0,69.3 L1369.5,69.5 L1370.9,69.8 L1372.4,70.0 L1373.9,70.2 L1375.4,70.5 L1376.9,70.7 L1378.3,71.0 L1379.8,71.2 L1381.3,71.5 L1382.8,71.7 L1384.3,72.0 L1385.8,72.2 L1387.2,72.5 L1388.7,72.8 L1390.2,73.0 L1391.7,73.3 L1393.2,73.6 L1394.6,73.8 L1396.1,74.1 L1397.6,74.4 L1399.1,74.6 L1400.5,74.9 L1402.0,75.2 L1403.5,75.4 L1405.0,75.7 L1406.5,76.0 L1407.9,76.3 L1409.4,76.6 L1410.9,76.8 L1412.4,77.1 L1413.8,77.4 L1415.3,77.7 L1416.8,78.0 L1418.3,78.3 L1419.7,78.6 L1421.2,79.0 L1422.7,79.3 L1424.1,79.6 L1425.6,80.0 L1427.0,80.3 L1428.5,80.7 L1429.9,81.1 L1431.4,81.5 L1432.8,81.9 L1434.3,82.3 L1435.7,82.7 L1437.1,83.1 L1438.6,83.5 L1440.0,84.0 L1441.4,84.4 L1442.9,84.9 L1444.3,85.4 L1445.7,85.8 L1447.1,86.3 L1448.6,86.8 L1450.0,87.3 L1451.4,87.8 L1452.8,88.3 L1454.2,88.8 L1455.7,89.3 L1457.1,89.9 L1458.5,90.4 L1459.9,90.9 L1461.3,91.4 L1462.7,91.9 L1464.1,92.5 L1465.5,93.0 L1467.0,93.5 L1468.4,94.1 L1469.8,94.6 L1471.2,95.2 L1472.6,95.7 L1474.0,96.2 L1475.4,96.8 L1476.8,97.4 L1478.2,97.9 L1479.5,98.5 L1480.9,99.1 L1482.3,99.7 L1483.7,100.3 L1485.0,100.9 L1486.4,101.6 L1487.7,102.2 L1489.1,102.9 L1490.4,103.5 L1491.8,104.2 L1493.1,104.9 L1494.4,105.6 L1495.7,106.3 L1497.0,107.1 L1498.3,107.8 L1499.6,108.6 L1500.9,109.3 L1502.2,110.1 L1503.4,110.9 L1504.7,111.7 L1506.0,112.5 L1507.2,113.4 L1508.5,114.2 L1509.7,115.1 L1510.9,115.9 L1512.2,116.8 L1513.4,117.7 L1514.6,118.5 L1515.8,119.4 L1517.1,120.3 L1518.3,121.2 L1519.5,122.1 L1520.7,123.0 L1521.9,123.9 L1523.1,124.8 L1524.2,125.8 L1525.4,126.7 L1526.6,127.6 L1527.8,128.6 L1528.9,129.5 L1530.1,130.5 L1531.2,131.5 L1532.4,132.4 L1533.5,133.4 L1534.7,134.4 L1535.8,135.4 L1536.9,136.4 L1538.0,137.4 L1539.1,138.4 L1540.2,139.4 L1541.3,140.5 L1542.4,141.5 L1543.5,142.6 L1544.5,143.6 L1545.6,144.7 L1546.7,145.7 L1547.7,146.8 L1548.7,147.9 L1549.8,149.0 L1550.8,150.1 L1551.8,151.2 L1552.8,152.3 L1553.8,153.5 L1554.8,154.6 L1555.7,155.7 L1556.7,156.9 L1557.7,158.0 L1558.6,159.2 L1559.6,160.4 L1560.5,161.6 L1561.4,162.7 L1562.3,163.9 L1563.3,165.1 L1564.2,166.3 L1565.1,167.5 L1565.9,168.7 L1566.8,170.0 L1567.7,171.2 L1568.5,172.4 L1569.4,173.6 L1570.2,174.9 L1571.1,176.1 L1571.9,177.4 L1572.7,178.6 L1573.5,179.9 L1574.3,181.2 L1575.1,182.4 L1575.9,183.7 L1576.7,185.0 L1577.5,186.3 L1578.3,187.6 L1579.0,188.9 L1579.8,190.2 L1580.6,191.5 L1581.3,192.8 L1582.1,194.1 L1582.8,195.4 L1583.5,196.7 L1584.3,198.0 L1585.0,199.3 L1585.7,200.6 L1586.5,201.9 L1587.2,203.3 L1587.9,204.6 L1588.6,205.9 L1589.3,207.2 L1590.0,208.6 L1590.7,209.9 L1591.4,211.2 L1592.1,212.5 L1592.8,213.9 L1593.5,215.2 L1594.2,216.6 L1594.9,217.9 L1595.6,219.2 L1596.2,220.6 L1596.9,221.9 L1597.5,223.3 L1598.2,224.7 L1598.8,226.0 L1599.4,227.4 L1600.1,228.7 L1600.7,230.1 L1601.3,231.5 L1601.9,232.9 L1602.5,234.2 L1603.1,235.6 L1603.6,237.0 L1604.2,238.4 L1604.8,239.8 L1605.3,241.2 L1605.9,242.6 L1606.4,244.0 L1607.0,245.4 L1607.5,246.8 L1608.1,248.2 L1608.6,249.6 L1609.1,251.0 L1609.7,252.4 L1610.2,253.8 L1610.7,255.2 L1611.2,256.6 L1611.8,258.0 L1612.3,259.4 L1612.8,260.8 L1613.3,262.3 L1613.8,263.7 L1614.3,265.1 L1614.8,266.5 L1615.3,267.9 L1615.8,269.3 L1616.3,270.7 L1616.8,272.2 L1617.3,273.6 L1617.8,275.0 L1618.3,276.4 L1618.8,277.8 L1619.3,279.2 L1619.8,280.7 L1620.3,282.1 L1620.8,283.5 L1621.3,284.9 L1621.7,286.4 L1622.2,287.8 L1622.7,289.2 L1623.2,290.6 L1623.6,292.1 L1624.1,293.5 L1624.5,294.9 L1625.0,296.4 L1625.5,297.8 L1625.9,299.2 L1626.4,300.7 L1626.8,302.1 L1627.3,303.5 L1627.7,305.0 L1628.1,306.4 L1628.6,307.8 L1629.0,309.3 L1629.4,310.7 L1629.9,312.2 L1630.3,313.6 L1630.7,315.0 L1631.1,316.5 L1631.6,317.9 L1632.0,319.4 L1632.4,320.8 L1632.8,322.3 L1633.2,323.7 L1633.6,325.1 L1634.0,326.6 L1634.4,328.0 L1634.8,329.5 L1635.2,330.9 L1635.6,332.4 L1636.0,333.8 L1636.4,335.3 L1636.8,336.7 L1637.2,338.2 L1637.6,339.6 L1637.9,341.1 L1638.3,342.5 L1638.7,344.0 L1639.1,345.5 L1639.4,346.9 L1639.8,348.4 L1640.2,349.8 L1640.5,351.3 L1640.9,352.7 L1641.2,354.2 L1641.6,355.7 L1642.0,357.1 L1642.3,358.6 L1642.7,360.0 L1643.0,361.5 L1643.3,363.0 L1643.7,364.4 L1644.0,365.9 L1644.4,367.4 L1644.7,368.8 L1645.0,370.3 L1645.4,371.8 L1645.7,373.2 L1646.0,374.7 L1646.3,376.2 L1646.7,377.6 L1647.0,379.1 L1647.3,380.6 L1647.6,382.0 L1648.0,383.5 L1648.3,385.0 L1648.6,386.4 L1648.9,387.9 L1649.2,389.4 L1649.6,390.8 L1649.9,392.3 L1650.2,393.8 L1650.5,395.2 L1650.8,396.7 L1651.1,398.2 L1651.4,399.6 L1651.7,401.1 L1652.1,402.6 L1652.4,404.1 L1652.7,405.5 L1653.0,407.0 L1653.3,408.5 L1653.6,409.9 L1653.9,411.4 L1654.2,412.9 L1654.5,414.4 L1654.8,415.8 L1655.1,417.3 L1655.4,418.8 L1655.7,420.2 L1656.0,421.7 L1656.3,423.2 L1656.6,424.6 L1656.9,426.1 L1657.3,427.6 L1657.6,429.1 L1657.9,430.5 L1658.2,432.0 L1658.5,433.5 L1658.8,434.9 L1659.1,436.4 L1659.4,437.9 L1659.7,439.4 L1660.0,440.8 L1660.3,442.3 L1660.6,443.8 L1660.9,445.2 L1661.2,446.7 L1661.5,448.2 L1661.8,449.7 L1662.1,451.1 L1662.3,452.6 L1662.6,454.1 L1662.9,455.6 L1663.2,457.0 L1663.4,458.5 L1663.7,460.0 L1664.0,461.5 L1664.2,463.0 L1664.5,464.4 L1664.8,465.9 L1665.0,467.4 L1665.3,468.9 L1665.5,470.4 L1665.8,471.8 L1666.0,473.3 L1666.3,474.8 L1666.5,476.3 L1666.8,477.8 L1667.0,479.2 L1667.3,480.7 L1667.5,482.2 L1667.7,483.7 L1668.0,485.2 L1668.2,486.7 L1668.5,488.1 L1668.7,489.6 L1669.0,491.1 L1669.2,492.6 L1669.4,494.1 L1669.7,495.6 L1669.9,497.0 L1670.1,498.5 L1670.4,500.0 L1670.6,501.5 L1670.8,503.0 L1671.1,504.5 L1671.3,505.9 L1671.5,507.4 L1671.8,508.9 L1672.0,510.4 L1672.2,511.9 L1672.5,513.4 L1672.7,514.9 L1673.0,516.3 L1673.2,517.8 L1673.4,519.3 L1673.7,520.8 L1673.9,522.3 L1674.2,523.7 L1674.4,525.2 L1674.7,526.7 L1674.9,528.2 L1675.2,529.7 L1675.4,531.2 L1675.7,532.6 L1675.9,534.1 L1676.2,535.6 L1676.5,537.1 L1676.7,538.6 L1677.0,540.0 L1677.2,541.5 L1677.5,543.0 L1677.7,544.5 L1678.0,546.0 L1678.2,547.4 L1678.4,548.9 L1678.7,550.4 L1678.9,551.9 L1679.2,553.4 L1679.4,554.9 L1679.6,556.3 L1679.8,557.8 L1680.1,559.3 L1680.3,560.8 L1680.5,562.3 L1680.7,563.8 L1680.9,565.3 L1681.1,566.8 L1681.3,568.2 L1681.5,569.7 L1681.7,571.2 L1681.9,572.7 L1682.1,574.2 L1682.3,575.7 L1682.5,577.2 L1682.7,578.7 L1682.9,580.1 L1683.1,581.6 L1683.4,583.1 L1683.6,584.6 L1683.8,586.1 L1684.0,587.6 L1684.2,589.1 L1684.4,590.6 L1684.6,592.1 L1684.8,593.5 L1685.0,595.0 L1685.2,596.5 L1685.4,598.0 L1685.6,599.5 L1685.8,601.0 L1686.0,602.5 L1686.2,604.0 L1686.4,605.5 L1686.6,606.9 L1686.8,608.4 L1687.0,609.9 L1687.2,611.4 L1687.4,612.9 L1687.6,614.4 L1687.9,615.9 L1688.1,617.4 L1688.3,618.8 L1688.5,620.3 L1688.7,621.8 L1688.9,623.3 L1689.1,624.8 L1689.4,626.3 L1689.6,627.8 L1689.8,629.3 L1690.0,630.7 L1690.2,632.2 L1690.5,633.7 L1690.7,635.2 L1690.9,636.7 L1691.1,638.2 L1691.3,639.7 L1691.6,641.1 L1691.8,642.6 L1692.0,644.1 L1692.2,645.6 L1692.4,647.1 L1692.6,648.6 L1692.8,650.1 L1693.0,651.6 L1693.2,653.0 L1693.4,654.5 L1693.6,656.0 L1693.8,657.5 L1693.9,659.0 L1694.1,660.5 L1694.3,662.0 L1694.5,663.5 L1694.7,665.0 L1694.8,666.5 L1695.0,668.0 L1695.2,669.5 L1695.3,670.9 L1695.5,672.4 L1695.7,673.9 L1695.8,675.4 L1696.0,676.9 L1696.2,678.4 L1696.3,679.9 L1696.5,681.4 L1696.7,682.9 L1696.9,684.4 L1697.0,685.9 L1697.2,687.4 L1697.4,688.9 L1697.6,690.3 L1697.7,691.8 L1697.9,693.3 L1698.1,694.8 L1698.3,696.3 L1698.5,697.8 L1698.6,699.3 L1698.8,700.8 L1699.0,702.3 L1699.2,703.8 L1699.4,705.3 L1699.6,706.8 L1699.7,708.2 L1699.9,709.7 L1700.1,711.2 L1700.3,712.7 L1700.5,714.2 L1700.7,715.7 L1700.9,717.2 L1701.1,718.7 L1701.3,720.2 L1701.5,721.7 L1701.7,723.1 L1701.9,724.6 L1702.1,726.1 L1702.3,727.6 L1702.5,729.1 L1702.7,730.6 L1702.9,732.1 L1703.1,733.6 L1703.3,735.1 L1703.5,736.5 L1703.7,738.0 L1703.9,739.5 L1704.1,741.0 L1704.3,742.5 L1704.5,744.0 L1704.7,745.5 L1704.9,747.0 L1705.1,748.5 L1705.3,749.9 L1705.5,751.4 L1705.6,752.9 L1705.8,754.4 L1706.0,755.9 L1706.2,757.4 L1706.3,758.9 L1706.5,760.4 L1706.7,761.9 L1706.8,763.4 L1707.0,764.9 L1707.2,766.4 L1707.3,767.9 L1707.5,769.3 L1707.6,770.8 L1707.8,772.3 L1707.9,773.8 L1708.1,775.3 L1708.3,776.8 L1708.4,778.3 L1708.6,779.8 L1708.7,781.3 L1708.9,782.8 L1709.0,784.3 L1709.2,785.8 L1709.4,787.3 L1709.5,788.8 L1709.7,790.3 L1709.8,791.8 L1710.0,793.3 L1710.2,794.7 L1710.3,796.2 L1710.5,797.7 L1710.6,799.2 L1710.8,800.7 L1711.0,802.2 L1711.1,803.7 L1711.3,805.2 L1711.4,806.7 L1711.6,808.2 L1711.8,809.7 L1711.9,811.2 L1712.1,812.7 L1712.3,814.2 L1712.5,815.7 L1712.6,817.1 L1712.8,818.6 L1713.0,820.1 L1713.2,821.6 L1713.4,823.1 L1713.6,824.6 L1713.8,826.1 L1714.0,827.6 L1714.2,829.1 L1714.4,830.6 L1714.6,832.0 L1714.8,833.5 L1715.0,835.0 L1715.2,836.5 L1715.4,838.0 L1715.6,839.5 L1715.8,841.0 L1716.0,842.5 L1716.2,844.0 L1716.4,845.4 L1716.5,846.9 L1716.7,848.4 L1716.9,849.9 L1717.1,851.4 L1717.3,852.9 L1717.5,854.4 L1717.6,855.9 L1717.8,857.4 L1718.0,858.9 L1718.1,860.4 L1718.3,861.9 L1718.5,863.3 L1718.6,864.8 L1718.8,866.3 L1718.9,867.8 L1719.1,869.3 L1719.2,870.8 L1719.4,872.3 L1719.5,873.8 L1719.7,875.3 L1719.8,876.8 L1719.9,878.3 L1720.1,879.8 L1720.2,881.3 L1720.4,882.8 L1720.5,884.3 L1720.6,885.8 L1720.8,887.3 L1720.9,888.8 L1721.0,890.3 L1721.2,891.8 L1721.3,893.3 L1721.4,894.8 L1721.6,896.3 L1721.7,897.8 L1721.9,899.3 L1722.0,900.8 L1722.1,902.3 L1722.3,903.7 L1722.4,905.2 L1722.6,906.7 L1722.7,908.2 L1722.9,909.7 L1723.0,911.2 L1723.1,912.7 L1723.3,914.2 L1723.4,915.7 L1723.6,917.2 L1723.8,918.7 L1723.9,920.2 L1724.1,921.7 L1724.2,923.2 L1724.4,924.7 L1724.6,926.2 L1724.8,927.7 L1724.9,929.1 L1725.1,930.6 L1725.3,932.1 L1725.5,933.6 L1725.7,935.1 L1725.9,936.6 L1726.1,938.1 L1726.3,939.6 L1726.5,941.1 L1726.7,942.5 L1726.9,944.0 L1727.1,945.5 L1727.3,947.0 L1727.5,948.5 L1727.7,950.0 L1727.9,951.5 L1728.0,953.0 L1728.2,954.4 L1728.4,955.9 L1728.6,957.4 L1728.7,958.9 L1728.9,960.4 L1729.0,961.9 L1729.2,963.4 L1729.3,964.9 L1729.5,966.4 L1729.6,967.9 L1729.8,969.4 L1729.9,970.9 L1730.0,972.4 L1730.2,973.9 L1730.3,975.4 L1730.4,976.9 L1730.6,978.4 L1730.7,979.9 L1730.9,981.4 L1731.0,982.9 L1731.2,984.3 L1731.3,985.8 L1731.5,987.3 L1731.6,988.8 L1731.8,990.3 L1731.9,991.8 L1732.1,993.3 L1732.3,994.8 L1732.5,996.3 L1732.6,997.8 L1732.8,999.3 L1733.0,1000.8 L1733.2,1002.3 L1733.3,1003.8 L1733.5,1005.2 L1733.7,1006.7 L1733.9,1008.2 L1734.0,1009.7 L1734.2,1011.2 L1734.4,1012.7 L1734.6,1014.2 L1734.7,1015.7 L1734.9,1017.2 L1735.1,1018.7 L1735.2,1020.2 L1735.4,1021.7 L1735.5,1023.2 L1735.7,1024.7 L1735.9,1026.1 L1736.0,1027.6 L1736.2,1029.1 L1736.3,1030.6 L1736.5,1032.1 L1736.6,1033.6 L1736.7,1035.1 L1736.9,1036.6 L1737.0,1038.1 L1737.2,1039.6 L1737.3,1041.1 L1737.5,1042.6 L1737.6,1044.1 L1737.8,1045.6 L1737.9,1047.1 L1738.0,1048.6 L1738.2,1050.1 L1738.3,1051.6 L1738.5,1053.1 L1738.6,1054.6 L1738.8,1056.1 L1738.9,1057.5 L1739.1,1059.0 L1739.2,1060.5 L1739.4,1062.0 L1739.6,1063.5 L1739.7,1065.0 L1739.9,1066.5 L1740.0,1068.0 L1740.2,1069.5 L1740.3,1071.0 L1740.5,1072.5 L1740.6,1074.0 L1740.8,1075.5 L1741.0,1077.0 L1741.1,1078.5 L1741.3,1080.0 L1741.4,1081.5 L1741.6,1082.9 L1741.7,1084.4 L1741.9,1085.9 L1742.0,1087.4 L1742.2,1088.9 L1742.3,1090.4 L1742.5,1091.9 L1742.6,1093.4 L1742.8,1094.9 L1742.9,1096.4 L1743.1,1097.9 L1743.2,1099.4 L1743.4,1100.9 L1743.5,1102.4 L1743.7,1103.9 L1743.8,1105.4 L1744.0,1106.9 L1744.1,1108.4 L1744.3,1109.9 L1744.4,1111.4 L1744.6,1112.8 L1744.8,1114.3 L1744.9,1115.8 L1745.1,1117.3 L1745.3,1118.8 L1745.5,1120.3 L1745.6,1121.8 L1745.8,1123.3 L1746.0,1124.8 L1746.2,1126.3 L1746.4,1127.8 L1746.6,1129.2 L1746.8,1130.7 L1747.0,1132.2 L1747.2,1133.7 L1747.4,1135.2 L1747.6,1136.7 L1747.8,1138.2 L1748.1,1139.7 L1748.3,1141.1 L1748.5,1142.6 L1748.7,1144.1 L1748.9,1145.6 L1749.1,1147.1 L1749.3,1148.6 L1749.5,1150.1 L1749.7,1151.6 L1750.0,1153.1 L1750.2,1154.5 L1750.4,1156.0 L1750.6,1157.5 L1750.8,1159.0 L1751.0,1160.5 L1751.2,1162.0 L1751.5,1163.5 L1751.7,1165.0 L1751.9,1166.4 L1752.2,1167.9 L1752.5,1169.4 L1752.7,1170.9 L1753.0,1172.3 L1753.3,1173.8 L1753.6,1175.3 L1754.0,1176.7 L1754.3,1178.2 L1754.6,1179.6 L1755.0,1181.1 L1755.3,1182.5 L1755.7,1184.0 L1756.1,1182.5 L1756.4,1181.1 L1756.8,1179.6 L1757.1,1178.2 L1757.5,1176.7 L1757.8,1175.3 L1758.2,1173.8 L1758.5,1172.3 L1758.8,1170.9 L1759.1,1169.4 L1759.4,1167.9 L1759.7,1166.4 L1759.9,1165.0 L1760.2,1163.5 L1760.4,1162.0 L1760.7,1160.5 L1760.9,1159.0 L1761.2,1157.6 L1761.4,1156.1 L1761.6,1154.6 L1761.8,1153.1 L1762.1,1151.6 L1762.3,1150.1 L1762.5,1148.6 L1762.7,1147.1 L1762.9,1145.7 L1763.1,1144.2 L1763.3,1142.7 L1763.5,1141.2 L1763.7,1139.7 L1763.9,1138.2 L1764.0,1136.7 L1764.2,1135.2 L1764.4,1133.7 L1764.6,1132.2 L1764.8,1130.7 L1765.0,1129.3 L1765.2,1127.8 L1765.3,1126.3 L1765.5,1124.8 L1765.7,1123.3 L1765.9,1121.8 L1766.1,1120.3 L1766.3,1118.8 L1766.5,1117.3 L1766.6,1115.8 L1766.8,1114.3 L1767.0,1112.9 L1767.2,1111.4 L1767.4,1109.9 L1767.6,1108.4 L1767.8,1106.9 L1768.0,1105.4 L1768.2,1103.9 L1768.4,1102.4 L1768.5,1100.9 L1768.7,1099.4 L1768.9,1098.0 L1769.1,1096.5 L1769.3,1095.0 L1769.5,1093.5 L1769.7,1092.0 L1769.9,1090.5 L1770.1,1089.0 L1770.3,1087.5 L1770.5,1086.0 L1770.7,1084.5 L1770.8,1083.0 L1771.0,1081.6 L1771.2,1080.1 L1771.4,1078.6 L1771.6,1077.1 L1771.8,1075.6 L1772.0,1074.1 L1772.2,1072.6 L1772.4,1071.1 L1772.6,1069.6 L1772.8,1068.1 L1772.9,1066.7 L1773.1,1065.2 L1773.3,1063.7 L1773.5,1062.2 L1773.7,1060.7 L1773.9,1059.2 L1774.1,1057.7 L1774.3,1056.2 L1774.5,1054.7 L1774.6,1053.2 L1774.8,1051.7 L1775.0,1050.3 L1775.2,1048.8 L1775.4,1047.3 L1775.5,1045.8 L1775.7,1044.3 L1775.9,1042.8 L1776.1,1041.3 L1776.3,1039.8 L1776.4,1038.3 L1776.6,1036.8 L1776.8,1035.3 L1777.0,1033.8 L1777.2,1032.4 L1777.4,1030.9 L1777.5,1029.4 L1777.7,1027.9 L1777.9,1026.4 L1778.1,1024.9 L1778.3,1023.4 L1778.5,1021.9 L1778.7,1020.4 L1778.9,1018.9 L1779.1,1017.5 L1779.3,1016.0 L1779.5,1014.5 L1779.7,1013.0 L1779.9,1011.5 L1780.1,1010.0 L1780.3,1008.5 L1780.6,1007.0 L1780.8,1005.6 L1781.0,1004.1 L1781.2,1002.6 L1781.4,1001.1 L1781.6,999.6 L1781.8,998.1 L1782.0,996.6 L1782.2,995.1 L1782.5,993.7 L1782.7,992.2 L1782.9,990.7 L1783.1,989.2 L1783.3,987.7 L1783.5,986.2 L1783.6,984.7 L1783.8,983.2 L1784.0,981.7 L1784.2,980.2 L1784.4,978.8 L1784.6,977.3 L1784.8,975.8 L1785.0,974.3 L1785.1,972.8 L1785.3,971.3 L1785.5,969.8 L1785.7,968.3 L1785.9,966.8 L1786.1,965.3 L1786.3,963.8 L1786.4,962.3 L1786.6,960.9 L1786.8,959.4 L1787.0,957.9 L1787.3,956.4 L1787.5,954.9 L1787.7,953.4 L1787.9,951.9 L1788.1,950.4 L1788.3,949.0 L1788.6,947.5 L1788.8,946.0 L1789.0,944.5 L1789.3,943.0 L1789.5,941.5 L1789.8,940.1 L1790.0,938.6 L1790.2,937.1 L1790.5,935.6 L1790.7,934.1 L1790.9,932.6 L1791.2,931.2 L1791.4,929.7 L1791.6,928.2 L1791.9,926.7 L1792.1,925.2 L1792.3,923.7 L1792.5,922.3 L1792.8,920.8 L1793.0,919.3 L1793.2,917.8 L1793.4,916.3 L1793.6,914.8 L1793.9,913.3 L1794.1,911.8 L1794.3,910.4 L1794.5,908.9 L1794.7,907.4 L1794.9,905.9 L1795.2,904.4 L1795.4,902.9 L1795.6,901.4 L1795.8,899.9 L1796.0,898.5 L1796.2,897.0 L1796.4,895.5 L1796.7,894.0 L1796.9,892.5 L1797.1,891.0 L1797.3,889.5 L1797.5,888.0 L1797.7,886.6 L1797.9,885.1 L1798.2,883.6 L1798.4,882.1 L1798.6,880.6 L1798.8,879.1 L1799.0,877.6 L1799.2,876.2 L1799.5,874.7 L1799.7,873.2 L1799.9,871.7 L1800.1,870.2 L1800.4,868.7 L1800.6,867.2 L1800.8,865.8 L1801.0,864.3 L1801.3,862.8 L1801.5,861.3 L1801.7,859.8 L1802.0,858.3 L1802.2,856.8 L1802.4,855.4 L1802.7,853.9 L1802.9,852.4 L1803.2,850.9 L1803.4,849.4 L1803.7,848.0 L1803.9,846.5 L1804.2,845.0 L1804.4,843.5 L1804.7,842.0 L1804.9,840.5 L1805.2,839.1 L1805.4,837.6 L1805.7,836.1 L1805.9,834.6 L1806.2,833.1 L1806.5,831.7 L1806.7,830.2 L1807.0,828.7 L1807.2,827.2 L1807.5,825.7 L1807.7,824.3 L1808.0,822.8 L1808.2,821.3 L1808.5,819.8 L1808.8,818.3 L1809.0,816.9 L1809.3,815.4 L1809.5,813.9 L1809.8,812.4 L1810.0,810.9 L1810.3,809.4 L1810.5,808.0 L1810.8,806.5 L1811.0,805.0 L1811.3,803.5 L1811.5,802.0 L1811.8,800.6 L1812.0,799.1 L1812.3,797.6 L1812.5,796.1 L1812.7,794.6 L1813.0,793.1 L1813.2,791.7 L1813.5,790.2 L1813.7,788.7 L1814.0,787.2 L1814.2,785.7 L1814.5,784.3 L1814.7,782.8 L1815.0,781.3 L1815.2,779.8 L1815.5,778.3 L1815.7,776.8 L1815.9,775.4 L1816.2,773.9 L1816.4,772.4 L1816.7,770.9 L1816.9,769.4 L1817.2,767.9 L1817.4,766.5 L1817.7,765.0 L1818.0,763.5 L1818.2,762.0 L1818.5,760.5 L1818.8,759.1 L1819.0,757.6 L1819.3,756.1 L1819.6,754.6 L1819.9,753.2 L1820.2,751.7 L1820.4,750.2 L1820.7,748.7 L1821.0,747.3 L1821.3,745.8 L1821.6,744.3 L1821.9,742.9 L1822.2,741.4 L1822.6,739.9 L1822.9,738.4 L1823.2,737.0 L1823.5,735.5 L1823.8,734.0 L1824.1,732.6 L1824.4,731.1 L1824.8,729.6 L1825.1,728.2 L1825.4,726.7 L1825.7,725.2 L1826.0,723.8 L1826.3,722.3 L1826.7,720.8 L1827.0,719.3 L1827.3,717.9 L1827.6,716.4 L1827.9,714.9 L1828.2,713.5 L1828.5,712.0 L1828.9,710.5 L1829.2,709.1 L1829.5,707.6 L1829.8,706.1 L1830.2,704.7 L1830.5,703.2 L1830.8,701.7 L1831.1,700.3 L1831.5,698.8 L1831.8,697.3 L1832.1,695.9 L1832.5,694.4 L1832.8,692.9 L1833.2,691.5 L1833.5,690.0 L1833.9,688.6 L1834.2,687.1 L1834.6,685.6 L1834.9,684.2 L1835.3,682.7 L1835.7,681.3 L1836.0,679.8 L1836.4,678.4 L1836.8,676.9 L1837.2,675.4 L1837.5,674.0 L1837.9,672.5 L1838.3,671.1 L1838.7,669.6 L1839.1,668.2 L1839.5,666.7 L1839.9,665.3 L1840.3,663.9 L1840.7,662.4 L1841.2,661.0 L1841.6,659.5 L1842.0,658.1 L1842.4,656.6 L1842.8,655.2 L1843.2,653.7 L1843.6,652.3 L1844.0,650.8 L1844.5,649.4 L1844.9,648.0 L1845.3,646.5 L1845.7,645.1 L1846.1,643.6 L1846.5,642.2 L1846.9,640.7 L1847.3,639.3 L1847.7,637.8 L1848.2,636.4 L1848.6,634.9 L1849.0,633.5 L1849.4,632.1 L1849.8,630.6 L1850.2,629.2 L1850.6,627.7 L1851.1,626.3 L1851.5,624.8 L1851.9,623.4 L1852.3,622.0 L1852.7,620.5 L1853.2,619.1 L1853.6,617.6 L1854.0,616.2 L1854.5,614.8 L1854.9,613.3 L1855.4,611.9 L1855.8,610.5 L1856.3,609.0 L1856.7,607.6 L1857.2,606.2 L1857.7,604.7 L1858.1,603.3 L1858.6,601.9 L1859.1,600.5 L1859.5,599.0 L1860.0,597.6 L1860.5,596.2 L1861.0,594.8 L1861.4,593.3 L1861.9,591.9 L1862.4,590.5 L1862.9,589.0 L1863.4,587.6 L1863.8,586.2 L1864.3,584.8 L1864.8,583.3 L1865.3,581.9 L1865.7,580.5 L1866.2,579.0 L1866.7,577.6 L1867.2,576.2 L1867.6,574.8 L1868.1,573.3 L1868.6,571.9 L1869.1,570.5 L1869.6,569.1 L1870.0,567.6 L1870.5,566.2 L1871.0,564.8 L1871.6,563.4 L1872.1,562.0 L1872.6,560.6 L1873.1,559.2 L1873.6,557.8 L1874.2,556.4 L1874.7,555.0 L1875.3,553.6 L1875.9,552.2 L1876.5,550.8 L1877.0,549.5 L1877.6,548.1 L1878.2,546.7 L1878.9,545.4 L1879.5,544.0 L1880.1,542.6 L1880.8,541.3 L1881.4,539.9 L1882.1,538.6 L1882.8,537.3 L1883.5,535.9 L1884.2,534.6 L1884.9,533.3 L1885.6,531.9 L1886.3,530.6 L1887.0,529.3 L1887.7,528.0 L1888.5,526.7 L1889.2,525.3 L1890.0,524.0 L1890.7,522.7 L1891.5,521.4 L1892.3,520.1 L1893.1,518.9 L1893.8,517.6 L1894.6,516.3 L1895.4,515.0 L1896.2,513.7 L1897.0,512.5 L1897.8,511.2 L1898.7,510.0 L1899.5,508.7 L1900.3,507.4 L1901.2,506.2 L1902.0,505.0 L1902.9,503.7 L1903.7,502.5 L1904.6,501.3 L1905.5,500.0 L1906.4,498.8 L1907.2,497.6 L1908.1,496.4 L1909.0,495.1 L1909.9,493.9 L1910.8,492.7 L1911.7,491.5 L1912.6,490.3 L1913.5,489.0 L1914.4,487.8 L1915.4,486.6 L1916.3,485.4 L1917.2,484.2 L1918.1,483.0 L1919.1,481.8 L1920.0,480.7 L1921.0,479.5 L1921.9,478.3 L1922.9,477.2 L1923.9,476.1 L1924.9,475.0 L1925.9,473.9 L1926.9,472.8 L1927.9,471.7 L1929.0,470.6 L1930.1,469.6 L1931.1,468.6 L1932.2,467.6 L1933.3,466.6 L1934.5,465.6 L1935.6,464.6 L1936.8,463.6 L1937.9,462.7 L1939.1,461.8 L1940.3,460.8 L1941.6,460.0 L1942.8,459.1 L1944.1,458.2 L1945.3,457.4 L1946.6,456.6 L1947.9,455.8 L1949.2,455.0 L1950.5,454.3 L1951.8,453.6 L1953.2,453.0 L1954.5,452.3 L1955.9,451.7 L1957.2,451.2 L1958.6,450.6 L1960.0,450.1 L1961.4,449.7 L1962.8,449.2 L1964.2,448.8 L1965.7,448.4 L1967.1,448.0 L1968.6,447.7 L1970.0,447.4 L1971.5,447.1 L1973.0,446.8 L1974.4,446.5 L1975.9,446.3 L1977.4,446.1 L1978.9,445.9 L1980.4,445.8 L1981.9,445.6 L1983.4,445.5 L1984.8,445.5 L1986.3,445.4 L1987.8,445.4 L1989.3,445.5 L1990.8,445.6 L1992.2,445.7 L1993.7,445.9 L1995.1,446.1 L1996.6,446.3 L1998.1,446.6 L1999.5,447.0 L2000.9,447.4 L2002.4,447.8 L2003.8,448.2 L2005.2,448.8 L2006.6,449.3 L2008.0,449.9 L2009.4,450.5 L2010.8,451.1 L2012.2,451.7 L2013.5,452.4 L2014.9,453.1 L2016.2,453.8 L2017.5,454.6 L2018.8,455.3 L2020.1,456.1 L2021.4,456.9 L2022.6,457.7 L2023.9,458.5 L2025.1,459.4 L2026.3,460.2 L2027.5,461.1 L2028.7,462.0 L2029.8,462.9 L2031.0,463.9 L2032.2,464.8 L2033.3,465.8 L2034.4,466.8 L2035.5,467.8 L2036.6,468.9 L2037.7,469.9 L2038.8,471.0 L2039.9,472.1 L2040.9,473.1 L2042.0,474.2 L2043.0,475.3 L2044.1,476.5 L2045.1,477.6 L2046.1,478.7 L2047.1,479.8 L2048.1,481.0 L2049.1,482.1 L2050.1,483.2 L2051.1,484.4 L2052.0,485.6 L2053.0,486.7 L2053.9,487.9 L2054.9,489.1 L2055.8,490.3 L2056.7,491.5 L2057.6,492.7 L2058.5,493.9 L2059.4,495.1 L2060.2,496.3 L2061.1,497.6 L2061.9,498.8 L2062.7,500.1 L2063.5,501.3 L2064.3,502.6 L2065.1,503.9 L2065.8,505.2 L2066.6,506.5 L2067.3,507.8 L2068.0,509.1 L2068.7,510.4 L2069.4,511.7 L2070.0,513.1 L2070.7,514.4 L2071.3,515.8 L2072.0,517.1 L2072.6,518.5 L2073.2,519.9 L2073.8,521.3 L2074.4,522.6 L2075.0,524.0 L2075.6,525.4 L2076.1,526.8 L2076.7,528.2 L2077.3,529.6 L2077.9,531.0 L2078.4,532.4 L2079.0,533.8 L2079.5,535.2 L2080.1,536.6 L2080.6,538.0 L2081.2,539.4 L2081.7,540.8 L2082.3,542.2 L2082.8,543.6 L2083.4,545.0 L2083.9,546.4 L2084.4,547.8 L2085.0,549.2 L2085.5,550.6 L2086.0,552.0 L2086.5,553.4 L2087.1,554.9 L2087.6,556.3 L2088.1,557.7 L2088.6,559.1 L2089.1,560.5 L2089.6,561.9 L2090.1,563.3 L2090.6,564.8 L2091.1,566.2 L2091.6,567.6 L2092.1,569.0 L2092.6,570.4 L2093.1,571.9 L2093.5,573.3 L2094.0,574.7 L2094.5,576.1 L2095.0,577.6 L2095.4,579.0 L2095.9,580.4 L2096.4,581.9 L2096.8,583.3 L2097.3,584.7 L2097.7,586.1 L2098.2,587.6 L2098.6,589.0 L2099.1,590.5 L2099.5,591.9 L2099.9,593.3 L2100.4,594.8 L2100.8,596.2 L2101.2,597.6 L2101.6,599.1 L2102.1,600.5 L2102.5,602.0 L2102.9,603.4 L2103.3,604.9 L2103.7,606.3 L2104.1,607.8 L2104.5,609.2 L2104.9,610.7 L2105.3,612.1 L2105.7,613.6 L2106.1,615.0 L2106.4,616.5 L2106.8,617.9 L2107.2,619.4 L2107.5,620.9 L2107.9,622.3 L2108.2,623.8 L2108.5,625.2 L2108.9,626.7 L2109.2,628.2 L2109.5,629.6 L2109.8,631.1 L2110.1,632.6 L2110.4,634.1 L2110.7,635.5 L2110.9,637.0 L2111.2,638.5 L2111.5,640.0 L2111.7,641.4 L2112.0,642.9 L2112.2,644.4 L2112.5,645.9 L2112.7,647.4 L2112.9,648.8 L2113.2,650.3 L2113.4,651.8 L2113.6,653.3 L2113.8,654.8 L2114.0,656.3 L2114.2,657.8 L2114.4,659.3 L2114.6,660.8 L2114.8,662.3 L2115.0,663.8" stroke="#8ECF4B" stroke-width="8.3" stroke-dasharray="27.9 35.7 1.1 35.7"/>
<path d="M425.8,543.0 L426.4,541.6 L427.0,540.3 L427.6,538.9 L428.2,537.5 L428.9,536.1 L429.5,534.8 L430.1,533.4 L430.7,532.0 L431.3,530.7 L432.0,529.3 L432.6,527.9 L433.2,526.6 L433.8,525.2 L434.5,523.8 L435.1,522.5 L435.8,521.1 L436.4,519.8 L437.1,518.4 L437.7,517.1 L438.4,515.7 L439.0,514.4 L439.7,513.0 L440.4,511.7 L441.1,510.3 L441.7,509.0 L442.4,507.7 L443.1,506.3 L443.8,505.0 L444.5,503.7 L445.2,502.3 L445.9,501.0 L446.7,499.7 L447.4,498.4 L448.1,497.1 L448.9,495.8 L449.6,494.5 L450.4,493.2 L451.1,491.9 L451.9,490.6 L452.7,489.3 L453.5,488.0 L454.3,486.7 L455.1,485.5 L455.9,484.2 L456.7,482.9 L457.5,481.7 L458.3,480.4 L459.2,479.2 L460.0,478.0 L460.9,476.7 L461.7,475.5 L462.6,474.3 L463.5,473.0 L464.4,471.8 L465.2,470.6 L466.1,469.4 L467.1,468.2 L468.0,467.0 L468.9,465.9 L469.9,464.7 L470.8,463.5 L471.8,462.4 L472.7,461.2 L473.7,460.1 L474.7,459.0 L475.7,457.9 L476.8,456.8 L477.8,455.7 L478.9,454.6 L479.9,453.6 L481.0,452.5 L482.1,451.5 L483.2,450.5 L484.3,449.5 L485.5,448.5 L486.6,447.6 L487.8,446.6 L489.0,445.7 L490.2,444.8 L491.4,444.0 L492.6,443.1 L493.9,442.3 L495.1,441.5 L496.4,440.8 L497.7,440.1 L499.0,439.3 L500.3,438.7 L501.7,438.0 L503.0,437.4 L504.4,436.8 L505.8,436.3 L507.2,435.8 L508.6,435.3 L510.0,434.9 L511.4,434.5 L512.9,434.1 L514.3,433.8 L515.7,433.6 L517.2,433.4 L518.6,433.2 L520.1,433.1 L521.6,433.0 L523.0,433.0 L524.5,433.1 L525.9,433.2 L527.4,433.4 L528.8,433.6 L530.3,433.9 L531.7,434.2 L533.1,434.5 L534.5,435.0 L535.9,435.4 L537.3,435.9 L538.7,436.5 L540.1,437.1 L541.4,437.7 L542.7,438.3 L544.0,439.0 L545.3,439.8 L546.6,440.5 L547.8,441.3 L549.1,442.2 L550.3,443.0 L551.5,443.9 L552.6,444.9 L553.8,445.8 L554.9,446.8 L556.0,447.8 L557.1,448.8 L558.2,449.8 L559.2,450.9 L560.2,452.0 L561.2,453.1 L562.2,454.2 L563.2,455.4 L564.2,456.5 L565.1,457.7 L566.1,458.8 L567.0,460.0 L567.9,461.2 L568.8,462.5 L569.6,463.7 L570.5,464.9 L571.3,466.1 L572.2,467.4 L573.0,468.7 L573.8,469.9 L574.6,471.2 L575.4,472.5 L576.1,473.8 L576.9,475.1 L577.6,476.4 L578.4,477.7 L579.1,479.0 L579.8,480.3 L580.5,481.6 L581.2,483.0 L581.8,484.3 L582.5,485.7 L583.1,487.0 L583.8,488.4 L584.4,489.8 L585.0,491.1 L585.6,492.5 L586.2,493.9 L586.7,495.3 L587.3,496.7 L587.9,498.1 L588.4,499.5 L589.0,500.9 L589.5,502.3 L590.0,503.7 L590.6,505.1 L591.1,506.5 L591.6,507.9 L592.1,509.3 L592.7,510.7 L593.2,512.1 L593.7,513.5 L594.2,514.9 L594.7,516.4 L595.2,517.8 L595.7,519.2 L596.2,520.6 L596.7,522.0 L597.2,523.5 L597.7,524.9 L598.2,526.3 L598.6,527.7 L599.1,529.1 L599.6,530.6 L600.1,532.0 L600.5,533.4 L601.0,534.9 L601.4,536.3 L601.9,537.7 L602.3,539.2 L602.8,540.6 L603.2,542.0 L603.7,543.5 L604.1,544.9 L604.5,546.3 L604.9,547.8 L605.3,549.2 L605.7,550.7 L606.1,552.1 L606.5,553.6 L606.9,555.0 L607.3,556.5 L607.7,557.9 L608.1,559.4 L608.5,560.8 L608.9,562.3 L609.2,563.7 L609.6,565.2 L610.0,566.7 L610.3,568.1 L610.7,569.6 L611.0,571.0 L611.4,572.5 L611.7,574.0 L612.0,575.4 L612.4,576.9 L612.7,578.4 L613.0,579.8 L613.4,581.3 L613.7,582.8 L614.0,584.2 L614.4,585.7 L614.7,587.1 L615.0,588.6 L615.4,590.1 L615.7,591.5 L616.0,593.0 L616.4,594.5 L616.7,595.9 L617.0,597.4 L617.4,598.9 L617.7,600.3 L618.0,601.8 L618.4,603.3 L618.7,604.7 L619.0,606.2 L619.3,607.7 L619.6,609.1 L620.0,610.6 L620.3,612.1 L620.6,613.6 L620.9,615.0 L621.2,616.5 L621.5,618.0 L621.8,619.4 L622.0,620.9 L622.3,622.4 L622.6,623.9 L622.9,625.3 L623.2,626.8 L623.5,628.3 L623.8,629.8 L624.0,631.2 L624.3,632.7 L624.6,634.2 L624.9,635.7 L625.1,637.2 L625.4,638.6 L625.7,640.1 L625.9,641.6 L626.2,643.1 L626.5,644.5 L626.7,646.0 L627.0,647.5 L627.3,649.0 L627.5,650.5 L627.8,651.9 L628.0,653.4 L628.3,654.9 L628.5,656.4 L628.8,657.9 L629.0,659.4 L629.3,660.8 L629.5,662.3 L629.7,663.8 L629.9,665.3 L630.2,666.8 L630.4,668.3 L630.6,669.8 L630.8,671.2 L631.0,672.7 L631.2,674.2 L631.4,675.7 L631.6,677.2 L631.8,678.7 L632.0,680.2 L632.3,681.7 L632.5,683.1 L632.7,684.6 L632.9,686.1 L633.1,687.6 L633.3,689.1 L633.5,690.6 L633.7,692.1 L634.0,693.6 L634.2,695.0 L634.4,696.5 L634.6,698.0 L634.9,699.5 L635.1,701.0 L635.3,702.5 L635.5,704.0 L635.7,705.4 L636.0,706.9 L636.2,708.4 L636.4,709.9 L636.6,711.4 L636.8,712.9 L637.0,714.4 L637.2,715.9 L637.4,717.3 L637.6,718.8 L637.8,720.3 L638.0,721.8 L638.2,723.3 L638.4,724.8 L638.6,726.3 L638.8,727.8 L638.9,729.3 L639.1,730.8 L639.3,732.3 L639.5,733.7 L639.7,735.2 L639.9,736.7 L640.1,738.2 L640.3,739.7 L640.5,741.2 L640.7,742.7 L640.9,744.2 L641.1,745.7 L641.2,747.2 L641.4,748.6 L641.6,750.1 L641.8,751.6 L642.0,753.1 L642.2,754.6 L642.4,756.1 L642.6,757.6 L642.8,759.1 L643.0,760.6 L643.1,762.1 L643.3,763.6 L643.5,765.0 L643.7,766.5 L643.9,768.0 L644.1,769.5 L644.3,771.0 L644.5,772.5 L644.7,774.0 L644.8,775.5 L645.0,777.0 L645.2,778.5 L645.4,780.0 L645.6,781.4 L645.7,782.9 L645.9,784.4 L646.1,785.9 L646.3,787.4 L646.4,788.9 L646.6,790.4 L646.8,791.9 L646.9,793.4 L647.1,794.9 L647.2,796.4 L647.4,797.9 L647.5,799.4 L647.7,800.9 L647.8,802.4 L648.0,803.9 L648.1,805.3 L648.3,806.8 L648.4,808.3 L648.6,809.8 L648.7,811.3 L648.9,812.8 L649.1,814.3 L649.2,815.8 L649.4,817.3 L649.5,818.8 L649.7,820.3 L649.9,821.8 L650.0,823.3 L650.2,824.8 L650.4,826.3 L650.6,827.8 L650.7,829.2 L650.9,830.7 L651.1,832.2 L651.3,833.7 L651.5,835.2 L651.6,836.7 L651.8,838.2 L652.0,839.7 L652.1,841.2 L652.3,842.7 L652.5,844.2 L652.6,845.7 L652.8,847.2 L652.9,848.7 L653.1,850.1 L653.2,851.6 L653.3,853.1 L653.5,854.6 L653.6,856.1 L653.8,857.6 L653.9,859.1 L654.0,860.6 L654.2,862.1 L654.3,863.6 L654.4,865.1 L654.6,866.6 L654.7,868.1 L654.8,869.6 L655.0,871.1 L655.1,872.6 L655.2,874.1 L655.4,875.6 L655.5,877.1 L655.6,878.6 L655.8,880.1 L655.9,881.6 L656.1,883.1 L656.2,884.6 L656.3,886.1 L656.5,887.6 L656.6,889.1 L656.8,890.5 L656.9,892.0 L657.1,893.5 L657.2,895.0 L657.4,896.5 L657.6,898.0 L657.7,899.5 L657.9,901.0 L658.0,902.5 L658.2,904.0 L658.3,905.5 L658.4,907.0 L658.6,908.5 L658.7,910.0 L658.9,911.5 L659.0,913.0 L659.1,914.5 L659.3,916.0 L659.4,917.5 L659.5,919.0 L659.6,920.5 L659.8,922.0 L659.9,923.5 L660.0,925.0 L660.1,926.5 L660.2,928.0 L660.3,929.5 L660.4,931.0 L660.5,932.4 L660.6,933.9 L660.7,935.4 L660.8,936.9 L661.0,938.4 L661.1,939.9 L661.2,941.4 L661.3,942.9 L661.4,944.4 L661.5,945.9 L661.6,947.4 L661.7,948.9 L661.8,950.4 L662.0,951.9 L662.1,953.4 L662.2,954.9 L662.3,956.4 L662.4,957.9 L662.6,959.4 L662.7,960.9 L662.8,962.4 L662.9,963.9 L663.0,965.4 L663.2,966.9 L663.3,968.4 L663.4,969.9 L663.5,971.4 L663.6,972.9 L663.7,974.4 L663.9,975.9 L664.0,977.4 L664.1,978.9 L664.2,980.4 L664.3,981.9 L664.4,983.4 L664.5,984.9 L664.7,986.4 L664.8,987.9 L664.9,989.4 L665.0,990.9 L665.1,992.4 L665.3,993.9 L665.4,995.4 L665.5,996.9 L665.6,998.4 L665.7,999.9 L665.9,1001.4 L666.0,1002.9 L666.1,1004.4 L666.2,1005.9 L666.3,1007.4 L666.4,1008.9 L666.6,1010.4 L666.7,1011.8 L666.8,1013.3 L666.9,1014.8 L667.0,1016.3 L667.1,1017.8 L667.2,1019.3 L667.4,1020.8 L667.5,1022.3 L667.6,1023.8 L667.7,1025.3 L667.8,1026.8 L667.9,1028.3 L668.0,1029.8 L668.1,1031.3 L668.2,1032.8 L668.3,1034.3 L668.4,1035.8 L668.5,1037.3 L668.7,1038.8 L668.8,1040.3 L668.9,1041.8 L669.0,1043.3 L669.1,1044.8 L669.2,1046.3 L669.3,1047.8 L669.4,1049.3 L669.5,1050.8 L669.6,1052.3 L669.7,1053.8 L669.9,1055.3 L670.0,1056.8 L670.1,1058.3 L670.2,1059.8 L670.3,1061.3 L670.4,1062.8 L670.6,1064.3 L670.7,1065.8 L670.8,1067.3 L670.9,1068.8 L671.0,1070.3 L671.1,1071.8 L671.3,1073.3 L671.4,1074.8 L671.5,1076.3 L671.6,1077.8 L671.7,1079.3 L671.8,1080.8 L671.9,1082.3 L672.1,1083.8 L672.2,1085.3 L672.3,1086.8 L672.4,1088.3 L672.5,1089.8 L672.6,1091.3 L672.7,1092.8 L672.8,1094.3 L672.9,1095.8 L673.0,1097.3 L673.1,1098.8 L673.3,1100.3 L673.4,1101.8 L673.5,1103.3 L673.6,1104.8 L673.7,1106.3 L673.8,1107.8 L673.9,1109.3 L674.0,1110.8 L674.1,1112.3 L674.2,1113.8 L674.3,1115.3 L674.4,1116.8 L674.5,1118.2 L674.6,1119.7 L674.7,1121.2 L674.8,1122.7 L674.9,1124.2 L675.0,1125.7 L675.1,1127.2 L675.1,1128.7 L675.2,1130.2 L675.3,1131.7 L675.4,1133.2 L675.5,1134.7 L675.6,1136.2 L675.7,1137.7 L675.8,1139.2 L675.9,1140.7 L676.1,1142.2 L676.2,1143.7 L676.3,1145.2 L676.4,1146.7 L676.5,1148.2 L676.6,1149.7 L676.7,1151.2 L676.8,1152.7 L676.9,1154.2 L677.0,1155.7 L677.1,1157.2 L677.2,1158.7 L677.3,1160.2 L677.4,1161.7 L677.5,1163.2 L677.6,1164.7 L677.8,1166.2 L677.9,1167.7 L678.0,1169.2 L678.1,1170.7 L678.2,1172.2 L678.4,1173.7 L678.5,1175.2 L678.6,1176.7 L678.8,1178.2 L678.9,1179.7 L679.1,1181.2 L679.3,1182.7 L679.5,1184.2 L679.7,1185.6 L679.9,1187.1 L680.1,1188.6 L680.4,1190.1 L680.6,1191.6 L680.9,1193.0 L681.1,1194.5 L681.4,1196.0 L681.5,1194.5 L681.7,1193.0 L681.8,1191.5 L681.9,1190.0 L682.0,1188.5 L682.1,1187.0 L682.3,1185.5 L682.4,1184.0 L682.5,1182.5 L682.6,1181.0 L682.7,1179.5 L682.9,1178.0 L683.0,1176.5 L683.1,1175.0 L683.2,1173.5 L683.3,1172.0 L683.4,1170.5 L683.5,1169.0 L683.6,1167.5 L683.7,1166.0 L683.8,1164.5 L683.9,1163.1 L684.0,1161.6 L684.1,1160.1 L684.2,1158.6 L684.3,1157.1 L684.4,1155.6 L684.5,1154.1 L684.5,1152.6 L684.6,1151.1 L684.7,1149.6 L684.8,1148.1 L684.9,1146.6 L684.9,1145.1 L685.0,1143.6 L685.1,1142.1 L685.2,1140.6 L685.3,1139.1 L685.4,1137.6 L685.4,1136.1 L685.5,1134.6 L685.6,1133.1 L685.7,1131.6 L685.8,1130.1 L685.9,1128.6 L686.0,1127.1 L686.1,1125.6 L686.2,1124.1 L686.3,1122.6 L686.4,1121.1 L686.5,1119.6 L686.6,1118.1 L686.7,1116.6 L686.8,1115.1 L686.9,1113.6 L687.0,1112.1 L687.1,1110.6 L687.2,1109.1 L687.3,1107.6 L687.4,1106.1 L687.5,1104.6 L687.7,1103.1 L687.8,1101.6 L687.9,1100.1 L688.0,1098.6 L688.1,1097.1 L688.2,1095.6 L688.3,1094.1 L688.4,1092.6 L688.5,1091.1 L688.6,1089.6 L688.7,1088.1 L688.8,1086.6 L688.9,1085.1 L689.0,1083.6 L689.1,1082.1 L689.2,1080.6 L689.3,1079.1 L689.4,1077.6 L689.5,1076.1 L689.6,1074.6 L689.7,1073.1 L689.8,1071.6 L689.9,1070.1 L690.0,1068.6 L690.1,1067.1 L690.2,1065.6 L690.3,1064.1 L690.4,1062.6 L690.5,1061.1 L690.6,1059.6 L690.7,1058.1 L690.8,1056.6 L690.8,1055.1 L690.9,1053.6 L691.0,1052.1 L691.1,1050.6 L691.2,1049.1 L691.3,1047.6 L691.4,1046.1 L691.5,1044.6 L691.5,1043.1 L691.6,1041.6 L691.7,1040.1 L691.8,1038.6 L691.9,1037.1 L691.9,1035.6 L692.0,1034.1 L692.1,1032.6 L692.2,1031.1 L692.2,1029.6 L692.3,1028.1 L692.4,1026.6 L692.5,1025.1 L692.5,1023.6 L692.6,1022.1 L692.7,1020.6 L692.8,1019.1 L692.9,1017.6 L693.0,1016.1 L693.0,1014.6 L693.1,1013.1 L693.2,1011.6 L693.3,1010.1 L693.4,1008.6 L693.5,1007.1 L693.6,1005.6 L693.7,1004.1 L693.8,1002.6 L693.9,1001.1 L694.0,999.6 L694.1,998.1 L694.2,996.6 L694.3,995.1 L694.4,993.6 L694.5,992.1 L694.5,990.6 L694.6,989.1 L694.7,987.6 L694.8,986.1 L694.9,984.6 L695.0,983.1 L695.1,981.6 L695.2,980.1 L695.3,978.6 L695.3,977.1 L695.4,975.6 L695.5,974.1 L695.6,972.6 L695.7,971.1 L695.8,969.6 L695.9,968.1 L696.0,966.6 L696.1,965.1 L696.2,963.7 L696.3,962.2 L696.4,960.7 L696.5,959.2 L696.6,957.7 L696.7,956.2 L696.8,954.7 L696.9,953.2 L697.0,951.7 L697.1,950.2 L697.2,948.7 L697.3,947.2 L697.4,945.7 L697.4,944.2 L697.5,942.7 L697.6,941.2 L697.7,939.7 L697.8,938.2 L697.9,936.7 L698.0,935.2 L698.1,933.7 L698.2,932.2 L698.2,930.7 L698.3,929.2 L698.4,927.7 L698.5,926.2 L698.6,924.7 L698.7,923.2 L698.8,921.7 L698.9,920.2 L699.0,918.7 L699.1,917.2 L699.2,915.7 L699.2,914.2 L699.3,912.7 L699.4,911.2 L699.5,909.7 L699.6,908.2 L699.7,906.7 L699.8,905.2 L699.9,903.7 L700.0,902.2 L700.1,900.7 L700.2,899.2 L700.2,897.7 L700.3,896.2 L700.4,894.7 L700.5,893.2 L700.5,891.7 L700.6,890.2 L700.7,888.7 L700.8,887.2 L700.8,885.7 L700.9,884.2 L701.0,882.7 L701.1,881.2 L701.1,879.7 L701.2,878.2 L701.3,876.7 L701.4,875.2 L701.4,873.7 L701.5,872.2 L701.6,870.7 L701.7,869.2 L701.8,867.7 L701.8,866.2 L701.9,864.7 L702.0,863.2 L702.1,861.7 L702.2,860.2 L702.3,858.7 L702.4,857.2 L702.5,855.7 L702.6,854.2 L702.7,852.7 L702.8,851.2 L702.9,849.7 L703.0,848.2 L703.1,846.7 L703.2,845.2 L703.3,843.7 L703.4,842.2 L703.5,840.7 L703.6,839.2 L703.7,837.7 L703.8,836.2 L703.9,834.7 L703.9,833.2 L704.0,831.7 L704.1,830.2 L704.2,828.7 L704.3,827.2 L704.4,825.7 L704.5,824.2 L704.5,822.7 L704.6,821.2 L704.7,819.7 L704.8,818.2 L704.9,816.7 L704.9,815.2 L705.0,813.7 L705.1,812.2 L705.2,810.7 L705.2,809.2 L705.3,807.7 L705.4,806.2 L705.5,804.7 L705.5,803.2 L705.6,801.7 L705.7,800.2 L705.8,798.7 L705.9,797.2 L706.0,795.7 L706.0,794.2 L706.1,792.7 L706.2,791.2 L706.3,789.7 L706.4,788.2 L706.5,786.7 L706.6,785.2 L706.7,783.7 L706.8,782.2 L706.9,780.7 L707.1,779.2 L707.2,777.7 L707.3,776.2 L707.4,774.7 L707.5,773.2 L707.6,771.7 L707.7,770.2 L707.8,768.7 L707.9,767.2 L708.0,765.7 L708.1,764.2 L708.2,762.7 L708.3,761.2 L708.4,759.7 L708.5,758.2 L708.6,756.7 L708.7,755.2 L708.7,753.7 L708.8,752.2 L708.9,750.7 L709.0,749.2 L709.1,747.7 L709.2,746.2 L709.2,744.7 L709.3,743.2 L709.4,741.7 L709.5,740.2 L709.6,738.7 L709.7,737.2 L709.8,735.7 L709.9,734.2 L710.0,732.7 L710.1,731.2 L710.2,729.8 L710.2,728.3 L710.3,726.8 L710.5,725.3 L710.6,723.8 L710.7,722.3 L710.8,720.8 L710.9,719.3 L711.0,717.8 L711.1,716.3 L711.2,714.8 L711.3,713.3 L711.4,711.8 L711.5,710.3 L711.6,708.8 L711.7,707.3 L711.8,705.8 L711.9,704.3 L712.0,702.8 L712.1,701.3 L712.2,699.8 L712.3,698.3 L712.4,696.8 L712.6,695.3 L712.7,693.8 L712.8,692.3 L712.9,690.8 L713.0,689.3 L713.0,687.8 L713.1,686.3 L713.2,684.8 L713.3,683.3 L713.4,681.8 L713.5,680.3 L713.6,678.8 L713.7,677.3 L713.8,675.8 L713.9,674.3 L714.0,672.8 L714.1,671.3 L714.2,669.8 L714.3,668.3 L714.4,666.8 L714.5,665.3 L714.6,663.8 L714.7,662.3 L714.8,660.8 L714.9,659.3 L715.1,657.8 L715.2,656.3 L715.3,654.8 L715.4,653.3 L715.5,651.8 L715.6,650.3 L715.7,648.8 L715.8,647.3 L715.9,645.8 L716.0,644.3 L716.1,642.8 L716.2,641.3 L716.3,639.8 L716.4,638.3 L716.5,636.8 L716.6,635.3 L716.7,633.8 L716.8,632.3 L716.9,630.8 L717.0,629.3 L717.1,627.8 L717.2,626.3 L717.3,624.8 L717.4,623.3 L717.5,621.8 L717.6,620.4 L717.7,618.9 L717.8,617.4 L717.9,615.9 L718.0,614.4 L718.1,612.9 L718.2,611.4 L718.3,609.9 L718.4,608.4 L718.5,606.9 L718.6,605.4 L718.7,603.9 L718.8,602.4 L718.9,600.9 L719.0,599.4 L719.1,597.9 L719.2,596.4 L719.3,594.9 L719.4,593.4 L719.5,591.9 L719.7,590.4 L719.8,588.9 L719.9,587.4 L720.0,585.9 L720.1,584.4 L720.2,582.9 L720.3,581.4 L720.4,579.9 L720.5,578.4 L720.6,576.9 L720.8,575.4 L720.9,573.9 L721.0,572.4 L721.1,570.9 L721.2,569.4 L721.3,567.9 L721.5,566.4 L721.6,564.9 L721.7,563.4 L721.8,561.9 L721.9,560.4 L722.0,558.9 L722.1,557.4 L722.3,555.9 L722.4,554.4 L722.5,552.9 L722.6,551.4 L722.7,549.9 L722.8,548.4 L722.9,546.9 L723.0,545.4 L723.2,543.9 L723.3,542.4 L723.4,540.9 L723.5,539.4 L723.6,538.0 L723.7,536.5 L723.8,535.0 L723.9,533.5 L724.0,532.0 L724.1,530.5 L724.3,529.0 L724.4,527.5 L724.5,526.0 L724.6,524.5 L724.7,523.0 L724.8,521.5 L724.9,520.0 L725.1,518.5 L725.2,517.0 L725.3,515.5 L725.4,514.0 L725.5,512.5 L725.7,511.0 L725.8,509.5 L725.9,508.0 L726.1,506.5 L726.2,505.0 L726.3,503.5 L726.5,502.0 L726.6,500.5 L726.7,499.0 L726.9,497.5 L727.0,496.0 L727.1,494.5 L727.3,493.0 L727.4,491.5 L727.5,490.0 L727.7,488.6 L727.8,487.1 L728.0,485.6 L728.1,484.1 L728.2,482.6 L728.3,481.1 L728.5,479.6 L728.6,478.1 L728.7,476.6 L728.9,475.1 L729.0,473.6 L729.1,472.1 L729.3,470.6 L729.4,469.1 L729.5,467.6 L729.7,466.1 L729.8,464.6 L729.9,463.1 L730.1,461.6 L730.2,460.1 L730.3,458.6 L730.5,457.1 L730.6,455.6 L730.8,454.1 L730.9,452.6 L731.0,451.1 L731.2,449.7 L731.3,448.2 L731.5,446.7 L731.6,445.2 L731.8,443.7 L731.9,442.2 L732.1,440.7 L732.2,439.2 L732.4,437.7 L732.5,436.2 L732.7,434.7 L732.8,433.2 L733.0,431.7 L733.1,430.2 L733.3,428.7 L733.4,427.2 L733.5,425.7 L733.7,424.2 L733.8,422.7 L734.0,421.3 L734.1,419.8 L734.3,418.3 L734.4,416.8 L734.6,415.3 L734.7,413.8 L734.9,412.3 L735.0,410.8 L735.2,409.3 L735.3,407.8 L735.5,406.3 L735.6,404.8 L735.8,403.3 L736.0,401.8 L736.1,400.3 L736.3,398.8 L736.4,397.3 L736.6,395.8 L736.7,394.4 L736.9,392.9 L737.1,391.4 L737.2,389.9 L737.4,388.4 L737.5,386.9 L737.7,385.4 L737.8,383.9 L738.0,382.4 L738.1,380.9 L738.3,379.4 L738.4,377.9 L738.6,376.4 L738.7,374.9 L738.9,373.4 L739.0,371.9 L739.2,370.4 L739.3,368.9 L739.5,367.5 L739.6,366.0 L739.8,364.5 L740.0,363.0 L740.1,361.5 L740.3,360.0 L740.5,358.5 L740.7,357.0 L740.8,355.5 L741.0,354.0 L741.2,352.5 L741.4,351.0 L741.6,349.6 L741.8,348.1 L742.0,346.6 L742.1,345.1 L742.3,343.6 L742.5,342.1 L742.7,340.6 L742.9,339.1 L743.1,337.6 L743.3,336.1 L743.4,334.7 L743.6,333.2 L743.8,331.7 L744.0,330.2 L744.2,328.7 L744.4,327.2 L744.6,325.7 L744.8,324.2 L744.9,322.7 L745.1,321.2 L745.3,319.8 L745.5,318.3 L745.7,316.8 L745.9,315.3 L746.1,313.8 L746.3,312.3 L746.6,310.8 L746.8,309.3 L747.0,307.8 L747.2,306.4 L747.4,304.9 L747.6,303.4 L747.8,301.9 L748.0,300.4 L748.3,298.9 L748.5,297.4 L748.7,296.0 L748.9,294.5 L749.1,293.0 L749.4,291.5 L749.6,290.0 L749.8,288.5 L750.1,287.0 L750.3,285.6 L750.5,284.1 L750.8,282.6 L751.0,281.1 L751.3,279.6 L751.5,278.1 L751.8,276.7 L752.0,275.2 L752.3,273.7 L752.5,272.2 L752.8,270.7 L753.0,269.3 L753.3,267.8 L753.5,266.3 L753.8,264.8 L754.1,263.3 L754.3,261.9 L754.6,260.4 L754.8,258.9 L755.1,257.4 L755.4,256.0 L755.7,254.5 L755.9,253.0 L756.2,251.5 L756.5,250.0 L756.7,248.6 L757.0,247.1 L757.3,245.6 L757.6,244.1 L757.9,242.7 L758.1,241.2 L758.4,239.7 L758.7,238.2 L759.0,236.8 L759.3,235.3 L759.6,233.8 L759.9,232.3 L760.2,230.9 L760.5,229.4 L760.8,227.9 L761.1,226.5 L761.4,225.0 L761.7,223.5 L762.1,222.1 L762.4,220.6 L762.7,219.1 L763.0,217.7 L763.3,216.2 L763.7,214.7 L764.0,213.3 L764.3,211.8 L764.7,210.3 L765.0,208.9 L765.3,207.4 L765.7,205.9 L766.0,204.5 L766.4,203.0 L766.7,201.6 L767.1,200.1 L767.4,198.6 L767.8,197.2 L768.2,195.7 L768.5,194.3 L768.9,192.8 L769.3,191.4 L769.7,189.9 L770.1,188.5 L770.5,187.0 L770.8,185.6 L771.2,184.1 L771.7,182.7 L772.1,181.2 L772.5,179.8 L772.9,178.3 L773.3,176.9 L773.8,175.5 L774.2,174.0 L774.7,172.6 L775.1,171.2 L775.6,169.7 L776.0,168.3 L776.5,166.9 L777.0,165.5 L777.5,164.0 L778.0,162.6 L778.5,161.2 L779.0,159.8 L779.5,158.4 L780.0,157.0 L780.5,155.6 L781.1,154.2 L781.6,152.8 L782.2,151.4 L782.7,150.0 L783.3,148.6 L783.9,147.2 L784.5,145.8 L785.1,144.4 L785.7,143.1 L786.3,141.7 L786.9,140.3 L787.5,139.0 L788.2,137.6 L788.8,136.3 L789.5,134.9 L790.2,133.6 L790.9,132.3 L791.6,130.9 L792.3,129.6 L793.0,128.3 L793.7,127.0 L794.5,125.7 L795.2,124.4 L796.0,123.1 L796.7,121.8 L797.5,120.5 L798.3,119.2 L799.1,117.9 L799.9,116.6 L800.7,115.3 L801.5,114.1 L802.3,112.8 L803.1,111.6 L803.9,110.3 L804.8,109.1 L805.6,107.8 L806.5,106.6 L807.4,105.3 L808.2,104.1 L809.1,102.9 L810.0,101.7 L811.0,100.5 L811.9,99.3 L812.9,98.1 L813.8,97.0 L814.8,95.8 L815.8,94.7 L816.8,93.5 L817.8,92.4 L818.8,91.3 L819.9,90.2 L820.9,89.1 L822.0,88.0 L823.1,87.0 L824.2,86.0 L825.3,85.0 L826.4,84.0 L827.6,83.1 L828.7,82.1 L829.9,81.2 L831.1,80.4 L832.3,79.5 L833.5,78.7 L834.7,77.9 L835.9,77.2 L837.2,76.4 L838.5,75.7 L839.8,75.0 L841.1,74.3 L842.4,73.7 L843.8,73.0 L845.1,72.4 L846.5,71.8 L847.9,71.2 L849.3,70.7 L850.7,70.1 L852.1,69.6 L853.5,69.1 L854.9,68.5 L856.4,68.0 L857.8,67.6 L859.2,67.1 L860.7,66.7 L862.1,66.2 L863.6,65.8 L865.1,65.4 L866.5,65.0 L868.0,64.6 L869.4,64.2 L870.9,63.8 L872.4,63.5 L873.8,63.1 L875.3,62.8 L876.8,62.5 L878.2,62.2 L879.7,61.9 L881.2,61.6 L882.7,61.3 L884.1,61.0 L885.6,60.7 L887.1,60.4 L888.6,60.2 L890.0,59.9 L891.5,59.6 L893.0,59.4 L894.5,59.1 L896.0,58.9 L897.5,58.6 L898.9,58.4 L900.4,58.1 L901.9,57.9 L903.4,57.7 L904.9,57.4 L906.4,57.2 L907.8,57.0 L909.3,56.8 L910.8,56.5 L912.3,56.3 L913.8,56.1 L915.3,56.0 L916.8,55.8 L918.3,55.6 L919.7,55.5 L921.2,55.3 L922.7,55.2 L924.2,55.1 L925.7,55.0 L927.2,54.9 L928.7,54.8 L930.2,54.7 L931.7,54.6 L933.2,54.6 L934.7,54.5 L936.2,54.5 L937.7,54.4 L939.2,54.4 L940.7,54.3 L942.2,54.3 L943.7,54.3 L945.2,54.2 L946.7,54.2 L948.2,54.2 L949.7,54.2 L951.2,54.1 L952.7,54.1 L954.2,54.1 L955.7,54.1 L957.2,54.1 L958.7,54.1 L960.2,54.0 L961.7,54.0 L963.3,54.0 L964.8,54.0 L966.3,54.0 L967.8,54.0 L969.3,54.0 L970.8,54.0 L972.3,54.0 L973.8,54.0 L975.3,54.0 L976.8,54.0 L978.3,54.0 L979.8,54.0 L981.3,54.0 L982.8,54.0 L984.3,54.0 L985.8,54.0 L987.3,54.0 L988.8,54.0 L990.3,54.0 L991.8,54.0 L993.3,54.0 L994.8,54.0 L996.3,54.0 L997.8,54.0 L999.3,54.0 L1000.8,54.0 L1002.3,54.0 L1003.8,54.0 L1005.3,54.0 L1006.8,54.0 L1008.3,54.0 L1009.8,54.0 L1011.3,54.0 L1012.8,54.0 L1014.3,54.0 L1015.8,54.0 L1017.3,54.0 L1018.8,54.1 L1020.3,54.1 L1021.8,54.1 L1023.3,54.1 L1024.8,54.2 L1026.3,54.2 L1027.8,54.3 L1029.3,54.3 L1030.8,54.4 L1032.3,54.4 L1033.8,54.5 L1035.3,54.6 L1036.8,54.7 L1038.3,54.8 L1039.8,54.9 L1041.3,55.0 L1042.8,55.1 L1044.3,55.2 L1045.8,55.3 L1047.3,55.4 L1048.8,55.6 L1050.3,55.7 L1051.8,55.8 L1053.3,56.0 L1054.8,56.1 L1056.3,56.3 L1057.8,56.4 L1059.3,56.6 L1060.8,56.7 L1062.3,56.9 L1063.8,57.1 L1065.3,57.3 L1066.7,57.4 L1068.2,57.6 L1069.7,57.8 L1071.2,58.1 L1072.7,58.3 L1074.2,58.6 L1075.6,58.8 L1077.1,59.1 L1078.6,59.4 L1080.0,59.7 L1081.5,60.1 L1083.0,60.4 L1084.4,60.8 L1085.8,61.2 L1087.3,61.7 L1088.7,62.1 L1090.1,62.6 L1091.5,63.1 L1092.9,63.7 L1094.3,64.3 L1095.6,64.9 L1097.0,65.5 L1098.3,66.2 L1099.6,66.9 L1100.9,67.6 L1102.1,68.4 L1103.3,69.2 L1104.5,70.1 L1105.7,71.0 L1106.8,71.9 L1107.9,72.9 L1108.9,73.9 L1109.9,74.9 L1110.9,76.0 L1111.9,77.2 L1112.8,78.3 L1113.6,79.5 L1114.4,80.7 L1115.2,82.0 L1116.0,83.2 L1116.7,84.5 L1117.4,85.8 L1118.1,87.2 L1118.8,88.5 L1119.4,89.9 L1120.0,91.3 L1120.5,92.6 L1121.1,94.0 L1121.6,95.4 L1122.1,96.9 L1122.6,98.3 L1123.1,99.7 L1123.5,101.1 L1123.9,102.6 L1124.3,104.0 L1124.7,105.5 L1125.1,106.9 L1125.4,108.4 L1125.8,109.9 L1126.1,111.3 L1126.4,112.8 L1126.7,114.3 L1127.0,115.7 L1127.3,117.2 L1127.5,118.7 L1127.8,120.2 L1128.0,121.6 L1128.3,123.1 L1128.5,124.6 L1128.8,126.1 L1129.0,127.6 L1129.2,129.1 L1129.4,130.6 L1129.6,132.0 L1129.8,133.5 L1130.0,135.0 L1130.2,136.5 L1130.3,138.0 L1130.5,139.5 L1130.6,141.0 L1130.8,142.5 L1130.9,144.0 L1131.0,145.5 L1131.1,147.0 L1131.3,148.5 L1131.4,150.0 L1131.5,151.5 L1131.6,153.0 L1131.6,154.5 L1131.7,156.0 L1131.8,157.5 L1131.9,159.0 L1132.0,160.5 L1132.0,162.0 L1132.1,163.5 L1132.2,165.0 L1132.2,166.5 L1132.3,168.0 L1132.4,169.5 L1132.4,171.0 L1132.5,172.5 L1132.6,174.0 L1132.6,175.5 L1132.7,177.0 L1132.7,178.5 L1132.8,180.0 L1132.9,181.5 L1132.9,183.0 L1133.0,184.5 L1133.1,186.0 L1133.1,187.5 L1133.2,189.0 L1133.2,190.5 L1133.3,192.0 L1133.4,193.5 L1133.4,195.0 L1133.5,196.5 L1133.6,198.0 L1133.6,199.5 L1133.7,201.0 L1133.7,202.5 L1133.8,204.0 L1133.9,205.5 L1133.9,207.0 L1134.0,208.5 L1134.1,210.0 L1134.1,211.5 L1134.2,213.0 L1134.2,214.5 L1134.3,216.0 L1134.4,217.5 L1134.4,219.0 L1134.5,220.5 L1134.6,222.0 L1134.6,223.5 L1134.7,225.0 L1134.7,226.5 L1134.8,228.0 L1134.9,229.5 L1135.0,231.0 L1135.0,232.5 L1135.1,234.0 L1135.2,235.5 L1135.2,237.0 L1135.3,238.5 L1135.4,240.0 L1135.5,241.5 L1135.5,243.0 L1135.6,244.5 L1135.7,246.0 L1135.8,247.5 L1135.8,249.0 L1135.9,250.5 L1136.0,252.0 L1136.1,253.5 L1136.2,255.0 L1136.2,256.5 L1136.3,258.0 L1136.4,259.5 L1136.5,261.0 L1136.5,262.5 L1136.6,264.0 L1136.7,265.5 L1136.8,267.0 L1136.9,268.5 L1136.9,270.0 L1137.0,271.5 L1137.1,273.0 L1137.1,274.5 L1137.2,276.0 L1137.3,277.5 L1137.4,279.0 L1137.4,280.5 L1137.5,282.0 L1137.6,283.5 L1137.6,285.0 L1137.7,286.5 L1137.7,288.0 L1137.8,289.5 L1137.9,291.0 L1137.9,292.5 L1138.0,294.0 L1138.0,295.5 L1138.1,297.0 L1138.1,298.5 L1138.2,300.0 L1138.2,301.5 L1138.3,303.0 L1138.3,304.5 L1138.4,306.0 L1138.4,307.5 L1138.5,309.0 L1138.5,310.5 L1138.6,312.0 L1138.6,313.5 L1138.7,315.0 L1138.7,316.5 L1138.8,318.0 L1138.8,319.5 L1138.9,321.0 L1138.9,322.5 L1138.9,324.0 L1139.0,325.5 L1139.0,327.0 L1139.1,328.5 L1139.1,330.0 L1139.2,331.6 L1139.2,333.1 L1139.3,334.6 L1139.3,336.1 L1139.4,337.6 L1139.4,339.1 L1139.4,340.6 L1139.5,342.1 L1139.5,343.6 L1139.6,345.1 L1139.6,346.6 L1139.7,348.1 L1139.7,349.6 L1139.8,351.1 L1139.8,352.6 L1139.9,354.1 L1139.9,355.6 L1140.0,357.1 L1140.1,358.6 L1140.1,360.1 L1140.2,361.6 L1140.2,363.1 L1140.3,364.6 L1140.3,366.1 L1140.4,367.6 L1140.4,369.1 L1140.5,370.6 L1140.5,372.1 L1140.6,373.6 L1140.6,375.1 L1140.7,376.6 L1140.7,378.1 L1140.7,379.6 L1140.8,381.1 L1140.8,382.6 L1140.9,384.1 L1140.9,385.6 L1141.0,387.1 L1141.0,388.6 L1141.0,390.1 L1141.1,391.6 L1141.1,393.1 L1141.1,394.6 L1141.2,396.1 L1141.2,397.6 L1141.2,399.1 L1141.3,400.6 L1141.3,402.1 L1141.3,403.6 L1141.4,405.1 L1141.4,406.6 L1141.4,408.1 L1141.4,409.6 L1141.5,411.1 L1141.5,412.6 L1141.5,414.1 L1141.5,415.6 L1141.6,417.1 L1141.6,418.6 L1141.6,420.1 L1141.6,421.6 L1141.7,423.1 L1141.7,424.6 L1141.7,426.1 L1141.7,427.6 L1141.7,429.2 L1141.8,430.7 L1141.8,432.2 L1141.8,433.7 L1141.8,435.2 L1141.8,436.7 L1141.9,438.2 L1141.9,439.7 L1141.9,441.2 L1141.9,442.7 L1141.9,444.2 L1142.0,445.7 L1142.0,447.2 L1142.0,448.7 L1142.0,450.2 L1142.0,451.7 L1142.0,453.2 L1142.1,454.7 L1142.1,456.2 L1142.1,457.7 L1142.1,459.2 L1142.1,460.7 L1142.2,462.2 L1142.2,463.7 L1142.2,465.2 L1142.2,466.7 L1142.2,468.2 L1142.2,469.7 L1142.3,471.2 L1142.3,472.7 L1142.3,474.2 L1142.3,475.7 L1142.3,477.2 L1142.4,478.7 L1142.4,480.2 L1142.4,481.7 L1142.4,483.2 L1142.4,484.7 L1142.5,486.2 L1142.5,487.7 L1142.5,489.2 L1142.5,490.7 L1142.5,492.2 L1142.6,493.7 L1142.6,495.2 L1142.6,496.7 L1142.6,498.2 L1142.6,499.7 L1142.6,501.2 L1142.7,502.8 L1142.7,504.3 L1142.7,505.8 L1142.7,507.3 L1142.7,508.8 L1142.8,510.3 L1142.8,511.8 L1142.8,513.3 L1142.8,514.8 L1142.8,516.3 L1142.9,517.8 L1142.9,519.3 L1142.9,520.8 L1142.9,522.3 L1142.9,523.8 L1143.0,525.3 L1143.0,526.8 L1143.0,528.3 L1143.0,529.8 L1143.0,531.3 L1143.1,532.8 L1143.1,534.3 L1143.1,535.8 L1143.1,537.3 L1143.1,538.8 L1143.1,540.3 L1143.2,541.8 L1143.2,543.3 L1143.2,544.8 L1143.2,546.3 L1143.2,547.8 L1143.3,549.3 L1143.3,550.8 L1143.3,552.3 L1143.3,553.8 L1143.3,555.3 L1143.4,556.8 L1143.4,558.3 L1143.4,559.8 L1143.4,561.3 L1143.5,562.8 L1143.5,564.3 L1143.5,565.8 L1143.5,567.3 L1143.5,568.8 L1143.6,570.3 L1143.6,571.8 L1143.6,573.3 L1143.6,574.8 L1143.6,576.3 L1143.7,577.9 L1143.7,579.4 L1143.7,580.9 L1143.7,582.4 L1143.8,583.9 L1143.8,585.4 L1143.8,586.9 L1143.8,588.4 L1143.9,589.9 L1143.9,591.4 L1143.9,592.9 L1143.9,594.4 L1144.0,595.9 L1144.0,597.4 L1144.0,598.9 L1144.0,600.4 L1144.1,601.9 L1144.1,603.4 L1144.1,604.9 L1144.1,606.4 L1144.2,607.9 L1144.2,609.4 L1144.2,610.9 L1144.2,612.4 L1144.3,613.9 L1144.3,615.4 L1144.3,616.9 L1144.4,618.4 L1144.4,619.9 L1144.4,621.4 L1144.4,622.9 L1144.5,624.4 L1144.5,625.9 L1144.5,627.4 L1144.6,628.9 L1144.6,630.4 L1144.6,631.9 L1144.6,633.4 L1144.7,634.9 L1144.7,636.4 L1144.7,637.9 L1144.8,639.4 L1144.8,640.9 L1144.8,642.4 L1144.8,643.9 L1144.9,645.4 L1144.9,646.9 L1144.9,648.4 L1145.0,649.9 L1145.0,651.4 L1145.0,652.9 L1145.0,654.4 L1145.1,656.0 L1145.1,657.5 L1145.1,659.0 L1145.2,660.5 L1145.2,662.0 L1145.2,663.5 L1145.2,665.0 L1145.3,666.5 L1145.3,668.0 L1145.3,669.5 L1145.3,671.0 L1145.4,672.5 L1145.4,674.0 L1145.4,675.5 L1145.5,677.0 L1145.5,678.5 L1145.5,680.0 L1145.6,681.5 L1145.6,683.0 L1145.6,684.5 L1145.6,686.0 L1145.7,687.5 L1145.7,689.0 L1145.8,690.5 L1145.8,692.0 L1145.8,693.5 L1145.9,695.0 L1145.9,696.5 L1146.0,698.0 L1146.0,699.5 L1146.1,701.0 L1146.1,702.5 L1146.2,704.0 L1146.2,705.5 L1146.3,707.0 L1146.3,708.5 L1146.4,710.0 L1146.5,711.5 L1146.6,713.0 L1146.7,714.5 L1146.7,716.0 L1146.8,717.5 L1146.9,719.0 L1147.0,720.5 L1147.1,722.0 L1147.2,723.5 L1147.3,725.0 L1147.4,723.5 L1147.5,722.0 L1147.6,720.5 L1147.6,719.0 L1147.7,717.5 L1147.8,716.0 L1147.9,714.5 L1147.9,713.0 L1148.0,711.5 L1148.1,710.0 L1148.1,708.5 L1148.2,707.0 L1148.2,705.5 L1148.2,704.0 L1148.3,702.5 L1148.3,701.0 L1148.3,699.5 L1148.4,698.0 L1148.4,696.5 L1148.4,695.0 L1148.4,693.5 L1148.4,692.0 L1148.5,690.5 L1148.5,689.0 L1148.5,687.5 L1148.5,686.0 L1148.5,684.5 L1148.5,683.0 L1148.6,681.5 L1148.6,680.0 L1148.6,678.5 L1148.6,677.0 L1148.6,675.5 L1148.6,674.0 L1148.6,672.5 L1148.6,671.0 L1148.6,669.5 L1148.7,668.0 L1148.7,666.5 L1148.7,665.0 L1148.7,663.5 L1148.7,662.0 L1148.7,660.5 L1148.7,659.0 L1148.7,657.4 L1148.7,655.9 L1148.8,654.4 L1148.8,652.9 L1148.8,651.4 L1148.8,649.9 L1148.8,648.4 L1148.8,646.9 L1148.9,645.4 L1148.9,643.9 L1148.9,642.4 L1148.9,640.9 L1148.9,639.4 L1148.9,637.9 L1149.0,636.4 L1149.0,634.9 L1149.0,633.4 L1149.0,631.9 L1149.1,630.4 L1149.1,628.9 L1149.1,627.4 L1149.1,625.9 L1149.2,624.4 L1149.2,622.9 L1149.2,621.4 L1149.2,619.9 L1149.3,618.4 L1149.3,616.9 L1149.3,615.4 L1149.4,613.9 L1149.4,612.4 L1149.4,610.9 L1149.5,609.4 L1149.5,607.9 L1149.5,606.4 L1149.6,604.9 L1149.6,603.4 L1149.6,601.9 L1149.7,600.4 L1149.7,598.9 L1149.7,597.4 L1149.8,595.9 L1149.8,594.4 L1149.8,592.9 L1149.9,591.4 L1149.9,589.9 L1149.9,588.4 L1150.0,586.9 L1150.0,585.4 L1150.1,583.9 L1150.1,582.4 L1150.1,580.9 L1150.2,579.4 L1150.2,577.9 L1150.2,576.4 L1150.3,574.9 L1150.3,573.4 L1150.3,571.9 L1150.4,570.4 L1150.4,568.9 L1150.5,567.4 L1150.5,565.9 L1150.5,564.3 L1150.6,562.8 L1150.6,561.3 L1150.6,559.8 L1150.7,558.3 L1150.7,556.8 L1150.7,555.3 L1150.8,553.8 L1150.8,552.3 L1150.8,550.8 L1150.9,549.3 L1150.9,547.8 L1151.0,546.3 L1151.0,544.8 L1151.0,543.3 L1151.1,541.8 L1151.1,540.3 L1151.1,538.8 L1151.2,537.3 L1151.2,535.8 L1151.3,534.3 L1151.3,532.8 L1151.3,531.3 L1151.4,529.8 L1151.4,528.3 L1151.5,526.8 L1151.5,525.3 L1151.5,523.8 L1151.6,522.3 L1151.6,520.8 L1151.6,519.3 L1151.7,517.8 L1151.7,516.3 L1151.8,514.8 L1151.8,513.3 L1151.8,511.8 L1151.9,510.3 L1151.9,508.8 L1152.0,507.3 L1152.0,505.8 L1152.0,504.3 L1152.1,502.8 L1152.1,501.3 L1152.1,499.8 L1152.2,498.3 L1152.2,496.8 L1152.2,495.3 L1152.3,493.8 L1152.3,492.3 L1152.4,490.8 L1152.4,489.3 L1152.4,487.8 L1152.5,486.3 L1152.5,484.8 L1152.5,483.3 L1152.6,481.8 L1152.6,480.3 L1152.6,478.8 L1152.7,477.3 L1152.7,475.8 L1152.8,474.3 L1152.8,472.8 L1152.8,471.3 L1152.9,469.8 L1152.9,468.3 L1152.9,466.8 L1153.0,465.3 L1153.0,463.8 L1153.0,462.3 L1153.1,460.8 L1153.1,459.2 L1153.1,457.7 L1153.2,456.2 L1153.2,454.7 L1153.2,453.2 L1153.3,451.7 L1153.3,450.2 L1153.3,448.7 L1153.4,447.2 L1153.4,445.7 L1153.4,444.2 L1153.5,442.7 L1153.5,441.2 L1153.6,439.7 L1153.6,438.2 L1153.6,436.7 L1153.7,435.2 L1153.7,433.7 L1153.7,432.2 L1153.7,430.7 L1153.8,429.2 L1153.8,427.7 L1153.8,426.2 L1153.9,424.7 L1153.9,423.2 L1153.9,421.7 L1154.0,420.2 L1154.0,418.7 L1154.0,417.2 L1154.1,415.7 L1154.1,414.2 L1154.1,412.7 L1154.2,411.2 L1154.2,409.7 L1154.2,408.2 L1154.2,406.7 L1154.3,405.2 L1154.3,403.7 L1154.3,402.2 L1154.3,400.7 L1154.4,399.2 L1154.4,397.7 L1154.4,396.2 L1154.5,394.7 L1154.5,393.2 L1154.5,391.7 L1154.5,390.2 L1154.6,388.7 L1154.6,387.2 L1154.6,385.7 L1154.6,384.2 L1154.6,382.7 L1154.7,381.2 L1154.7,379.7 L1154.7,378.2 L1154.7,376.7 L1154.7,375.2 L1154.8,373.7 L1154.8,372.2 L1154.8,370.7 L1154.8,369.2 L1154.8,367.7 L1154.9,366.2 L1154.9,364.6 L1154.9,363.1 L1154.9,361.6 L1154.9,360.1 L1155.0,358.6 L1155.0,357.1 L1155.0,355.6 L1155.0,354.1 L1155.0,352.6 L1155.0,351.1 L1155.1,349.6 L1155.1,348.1 L1155.1,346.6 L1155.1,345.1 L1155.1,343.6 L1155.2,342.1 L1155.2,340.6 L1155.2,339.1 L1155.2,337.6 L1155.2,336.1 L1155.3,334.6 L1155.3,333.1 L1155.3,331.6 L1155.3,330.1 L1155.4,328.6 L1155.4,327.1 L1155.4,325.6 L1155.4,324.1 L1155.5,322.6 L1155.5,321.1 L1155.5,319.6 L1155.6,318.1 L1155.6,316.6 L1155.6,315.1 L1155.7,313.6 L1155.7,312.1 L1155.7,310.6 L1155.8,309.1 L1155.8,307.6 L1155.8,306.1 L1155.9,304.6 L1155.9,303.1 L1155.9,301.6 L1156.0,300.1 L1156.0,298.6 L1156.1,297.1 L1156.1,295.6 L1156.1,294.1 L1156.2,292.6 L1156.2,291.1 L1156.3,289.6 L1156.3,288.1 L1156.4,286.6 L1156.4,285.1 L1156.5,283.6 L1156.5,282.1 L1156.6,280.6 L1156.6,279.1 L1156.7,277.6 L1156.7,276.1 L1156.8,274.6 L1156.8,273.1 L1156.9,271.6 L1156.9,270.1 L1157.0,268.6 L1157.0,267.1 L1157.1,265.6 L1157.1,264.1 L1157.2,262.6 L1157.2,261.1 L1157.3,259.5 L1157.4,258.0 L1157.4,256.5 L1157.5,255.0 L1157.5,253.5 L1157.6,252.0 L1157.6,250.5 L1157.7,249.0 L1157.8,247.5 L1157.8,246.0 L1157.9,244.5 L1157.9,243.0 L1158.0,241.5 L1158.0,240.0 L1158.1,238.5 L1158.2,237.0 L1158.2,235.5 L1158.3,234.0 L1158.3,232.5 L1158.4,231.0 L1158.5,229.5 L1158.5,228.0 L1158.6,226.5 L1158.6,225.0 L1158.7,223.5 L1158.8,222.0 L1158.8,220.5 L1158.9,219.0 L1159.0,217.5 L1159.0,216.0 L1159.1,214.5 L1159.2,213.0 L1159.2,211.5 L1159.3,210.0 L1159.4,208.5 L1159.5,207.0 L1159.5,205.5 L1159.6,204.0 L1159.7,202.5 L1159.8,201.0 L1159.9,199.5 L1159.9,198.0 L1160.0,196.5 L1160.1,195.0 L1160.2,193.5 L1160.3,192.0 L1160.4,190.5 L1160.5,189.0 L1160.6,187.5 L1160.7,186.0 L1160.8,184.5 L1160.9,183.0 L1161.0,181.5 L1161.1,180.0 L1161.2,178.5 L1161.3,177.0 L1161.5,175.5 L1161.6,174.1 L1161.7,172.6 L1161.9,171.1 L1162.0,169.6 L1162.2,168.1 L1162.3,166.6 L1162.5,165.1 L1162.7,163.6 L1162.9,162.1 L1163.0,160.6 L1163.2,159.1 L1163.4,157.6 L1163.6,156.2 L1163.8,154.7 L1164.1,153.2 L1164.3,151.7 L1164.5,150.2 L1164.7,148.7 L1165.0,147.2 L1165.2,145.7 L1165.4,144.3 L1165.7,142.8 L1165.9,141.3 L1166.1,139.8 L1166.4,138.3 L1166.6,136.8 L1166.9,135.3 L1167.1,133.8 L1167.4,132.3 L1167.7,130.8 L1167.9,129.4 L1168.2,127.9 L1168.5,126.4 L1168.8,124.9 L1169.0,123.4 L1169.3,121.9 L1169.6,120.4 L1170.0,119.0 L1170.3,117.5 L1170.6,116.0 L1171.0,114.6 L1171.4,113.1 L1171.8,111.7 L1172.2,110.3 L1172.6,108.9 L1173.1,107.5 L1173.6,106.1 L1174.1,104.7 L1174.6,103.3 L1175.2,102.0 L1175.8,100.6 L1176.5,99.3 L1177.2,98.0 L1177.9,96.7 L1178.7,95.5 L1179.5,94.2 L1180.3,93.0 L1181.2,91.8 L1182.1,90.6 L1183.0,89.5 L1184.0,88.4 L1185.0,87.3 L1186.0,86.3 L1187.1,85.2 L1188.2,84.2 L1189.4,83.3 L1190.5,82.4 L1191.7,81.5 L1192.9,80.6 L1194.1,79.8 L1195.4,79.0 L1196.7,78.3 L1198.0,77.6 L1199.3,76.9 L1200.7,76.3 L1202.0,75.7 L1203.4,75.2 L1204.8,74.6 L1206.2,74.1 L1207.6,73.7 L1209.0,73.3 L1210.5,72.9 L1211.9,72.5 L1213.4,72.2 L1214.8,71.9 L1216.3,71.6 L1217.8,71.3 L1219.2,71.1 L1220.7,70.9 L1222.2,70.7 L1223.7,70.5 L1225.2,70.4 L1226.7,70.2 L1228.2,70.1 L1229.7,70.0 L1231.2,69.9 L1232.7,69.8 L1234.2,69.8 L1235.7,69.7 L1237.2,69.7 L1238.7,69.6 L1240.2,69.6 L1241.7,69.6 L1243.2,69.6 L1244.7,69.6 L1246.2,69.6 L1247.7,69.6 L1249.2,69.6 L1250.7,69.7 L1252.2,69.7 L1253.7,69.7 L1255.2,69.8 L1256.7,69.8 L1258.2,69.9 L1259.7,70.0 L1261.2,70.1 L1262.7,70.2 L1264.2,70.2 L1265.7,70.3 L1267.2,70.4 L1268.7,70.6 L1270.2,70.7 L1271.7,70.8 L1273.2,70.9 L1274.7,71.0 L1276.2,71.2 L1277.7,71.3 L1279.2,71.4 L1280.7,71.5 L1282.1,71.7 L1283.6,71.8 L1285.1,72.0 L1286.6,72.1 L1288.1,72.2 L1289.6,72.4 L1291.1,72.5 L1292.6,72.7 L1294.1,72.8 L1295.6,73.0 L1297.1,73.1 L1298.6,73.3 L1300.1,73.4 L1301.6,73.6 L1303.1,73.7 L1304.6,73.9 L1306.1,74.0 L1307.6,74.2 L1309.1,74.4 L1310.5,74.5 L1312.0,74.7 L1313.5,74.9 L1315.0,75.0 L1316.5,75.2 L1318.0,75.4 L1319.5,75.6 L1321.0,75.8 L1322.5,76.0 L1324.0,76.2 L1325.4,76.4 L1326.9,76.6 L1328.4,76.8 L1329.9,77.1 L1331.4,77.3 L1332.9,77.5 L1334.3,77.8 L1335.8,78.1 L1337.3,78.3 L1338.8,78.6 L1340.3,78.8 L1341.7,79.1 L1343.2,79.4 L1344.7,79.6 L1346.2,79.9 L1347.6,80.2 L1349.1,80.5 L1350.6,80.7 L1352.1,81.0 L1353.5,81.3 L1355.0,81.6 L1356.5,81.9 L1358.0,82.1 L1359.4,82.4 L1360.9,82.7 L1362.4,83.0 L1363.9,83.3 L1365.3,83.6 L1366.8,83.9 L1368.3,84.2 L1369.7,84.6 L1371.2,84.9 L1372.7,85.2 L1374.1,85.5 L1375.6,85.9 L1377.1,86.2 L1378.5,86.5 L1380.0,86.9 L1381.4,87.2 L1382.9,87.6 L1384.4,88.0 L1385.8,88.3 L1387.3,88.7 L1388.7,89.1 L1390.2,89.5 L1391.6,89.9 L1393.1,90.3 L1394.5,90.7 L1395.9,91.2 L1397.4,91.6 L1398.8,92.0 L1400.2,92.5 L1401.7,92.9 L1403.1,93.4 L1404.5,93.9 L1406.0,94.3 L1407.4,94.8 L1408.8,95.3 L1410.2,95.8 L1411.6,96.2 L1413.1,96.7 L1414.5,97.2 L1415.9,97.7 L1417.3,98.2 L1418.7,98.7 L1420.1,99.2 L1421.6,99.8 L1423.0,100.3 L1424.4,100.8 L1425.8,101.3 L1427.2,101.9 L1428.6,102.4 L1430.0,103.0 L1431.4,103.5 L1432.8,104.1 L1434.1,104.7 L1435.5,105.2 L1436.9,105.8 L1438.3,106.4 L1439.7,107.0 L1441.0,107.6 L1442.4,108.3 L1443.8,108.9 L1445.1,109.5 L1446.5,110.2 L1447.8,110.8 L1449.2,111.5 L1450.5,112.2 L1451.8,112.9 L1453.2,113.5 L1454.5,114.2 L1455.8,114.9 L1457.2,115.7 L1458.5,116.4 L1459.8,117.1 L1461.1,117.8 L1462.4,118.6 L1463.7,119.3 L1465.0,120.1 L1466.3,120.9 L1467.6,121.6 L1468.8,122.4 L1470.1,123.2 L1471.4,124.0 L1472.6,124.9 L1473.9,125.7 L1475.1,126.5 L1476.4,127.4 L1477.6,128.2 L1478.8,129.1 L1480.0,130.0 L1481.2,130.9 L1482.4,131.8 L1483.6,132.7 L1484.8,133.6 L1486.0,134.5 L1487.2,135.4 L1488.4,136.3 L1489.6,137.3 L1490.7,138.2 L1491.9,139.1 L1493.1,140.1 L1494.3,141.0 L1495.4,142.0 L1496.6,142.9 L1497.7,143.9 L1498.9,144.8 L1500.0,145.8 L1501.2,146.8 L1502.3,147.8 L1503.4,148.8 L1504.5,149.8 L1505.7,150.8 L1506.8,151.8 L1507.9,152.8 L1508.9,153.9 L1510.0,154.9 L1511.1,156.0 L1512.1,157.0 L1513.2,158.1 L1514.2,159.2 L1515.2,160.3 L1516.3,161.4 L1517.3,162.5 L1518.3,163.6 L1519.3,164.7 L1520.2,165.9 L1521.2,167.0 L1522.2,168.2 L1523.1,169.3 L1524.1,170.5 L1525.1,171.6 L1526.0,172.8 L1526.9,174.0 L1527.9,175.1 L1528.8,176.3 L1529.8,177.5 L1530.7,178.7 L1531.6,179.8 L1532.5,181.0 L1533.4,182.2 L1534.3,183.4 L1535.2,184.6 L1536.1,185.8 L1537.0,187.0 L1537.9,188.3 L1538.8,189.5 L1539.6,190.7 L1540.5,191.9 L1541.3,193.2 L1542.1,194.4 L1543.0,195.7 L1543.8,197.0 L1544.6,198.2 L1545.4,199.5 L1546.1,200.8 L1546.9,202.1 L1547.7,203.4 L1548.5,204.6 L1549.2,205.9 L1550.0,207.2 L1550.7,208.5 L1551.5,209.8 L1552.2,211.2 L1552.9,212.5 L1553.7,213.8 L1554.4,215.1 L1555.1,216.4 L1555.8,217.7 L1556.6,219.0 L1557.3,220.4 L1558.0,221.7 L1558.7,223.0 L1559.4,224.3 L1560.1,225.7 L1560.8,227.0 L1561.5,228.3 L1562.2,229.7 L1562.8,231.0 L1563.5,232.4 L1564.2,233.7 L1564.8,235.1 L1565.5,236.4 L1566.2,237.8 L1566.8,239.1 L1567.4,240.5 L1568.1,241.8 L1568.7,243.2 L1569.3,244.5 L1570.0,245.9 L1570.6,247.3 L1571.2,248.6 L1571.8,250.0 L1572.5,251.4 L1573.1,252.7 L1573.7,254.1 L1574.3,255.5 L1574.9,256.9 L1575.6,258.2 L1576.2,259.6 L1576.8,261.0 L1577.4,262.3 L1578.0,263.7 L1578.6,265.1 L1579.2,266.5 L1579.8,267.8 L1580.4,269.2 L1580.9,270.6 L1581.5,272.0 L1582.1,273.4 L1582.6,274.8 L1583.1,276.2 L1583.7,277.6 L1584.2,279.0 L1584.7,280.4 L1585.3,281.8 L1585.8,283.2 L1586.3,284.6 L1586.8,286.0 L1587.3,287.5 L1587.8,288.9 L1588.3,290.3 L1588.8,291.7 L1589.4,293.1 L1589.9,294.5 L1590.4,295.9 L1590.9,297.3 L1591.4,298.8 L1591.9,300.2 L1592.4,301.6 L1592.9,303.0 L1593.4,304.4 L1593.9,305.8 L1594.4,307.2 L1594.9,308.7 L1595.4,310.1 L1595.9,311.5 L1596.4,312.9 L1596.9,314.3 L1597.4,315.8 L1597.8,317.2 L1598.3,318.6 L1598.8,320.0 L1599.3,321.5 L1599.7,322.9 L1600.2,324.3 L1600.6,325.7 L1601.1,327.2 L1601.5,328.6 L1602.0,330.0 L1602.4,331.5 L1602.8,332.9 L1603.3,334.4 L1603.7,335.8 L1604.1,337.2 L1604.5,338.7 L1604.9,340.1 L1605.3,341.6 L1605.7,343.0 L1606.1,344.5 L1606.5,345.9 L1606.9,347.4 L1607.3,348.8 L1607.7,350.3 L1608.1,351.7 L1608.4,353.2 L1608.8,354.6 L1609.2,356.1 L1609.6,357.5 L1610.0,359.0 L1610.4,360.4 L1610.8,361.9 L1611.1,363.3 L1611.5,364.8 L1611.9,366.2 L1612.3,367.7 L1612.7,369.1 L1613.1,370.6 L1613.5,372.1 L1613.8,373.5 L1614.2,375.0 L1614.6,376.4 L1615.0,377.9 L1615.4,379.3 L1615.7,380.8 L1616.1,382.2 L1616.5,383.7 L1616.8,385.1 L1617.2,386.6 L1617.5,388.1 L1617.9,389.5 L1618.3,391.0 L1618.6,392.4 L1619.0,393.9 L1619.3,395.4 L1619.7,396.8 L1620.0,398.3 L1620.4,399.7 L1620.7,401.2 L1621.1,402.7 L1621.4,404.1 L1621.8,405.6 L1622.1,407.0 L1622.5,408.5 L1622.8,410.0 L1623.2,411.4 L1623.5,412.9 L1623.9,414.3 L1624.2,415.8 L1624.6,417.3 L1624.9,418.7 L1625.3,420.2 L1625.6,421.6 L1625.9,423.1 L1626.3,424.6 L1626.6,426.0 L1626.9,427.5 L1627.3,429.0 L1627.6,430.4 L1627.9,431.9 L1628.2,433.4 L1628.5,434.8 L1628.9,436.3 L1629.2,437.8 L1629.5,439.2 L1629.8,440.7 L1630.1,442.2 L1630.4,443.7 L1630.7,445.1 L1631.0,446.6 L1631.3,448.1 L1631.6,449.5 L1631.9,451.0 L1632.2,452.5 L1632.5,454.0 L1632.8,455.4 L1633.1,456.9 L1633.4,458.4 L1633.7,459.8 L1634.0,461.3 L1634.3,462.8 L1634.6,464.3 L1634.9,465.7 L1635.2,467.2 L1635.5,468.7 L1635.8,470.1 L1636.1,471.6 L1636.4,473.1 L1636.7,474.6 L1637.0,476.0 L1637.3,477.5 L1637.6,479.0 L1637.9,480.4 L1638.2,481.9 L1638.5,483.4 L1638.8,484.9 L1639.1,486.3 L1639.4,487.8 L1639.7,489.3 L1640.0,490.7 L1640.3,492.2 L1640.6,493.7 L1640.9,495.2 L1641.2,496.6 L1641.5,498.1 L1641.7,499.6 L1642.0,501.1 L1642.3,502.5 L1642.6,504.0 L1642.8,505.5 L1643.1,507.0 L1643.4,508.5 L1643.6,509.9 L1643.9,511.4 L1644.2,512.9 L1644.4,514.4 L1644.7,515.8 L1645.0,517.3 L1645.2,518.8 L1645.5,520.3 L1645.8,521.8 L1646.0,523.2 L1646.3,524.7 L1646.6,526.2 L1646.8,527.7 L1647.1,529.1 L1647.4,530.6 L1647.6,532.1 L1647.9,533.6 L1648.1,535.1 L1648.4,536.5 L1648.6,538.0 L1648.9,539.5 L1649.1,541.0 L1649.4,542.5 L1649.6,543.9 L1649.9,545.4 L1650.1,546.9 L1650.3,548.4 L1650.6,549.9 L1650.8,551.4 L1651.1,552.8 L1651.3,554.3 L1651.6,555.8 L1651.9,557.3 L1652.1,558.8 L1652.4,560.2 L1652.6,561.7 L1652.9,563.2 L1653.1,564.7 L1653.4,566.2 L1653.6,567.6 L1653.9,569.1 L1654.1,570.6 L1654.4,572.1 L1654.6,573.6 L1654.9,575.0 L1655.1,576.5 L1655.3,578.0 L1655.5,579.5 L1655.8,581.0 L1656.0,582.5 L1656.2,584.0 L1656.4,585.4 L1656.7,586.9 L1656.9,588.4 L1657.1,589.9 L1657.3,591.4 L1657.6,592.9 L1657.8,594.3 L1658.0,595.8 L1658.2,597.3 L1658.4,598.8 L1658.7,600.3 L1658.9,601.8 L1659.1,603.3 L1659.3,604.7 L1659.6,606.2 L1659.8,607.7 L1660.0,609.2 L1660.2,610.7 L1660.5,612.2 L1660.7,613.7 L1660.9,615.1 L1661.1,616.6 L1661.4,618.1 L1661.6,619.6 L1661.8,621.1 L1662.1,622.6 L1662.3,624.0 L1662.5,625.5 L1662.7,627.0 L1663.0,628.5 L1663.2,630.0 L1663.4,631.5 L1663.7,633.0 L1663.9,634.4 L1664.1,635.9 L1664.3,637.4 L1664.6,638.9 L1664.8,640.4 L1665.0,641.9 L1665.2,643.3 L1665.4,644.8 L1665.7,646.3 L1665.9,647.8 L1666.1,649.3 L1666.3,650.8 L1666.5,652.3 L1666.7,653.8 L1666.9,655.2 L1667.1,656.7 L1667.3,658.2 L1667.5,659.7 L1667.7,661.2 L1667.9,662.7 L1668.1,664.2 L1668.3,665.7 L1668.6,667.1 L1668.8,668.6 L1669.0,670.1 L1669.2,671.6 L1669.4,673.1 L1669.6,674.6 L1669.8,676.1 L1670.0,677.6 L1670.2,679.0 L1670.5,680.5 L1670.7,682.0 L1670.9,683.5 L1671.1,685.0 L1671.3,686.5 L1671.6,688.0 L1671.8,689.4 L1672.0,690.9 L1672.2,692.4 L1672.4,693.9 L1672.6,695.4 L1672.9,696.9 L1673.1,698.4 L1673.3,699.8 L1673.5,701.3 L1673.7,702.8 L1673.9,704.3 L1674.1,705.8 L1674.3,707.3 L1674.5,708.8 L1674.7,710.3 L1674.9,711.7 L1675.1,713.2 L1675.3,714.7 L1675.5,716.2 L1675.7,717.7 L1675.9,719.2 L1676.1,720.7 L1676.3,722.2 L1676.5,723.7 L1676.7,725.1 L1676.9,726.6 L1677.1,728.1 L1677.3,729.6 L1677.5,731.1 L1677.7,732.6 L1677.9,734.1 L1678.1,735.6 L1678.3,737.1 L1678.5,738.5 L1678.7,740.0 L1678.9,741.5 L1679.1,743.0 L1679.4,744.5 L1679.6,746.0 L1679.8,747.5 L1680.0,749.0 L1680.2,750.4 L1680.4,751.9 L1680.6,753.4 L1680.8,754.9 L1681.0,756.4 L1681.2,757.9 L1681.4,759.4 L1681.6,760.9 L1681.8,762.3 L1682.0,763.8 L1682.2,765.3 L1682.4,766.8 L1682.6,768.3 L1682.8,769.8 L1683.0,771.3 L1683.1,772.8 L1683.3,774.3 L1683.5,775.8 L1683.7,777.2 L1683.9,778.7 L1684.1,780.2 L1684.3,781.7 L1684.5,783.2 L1684.6,784.7 L1684.8,786.2 L1685.0,787.7 L1685.2,789.2 L1685.4,790.7 L1685.6,792.1 L1685.8,793.6 L1686.0,795.1 L1686.2,796.6 L1686.3,798.1 L1686.5,799.6 L1686.7,801.1 L1686.9,802.6 L1687.1,804.1 L1687.3,805.5 L1687.5,807.0 L1687.7,808.5 L1687.9,810.0 L1688.0,811.5 L1688.2,813.0 L1688.4,814.5 L1688.6,816.0 L1688.8,817.5 L1689.0,819.0 L1689.2,820.5 L1689.4,821.9 L1689.5,823.4 L1689.7,824.9 L1689.9,826.4 L1690.1,827.9 L1690.3,829.4 L1690.5,830.9 L1690.7,832.4 L1690.9,833.9 L1691.1,835.3 L1691.3,836.8 L1691.5,838.3 L1691.7,839.8 L1691.9,841.3 L1692.0,842.8 L1692.2,844.3 L1692.4,845.8 L1692.6,847.3 L1692.8,848.8 L1693.0,850.2 L1693.2,851.7 L1693.4,853.2 L1693.5,854.7 L1693.7,856.2 L1693.9,857.7 L1694.1,859.2 L1694.3,860.7 L1694.5,862.2 L1694.6,863.7 L1694.8,865.1 L1695.0,866.6 L1695.2,868.1 L1695.4,869.6 L1695.5,871.1 L1695.7,872.6 L1695.9,874.1 L1696.1,875.6 L1696.3,877.1 L1696.5,878.6 L1696.6,880.1 L1696.8,881.6 L1697.0,883.0 L1697.2,884.5 L1697.4,886.0 L1697.5,887.5 L1697.7,889.0 L1697.9,890.5 L1698.1,892.0 L1698.2,893.5 L1698.4,895.0 L1698.6,896.5 L1698.8,898.0 L1699.0,899.4 L1699.1,900.9 L1699.3,902.4 L1699.5,903.9 L1699.7,905.4 L1699.9,906.9 L1700.0,908.4 L1700.2,909.9 L1700.4,911.4 L1700.6,912.9 L1700.7,914.4 L1700.9,915.9 L1701.1,917.3 L1701.3,918.8 L1701.4,920.3 L1701.6,921.8 L1701.8,923.3 L1702.0,924.8 L1702.1,926.3 L1702.3,927.8 L1702.5,929.3 L1702.6,930.8 L1702.8,932.3 L1703.0,933.8 L1703.2,935.2 L1703.3,936.7 L1703.5,938.2 L1703.7,939.7 L1703.8,941.2 L1704.0,942.7 L1704.2,944.2 L1704.3,945.7 L1704.5,947.2 L1704.7,948.7 L1704.8,950.2 L1705.0,951.7 L1705.1,953.2 L1705.3,954.6 L1705.5,956.1 L1705.6,957.6 L1705.8,959.1 L1706.0,960.6 L1706.1,962.1 L1706.3,963.6 L1706.5,965.1 L1706.6,966.6 L1706.8,968.1 L1707.0,969.6 L1707.2,971.1 L1707.4,972.6 L1707.5,974.0 L1707.7,975.5 L1707.9,977.0 L1708.1,978.5 L1708.3,980.0 L1708.4,981.5 L1708.6,983.0 L1708.8,984.5 L1709.0,986.0 L1709.1,987.5 L1709.3,989.0 L1709.5,990.4 L1709.6,991.9 L1709.8,993.4 L1710.0,994.9 L1710.1,996.4 L1710.3,997.9 L1710.5,999.4 L1710.6,1000.9 L1710.8,1002.4 L1710.9,1003.9 L1711.1,1005.4 L1711.3,1006.9 L1711.4,1008.4 L1711.6,1009.9 L1711.8,1011.3 L1711.9,1012.8 L1712.1,1014.3 L1712.3,1015.8 L1712.5,1017.3 L1712.6,1018.8 L1712.8,1020.3 L1713.0,1021.8 L1713.2,1023.3 L1713.4,1024.8 L1713.5,1026.3 L1713.7,1027.8 L1713.9,1029.2 L1714.1,1030.7 L1714.3,1032.2 L1714.5,1033.7 L1714.6,1035.2 L1714.8,1036.7 L1715.0,1038.2 L1715.2,1039.7 L1715.4,1041.2 L1715.6,1042.7 L1715.8,1044.1 L1716.0,1045.6 L1716.1,1047.1 L1716.3,1048.6 L1716.5,1050.1 L1716.7,1051.6 L1716.9,1053.1 L1717.1,1054.6 L1717.3,1056.1 L1717.5,1057.6 L1717.7,1059.0 L1717.9,1060.5 L1718.1,1062.0 L1718.2,1063.5 L1718.4,1065.0 L1718.6,1066.5 L1718.8,1068.0 L1719.0,1069.5 L1719.2,1071.0 L1719.4,1072.5 L1719.5,1073.9 L1719.7,1075.4 L1719.9,1076.9 L1720.0,1078.4 L1720.2,1079.9 L1720.4,1081.4 L1720.6,1082.9 L1720.7,1084.4 L1720.9,1085.9 L1721.1,1087.4 L1721.2,1088.9 L1721.4,1090.4 L1721.6,1091.9 L1721.7,1093.3 L1721.9,1094.8 L1722.1,1096.3 L1722.2,1097.8 L1722.4,1099.3 L1722.6,1100.8 L1722.8,1102.3 L1723.0,1103.8 L1723.2,1105.3 L1723.3,1106.8 L1723.5,1108.3 L1723.7,1109.7 L1723.9,1111.2 L1724.1,1112.7 L1724.3,1114.2 L1724.5,1115.7 L1724.7,1117.2 L1724.9,1118.7 L1725.0,1120.2 L1725.2,1121.7 L1725.4,1123.2 L1725.6,1124.6 L1725.8,1126.1 L1726.0,1127.6 L1726.2,1129.1 L1726.3,1130.6 L1726.5,1132.1 L1726.7,1133.6 L1726.9,1135.1 L1727.1,1136.6 L1727.3,1138.1 L1727.5,1139.5 L1727.7,1141.0 L1727.9,1142.5 L1728.1,1144.0 L1728.3,1145.5 L1728.5,1147.0 L1728.7,1148.5 L1728.9,1150.0 L1729.1,1151.5 L1729.3,1152.9 L1729.5,1154.4 L1729.7,1155.9 L1729.9,1157.4 L1730.1,1158.9 L1730.3,1160.4 L1730.5,1161.9 L1730.7,1163.4 L1730.9,1164.8 L1731.1,1166.3 L1731.3,1167.8 L1731.5,1169.3 L1731.8,1170.8 L1732.0,1172.3 L1732.3,1173.7 L1732.5,1175.2 L1732.8,1176.7 L1733.0,1178.2 L1733.3,1179.7 L1733.6,1181.1 L1733.9,1182.6 L1734.2,1184.1 L1734.5,1185.5 L1734.8,1187.0 L1735.3,1185.6 L1735.9,1184.2 L1736.4,1182.8 L1736.9,1181.4 L1737.4,1180.0 L1737.9,1178.6 L1738.4,1177.2 L1738.9,1175.8 L1739.3,1174.4 L1739.7,1173.0 L1740.1,1171.6 L1740.5,1170.1 L1740.8,1168.7 L1741.1,1167.2 L1741.4,1165.8 L1741.7,1164.3 L1742.0,1162.8 L1742.3,1161.3 L1742.5,1159.9 L1742.8,1158.4 L1743.0,1156.9 L1743.2,1155.4 L1743.5,1153.9 L1743.7,1152.4 L1743.9,1150.9 L1744.1,1149.4 L1744.4,1147.9 L1744.6,1146.5 L1744.8,1145.0 L1745.0,1143.5 L1745.2,1142.0 L1745.4,1140.5 L1745.6,1139.0 L1745.8,1137.5 L1746.0,1136.0 L1746.2,1134.5 L1746.4,1133.0 L1746.6,1131.6 L1746.8,1130.1 L1747.0,1128.6 L1747.2,1127.1 L1747.4,1125.6 L1747.6,1124.1 L1747.8,1122.6 L1748.0,1121.1 L1748.2,1119.6 L1748.4,1118.1 L1748.6,1116.7 L1748.9,1115.2 L1749.1,1113.7 L1749.3,1112.2 L1749.5,1110.7 L1749.7,1109.2 L1750.0,1107.7 L1750.2,1106.2 L1750.4,1104.8 L1750.6,1103.3 L1750.8,1101.8 L1751.0,1100.3 L1751.2,1098.8 L1751.4,1097.3 L1751.6,1095.8 L1751.8,1094.3 L1752.0,1092.8 L1752.2,1091.4 L1752.4,1089.9 L1752.6,1088.4 L1752.8,1086.9 L1753.0,1085.4 L1753.2,1083.9 L1753.5,1082.4 L1753.7,1080.9 L1753.9,1079.4 L1754.1,1078.0 L1754.3,1076.5 L1754.5,1075.0 L1754.8,1073.5 L1755.0,1072.0 L1755.2,1070.5 L1755.4,1069.0 L1755.6,1067.5 L1755.8,1066.1 L1756.0,1064.6 L1756.3,1063.1 L1756.5,1061.6 L1756.7,1060.1 L1756.9,1058.6 L1757.1,1057.1 L1757.3,1055.6 L1757.5,1054.1 L1757.7,1052.7 L1757.9,1051.2 L1758.1,1049.7 L1758.4,1048.2 L1758.6,1046.7 L1758.8,1045.2 L1759.0,1043.7 L1759.2,1042.2 L1759.4,1040.7 L1759.7,1039.3 L1759.9,1037.8 L1760.1,1036.3 L1760.3,1034.8 L1760.5,1033.3 L1760.8,1031.8 L1761.0,1030.3 L1761.2,1028.8 L1761.4,1027.4 L1761.6,1025.9 L1761.8,1024.4 L1762.1,1022.9 L1762.3,1021.4 L1762.5,1019.9 L1762.7,1018.4 L1762.9,1016.9 L1763.1,1015.5 L1763.3,1014.0 L1763.5,1012.5 L1763.7,1011.0 L1763.9,1009.5 L1764.1,1008.0 L1764.3,1006.5 L1764.5,1005.0 L1764.7,1003.5 L1764.9,1002.0 L1765.2,1000.6 L1765.4,999.1 L1765.6,997.6 L1765.8,996.1 L1766.0,994.6 L1766.2,993.1 L1766.4,991.6 L1766.7,990.1 L1766.9,988.7 L1767.1,987.2 L1767.3,985.7 L1767.6,984.2 L1767.8,982.7 L1768.0,981.2 L1768.3,979.7 L1768.5,978.3 L1768.7,976.8 L1768.9,975.3 L1769.2,973.8 L1769.4,972.3 L1769.6,970.8 L1769.8,969.3 L1770.1,967.8 L1770.3,966.4 L1770.5,964.9 L1770.7,963.4 L1770.9,961.9 L1771.2,960.4 L1771.4,958.9 L1771.6,957.4 L1771.9,956.0 L1772.1,954.5 L1772.3,953.0 L1772.6,951.5 L1772.8,950.0 L1773.0,948.5 L1773.3,947.0 L1773.5,945.6 L1773.7,944.1 L1774.0,942.6 L1774.2,941.1 L1774.4,939.6 L1774.7,938.1 L1774.9,936.7 L1775.2,935.2 L1775.4,933.7 L1775.6,932.2 L1775.9,930.7 L1776.1,929.2 L1776.4,927.7 L1776.6,926.3 L1776.8,924.8 L1777.1,923.3 L1777.3,921.8 L1777.5,920.3 L1777.8,918.8 L1778.0,917.4 L1778.3,915.9 L1778.5,914.4 L1778.7,912.9 L1779.0,911.4 L1779.2,909.9 L1779.4,908.4 L1779.7,907.0 L1779.9,905.5 L1780.2,904.0 L1780.4,902.5 L1780.6,901.0 L1780.9,899.5 L1781.1,898.0 L1781.4,896.6 L1781.6,895.1 L1781.8,893.6 L1782.1,892.1 L1782.3,890.6 L1782.6,889.1 L1782.8,887.7 L1783.0,886.2 L1783.3,884.7 L1783.5,883.2 L1783.8,881.7 L1784.0,880.2 L1784.3,878.8 L1784.5,877.3 L1784.8,875.8 L1785.0,874.3 L1785.2,872.8 L1785.5,871.3 L1785.7,869.9 L1786.0,868.4 L1786.2,866.9 L1786.5,865.4 L1786.7,863.9 L1787.0,862.4 L1787.3,861.0 L1787.5,859.5 L1787.8,858.0 L1788.0,856.5 L1788.3,855.0 L1788.5,853.6 L1788.8,852.1 L1789.1,850.6 L1789.3,849.1 L1789.6,847.6 L1789.8,846.2 L1790.1,844.7 L1790.4,843.2 L1790.7,841.7 L1790.9,840.2 L1791.2,838.8 L1791.5,837.3 L1791.7,835.8 L1792.0,834.3 L1792.3,832.9 L1792.6,831.4 L1792.9,829.9 L1793.1,828.4 L1793.4,826.9 L1793.7,825.5 L1794.0,824.0 L1794.3,822.5 L1794.6,821.0 L1794.8,819.6 L1795.1,818.1 L1795.4,816.6 L1795.7,815.1 L1796.0,813.7 L1796.3,812.2 L1796.5,810.7 L1796.8,809.2 L1797.1,807.7 L1797.4,806.3 L1797.7,804.8 L1797.9,803.3 L1798.2,801.8 L1798.5,800.4 L1798.8,798.9 L1799.1,797.4 L1799.4,795.9 L1799.7,794.5 L1800.0,793.0 L1800.3,791.5 L1800.6,790.0 L1800.8,788.6 L1801.2,787.1 L1801.5,785.6 L1801.8,784.1 L1802.1,782.7 L1802.4,781.2 L1802.7,779.7 L1803.0,778.3 L1803.3,776.8 L1803.7,775.3 L1804.0,773.9 L1804.3,772.4 L1804.6,770.9 L1804.9,769.5 L1805.3,768.0 L1805.6,766.5 L1805.9,765.0 L1806.3,763.6 L1806.6,762.1 L1806.9,760.6 L1807.2,759.2 L1807.6,757.7 L1807.9,756.2 L1808.2,754.8 L1808.5,753.3 L1808.9,751.8 L1809.2,750.4 L1809.5,748.9 L1809.8,747.4 L1810.2,746.0 L1810.5,744.5 L1810.8,743.0 L1811.1,741.6 L1811.5,740.1 L1811.8,738.6 L1812.1,737.2 L1812.5,735.7 L1812.8,734.2 L1813.1,732.8 L1813.5,731.3 L1813.8,729.8 L1814.2,728.4 L1814.5,726.9 L1814.8,725.4 L1815.2,724.0 L1815.5,722.5 L1815.9,721.1 L1816.2,719.6 L1816.6,718.1 L1816.9,716.7 L1817.3,715.2 L1817.7,713.7 L1818.0,712.3 L1818.4,710.8 L1818.7,709.4 L1819.1,707.9 L1819.5,706.5 L1819.8,705.0 L1820.2,703.5 L1820.6,702.1 L1820.9,700.6 L1821.3,699.2 L1821.7,697.7 L1822.0,696.2 L1822.4,694.8 L1822.8,693.3 L1823.1,691.9 L1823.5,690.4 L1823.8,688.9 L1824.2,687.5 L1824.5,686.0 L1824.9,684.6 L1825.2,683.1 L1825.6,681.6 L1826.0,680.2 L1826.3,678.7 L1826.7,677.3 L1827.0,675.8 L1827.4,674.3 L1827.8,672.9 L1828.2,671.4 L1828.6,670.0 L1828.9,668.5 L1829.4,667.1 L1829.8,665.6 L1830.2,664.2 L1830.6,662.8 L1831.1,661.3 L1831.5,659.9 L1831.9,658.5 L1832.4,657.0 L1832.8,655.6 L1833.3,654.2 L1833.8,652.7 L1834.2,651.3 L1834.7,649.9 L1835.1,648.4 L1835.6,647.0 L1836.1,645.6 L1836.5,644.1 L1837.0,642.7 L1837.4,641.3 L1837.9,639.8 L1838.4,638.4 L1838.8,637.0 L1839.3,635.5 L1839.7,634.1 L1840.2,632.7 L1840.7,631.3 L1841.1,629.8 L1841.6,628.4 L1842.1,627.0 L1842.6,625.5 L1843.0,624.1 L1843.5,622.7 L1844.0,621.3 L1844.5,619.9 L1845.0,618.4 L1845.5,617.0 L1846.0,615.6 L1846.5,614.2 L1847.0,612.8 L1847.6,611.4 L1848.1,610.0 L1848.6,608.6 L1849.2,607.2 L1849.7,605.7 L1850.2,604.3 L1850.7,602.9 L1851.3,601.5 L1851.8,600.1 L1852.3,598.7 L1852.9,597.3 L1853.4,595.9 L1853.9,594.5 L1854.4,593.1 L1854.9,591.7 L1855.5,590.2 L1856.0,588.8 L1856.5,587.4 L1857.0,586.0 L1857.6,584.6 L1858.1,583.2 L1858.7,581.8 L1859.2,580.4 L1859.8,579.0 L1860.4,577.7 L1860.9,576.3 L1861.5,574.9 L1862.1,573.5 L1862.7,572.1 L1863.4,570.8 L1864.0,569.4 L1864.6,568.0 L1865.2,566.7 L1865.9,565.3 L1866.5,563.9 L1867.1,562.6 L1867.8,561.2 L1868.4,559.9 L1869.1,558.5 L1869.7,557.1 L1870.4,555.8 L1871.0,554.4 L1871.7,553.1 L1872.3,551.7 L1873.0,550.4 L1873.7,549.0 L1874.3,547.7 L1875.0,546.4 L1875.7,545.0 L1876.4,543.7 L1877.1,542.4 L1877.8,541.0 L1878.5,539.7 L1879.2,538.4 L1879.9,537.1 L1880.7,535.7 L1881.4,534.4 L1882.1,533.1 L1882.9,531.8 L1883.6,530.5 L1884.4,529.2 L1885.1,527.9 L1885.9,526.6 L1886.7,525.3 L1887.4,524.0 L1888.2,522.7 L1889.0,521.5 L1889.8,520.2 L1890.6,518.9 L1891.4,517.6 L1892.2,516.4 L1893.1,515.1 L1893.9,513.9 L1894.7,512.6 L1895.6,511.4 L1896.5,510.2 L1897.3,509.0 L1898.2,507.7 L1899.1,506.5 L1900.0,505.3 L1900.9,504.2 L1901.9,503.0 L1902.8,501.8 L1903.8,500.7 L1904.7,499.5 L1905.7,498.4 L1906.7,497.2 L1907.7,496.1 L1908.7,495.0 L1909.7,493.9 L1910.7,492.8 L1911.8,491.7 L1912.8,490.6 L1913.9,489.6 L1915.0,488.5 L1916.0,487.5 L1917.1,486.5 L1918.2,485.4 L1919.4,484.4 L1920.5,483.4 L1921.6,482.4 L1922.8,481.5 L1923.9,480.5 L1925.1,479.6 L1926.3,478.6 L1927.4,477.7 L1928.6,476.8 L1929.9,475.9 L1931.1,475.1 L1932.3,474.2 L1933.6,473.4 L1934.8,472.6 L1936.1,471.8 L1937.4,471.0 L1938.6,470.2 L1940.0,469.5 L1941.3,468.7 L1942.6,468.0 L1943.9,467.4 L1945.3,466.7 L1946.6,466.1 L1948.0,465.5 L1949.4,464.9 L1950.8,464.4 L1952.2,463.8 L1953.6,463.4 L1955.0,462.9 L1956.4,462.5 L1957.9,462.1 L1959.3,461.7 L1960.8,461.4 L1962.2,461.1 L1963.7,460.8 L1965.1,460.6 L1966.6,460.4 L1968.1,460.2 L1969.6,460.1 L1971.1,460.0 L1972.6,459.9 L1974.0,459.9 L1975.5,459.8 L1977.0,459.9 L1978.5,459.9 L1980.0,460.0 L1981.5,460.1 L1983.0,460.3 L1984.4,460.5 L1985.9,460.7 L1987.4,460.9 L1988.8,461.2 L1990.3,461.6 L1991.7,461.9 L1993.2,462.3 L1994.6,462.8 L1996.0,463.2 L1997.4,463.7 L1998.8,464.3 L2000.2,464.8 L2001.5,465.4 L2002.9,466.1 L2004.2,466.7 L2005.5,467.4 L2006.8,468.1 L2008.1,468.9 L2009.4,469.7 L2010.6,470.5 L2011.9,471.3 L2013.1,472.2 L2014.3,473.1 L2015.5,474.0 L2016.7,474.9 L2017.8,475.8 L2019.0,476.8 L2020.1,477.8 L2021.2,478.8 L2022.4,479.8 L2023.5,480.8 L2024.5,481.8 L2025.6,482.9 L2026.7,483.9 L2027.8,485.0 L2028.8,486.1 L2029.9,487.1 L2030.9,488.2 L2032.0,489.3 L2033.0,490.4 L2034.0,491.5 L2035.0,492.6 L2036.0,493.7 L2037.0,494.9 L2038.0,496.0 L2039.0,497.2 L2039.9,498.3 L2040.9,499.5 L2041.8,500.6 L2042.8,501.8 L2043.7,503.0 L2044.6,504.2 L2045.5,505.4 L2046.4,506.6 L2047.3,507.8 L2048.1,509.0 L2049.0,510.3 L2049.8,511.5 L2050.7,512.8 L2051.5,514.0 L2052.3,515.3 L2053.2,516.5 L2054.0,517.8 L2054.8,519.1 L2055.6,520.3 L2056.3,521.6 L2057.1,522.9 L2057.9,524.2 L2058.7,525.5 L2059.4,526.8 L2060.2,528.1 L2060.9,529.4 L2061.7,530.7 L2062.4,532.0 L2063.1,533.3 L2063.8,534.7 L2064.6,536.0 L2065.3,537.3 L2066.0,538.6 L2066.6,540.0 L2067.3,541.3 L2068.0,542.7 L2068.6,544.0 L2069.3,545.4 L2069.9,546.7 L2070.6,548.1 L2071.2,549.5 L2071.8,550.8 L2072.4,552.2 L2073.0,553.6 L2073.6,555.0 L2074.2,556.3 L2074.8,557.7 L2075.4,559.1 L2076.0,560.5 L2076.5,561.9 L2077.1,563.3 L2077.7,564.7 L2078.3,566.0 L2078.8,567.4 L2079.4,568.8 L2079.9,570.2 L2080.5,571.6 L2081.0,573.0 L2081.6,574.4 L2082.1,575.8 L2082.6,577.2 L2083.1,578.7 L2083.6,580.1 L2084.1,581.5 L2084.6,582.9 L2085.1,584.3 L2085.6,585.8 L2086.1,587.2 L2086.6,588.6 L2087.0,590.0 L2087.5,591.5 L2088.0,592.9 L2088.4,594.3 L2088.9,595.7 L2089.4,597.2 L2089.8,598.6 L2090.3,600.0 L2090.7,601.5 L2091.2,602.9 L2091.7,604.3 L2092.1,605.8 L2092.6,607.2 L2093.0,608.6 L2093.4,610.1 L2093.9,611.5 L2094.3,613.0 L2094.7,614.4 L2095.2,615.8 L2095.6,617.3 L2096.0,618.7 L2096.4,620.2 L2096.8,621.6 L2097.2,623.1 L2097.6,624.5 L2098.0,626.0 L2098.4,627.4 L2098.8,628.9 L2099.2,630.3 L2099.6,631.8 L2100.0,633.2 L2100.3,634.7 L2100.7,636.1 L2101.1,637.6 L2101.4,639.1 L2101.8,640.5 L2102.2,642.0 L2102.5,643.4 L2102.9,644.9 L2103.3,646.4 L2103.6,647.8 L2104.0,649.3 L2104.3,650.7 L2104.7,652.2 L2105.1,653.7 L2105.4,655.1 L2105.8,656.6 L2106.1,658.0 L2106.5,659.5 L2106.8,661.0 L2107.2,662.4 L2107.6,663.9 L2107.9,665.3 L2108.3,666.8 L2108.6,668.3 L2109.0,669.7 L2109.3,671.2 L2109.7,672.6 L2110.0,674.1 L2110.3,675.6 L2110.7,677.0 L2111.0,678.5 L2111.3,680.0 L2111.6,681.5 L2111.9,682.9 L2112.2,684.4 L2112.4,685.9 L2112.7,687.4 L2113.0,688.8 L2113.2,690.3 L2113.5,691.8 L2113.7,693.3 L2114.0,694.8 L2114.2,696.2" stroke="#00AEF0" stroke-width="9.1" stroke-dasharray="0.01 18.12"/>
</g>
<g stroke="#000" stroke-width="7.6" fill="none" stroke-linecap="round">
<path d="M284.4,42.30 V1235.50"/>
<path d="M267.60,1218.75 H2112.50"/>
<path d="M267.60,1101.11 H284.4"/>
<path d="M267.60,983.46 H284.4"/>
<path d="M267.60,865.82 H284.4"/>
<path d="M267.60,748.17 H284.4"/>
<path d="M267.60,630.52 H284.4"/>
<path d="M267.60,512.88 H284.4"/>
<path d="M267.60,395.24 H284.4"/>
<path d="M267.60,277.59 H284.4"/>
<path d="M267.60,159.94 H284.4"/>
<path d="M267.60,42.30 H284.4"/>
<path d="M566.34,1218.75 V1235.50"/>
<path d="M848.28,1218.75 V1235.50"/>
<path d="M1130.22,1218.75 V1235.50"/>
<path d="M1412.16,1218.75 V1235.50"/>
<path d="M1694.10,1218.75 V1235.50"/>
<path d="M1976.04,1218.75 V1235.50"/>
</g>
<text class="t" transform="translate(227,1242.0) scale(1,1.04)" text-anchor="end">0</text>
<text class="t" transform="translate(227,1124.3) scale(1,1.04)" text-anchor="end">0.1</text>
<text class="t" transform="translate(227,1006.7) scale(1,1.04)" text-anchor="end">0.2</text>
<text class="t" transform="translate(227,889.0) scale(1,1.04)" text-anchor="end">0.3</text>
<text class="t" transform="translate(227,771.4) scale(1,1.04)" text-anchor="end">0.4</text>
<text class="t" transform="translate(227,653.7) scale(1,1.04)" text-anchor="end">0.5</text>
<text class="t" transform="translate(227,536.1) scale(1,1.04)" text-anchor="end">0.6</text>
<text class="t" transform="translate(227,418.4) scale(1,1.04)" text-anchor="end">0.7</text>
<text class="t" transform="translate(227,300.8) scale(1,1.04)" text-anchor="end">0.8</text>
<text class="t" transform="translate(227,183.1) scale(1,1.04)" text-anchor="end">0.9</text>
<text class="t" transform="translate(227,65.5) scale(1,1.04)" text-anchor="end">1</text>
<text class="t" transform="translate(284.4,1322) scale(1,1.04)" text-anchor="middle">0</text>
<text class="t" transform="translate(566.3,1322) scale(1,1.04)" text-anchor="middle">0.2</text>
<text class="t" transform="translate(848.3,1322) scale(1,1.04)" text-anchor="middle">0.4</text>
<text class="t" transform="translate(1130.2,1322) scale(1,1.04)" text-anchor="middle">0.6</text>
<text class="t" transform="translate(1412.2,1322) scale(1,1.04)" text-anchor="middle">0.8</text>
<text class="t" transform="translate(1694.1,1322) scale(1,1.04)" text-anchor="middle">1</text>
<text class="t" transform="translate(1976.0,1322) scale(1,1.04)" text-anchor="middle">1.2</text>
<text class="t" x="1237.5" y="1433" text-anchor="middle">Frequency (<tspan font-style="italic">THz</tspan>)</text>
<text transform="translate(79.5,630.5) rotate(-90)" text-anchor="middle" font-size="71"><tspan font-weight="bold">S</tspan><tspan font-weight="bold" font-size="46" dy="12.5">11</tspan><tspan dy="-12.5"> (Reflection)</tspan></text>
<g fill="none" stroke-linecap="round">
<path d="M1095.40,816.2 H1190.70" stroke="#000" stroke-width="7.0"/>
<path d="M1095.35,905.5 H1190.95" stroke="#FF0000" stroke-width="6.9" stroke-dasharray="14.7 14.5"/>
<path d="M1094.55,994.1 H1190" stroke="#8ECF4B" stroke-width="8.3" stroke-dasharray="27.9 35.7 1.1 35.7"/>
<path d="M1094.85,1083 H1190" stroke="#00AEF0" stroke-width="9.1" stroke-dasharray="0.01 18.12"/>
</g>
<text class="l" x="1202.5" y="837.2">D= 105 µm</text>
<text class="l" x="1202.5" y="926.7">D= 110 µm</text>
<text class="l" x="1202.5" y="1016.5">D= 115 µm</text>
<text class="l" x="1202.5" y="1106">D= 120 µm</text>
</g>
</svg></body></html>
